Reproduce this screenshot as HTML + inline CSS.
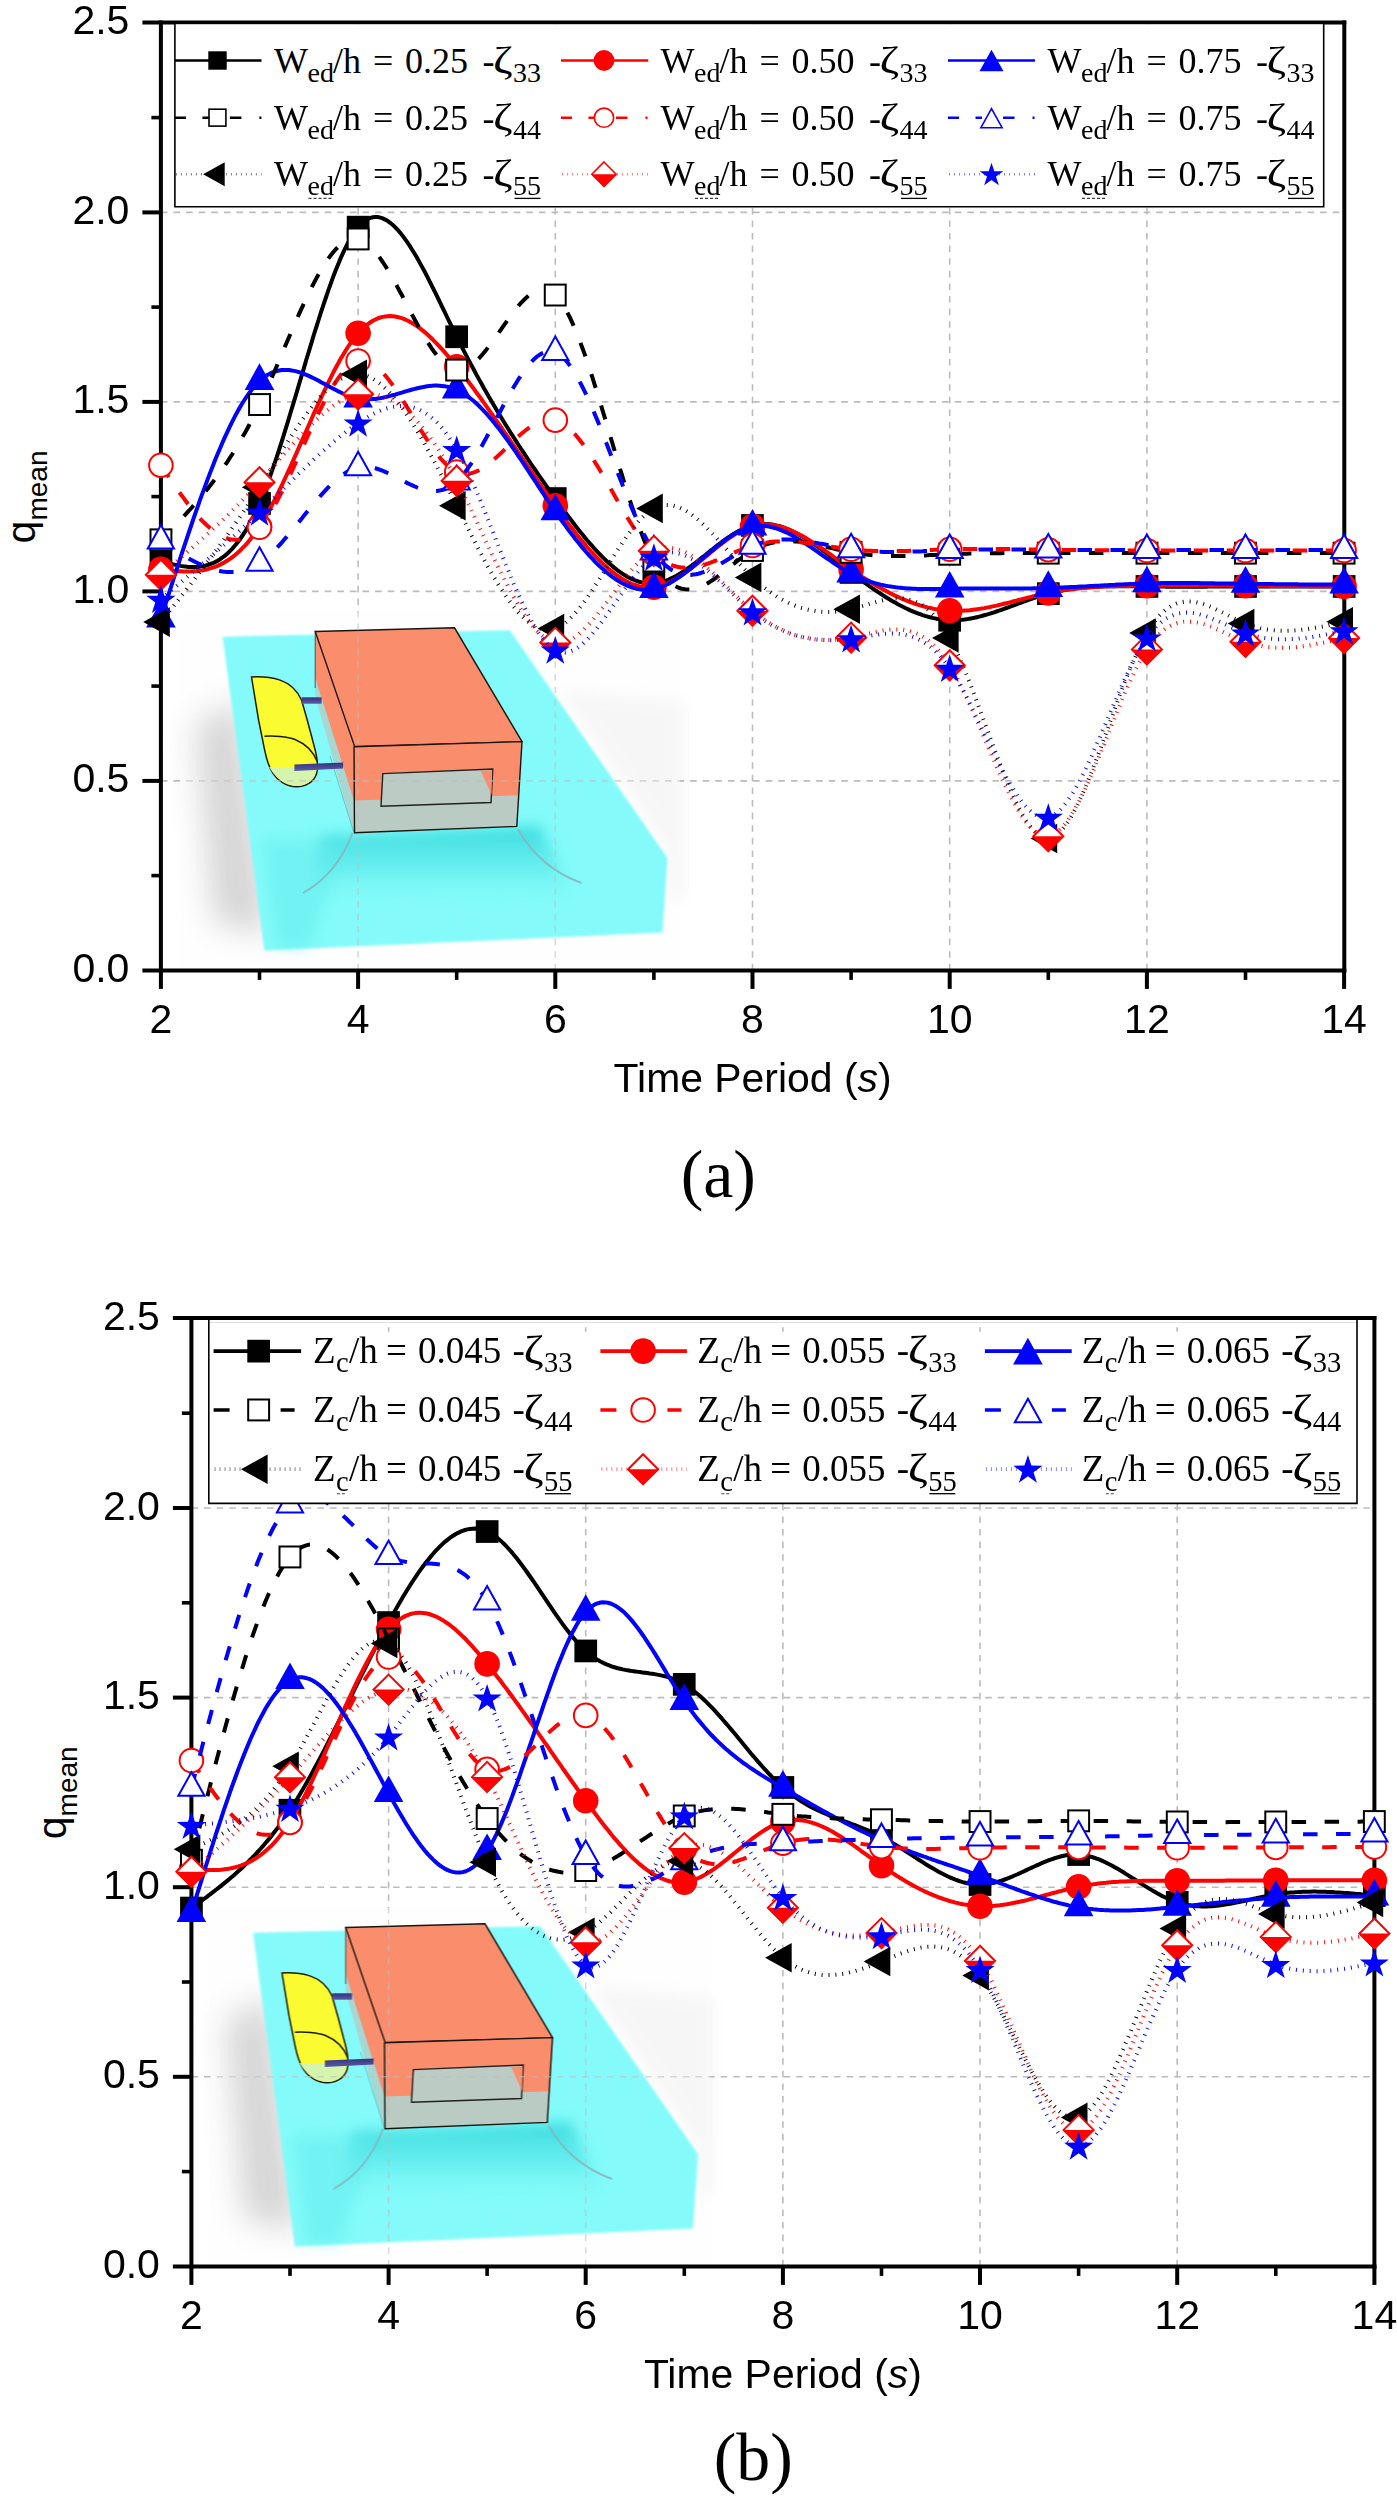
<!DOCTYPE html>
<html><head><meta charset="utf-8"><title>q_mean charts</title>
<style>html,body{margin:0;padding:0;background:#fff}svg{display:block;opacity:0.999}</style></head>
<body>
<svg width="1397" height="2500" viewBox="0 0 1397 2500">
<defs>

<filter id="blur14" x="-50%" y="-50%" width="200%" height="200%"><feGaussianBlur stdDeviation="16"/></filter>
<filter id="blur8" x="-50%" y="-50%" width="200%" height="200%"><feGaussianBlur stdDeviation="7"/></filter>
<filter id="blur2" x="-5%" y="-5%" width="110%" height="110%"><feGaussianBlur stdDeviation="1.1"/></filter>
<filter id="blur1" x="-5%" y="-5%" width="110%" height="110%"><feGaussianBlur stdDeviation="0.55"/></filter>
<linearGradient id="ush" x1="0" y1="0" x2="0" y2="1">
  <stop offset="0" stop-color="#35d9dc" stop-opacity="0.95"/><stop offset="0.45" stop-color="#4fe3e5" stop-opacity="0.6"/>
  <stop offset="1" stop-color="#86fbfb" stop-opacity="0"/></linearGradient>
<linearGradient id="rod" x1="0" y1="0" x2="0" y2="1">
  <stop offset="0" stop-color="#35357f"/><stop offset="1" stop-color="#5a5aa6"/></linearGradient>
<g id="inset">
  <rect x="180" y="612" width="500" height="357" fill="#fefefe"/>
  <path d="M196 725 L240 700 L270 935 L214 922 Z" fill="#767676" opacity="0.3" filter="url(#blur14)"/>
  <path d="M560 690 L668 850 L668 900 L682 900 L682 700 Z" fill="#9a9a9a" opacity="0.07" filter="url(#blur8)"/>
  <path d="M222.6 636.7 L509.8 630.2 L667.4 858.1 L662.4 932.6 L264.4 950.6 Z" fill="#84fbfa" filter="url(#blur2)"/>
  <path d="M322 836 L540 826 L575 900 L306 910 Z" fill="url(#ush)" filter="url(#blur8)"/>
  <path d="M262 840 L345 838 L310 948 L276 948 Z" fill="#5fe8ea" opacity="0.45" filter="url(#blur8)"/>
  <g filter="url(#blur1)">
  <!-- mooring lines -->
  <path d="M352.5 833 Q337 874 303 893" fill="none" stroke="#86b4bd" stroke-width="2" opacity="0.85"/>
  <path d="M518.1 829.5 Q540 868 581.5 883" fill="none" stroke="#86b4bd" stroke-width="2" opacity="0.85"/>
  <!-- left side face -->
  <path d="M315.2 631.5 L354.6 744.6 L353.8 832.5 L315.2 696 Z" fill="#a9d6d1"/>
  <path d="M315.2 631.5 L354.6 744.6 L353.9 800.2 L315.2 677.5 Z" fill="#f98d6d"/>
  <path d="M315.2 631.5 L315.2 688" fill="none" stroke="#384848" stroke-width="1.1" opacity="0.8"/>
  <path d="M353.8 832.5 L330 756" fill="none" stroke="#5aa0a4" stroke-width="1" opacity="0.6"/>
  <!-- top -->
  <path d="M315.2 631.5 L454.5 627.8 L522 741.6 L354.6 746.4 Z" fill="#fa8d6d" stroke="#1c1410" stroke-width="1.4"/>
  <!-- front face -->
  <path d="M354 746.9 L522 741.6 L516.8 826.4 L354.5 832.7 Z" fill="#bacbc4"/>
  <path d="M354 746.9 L522 741.6 L519 795.2 L354.2 800.4 Z" fill="#fa8d6d"/>
  <path d="M354 746.9 L522 741.6 L516.8 826.4 L354.5 832.7 Z" fill="none" stroke="#1c1410" stroke-width="1.4"/>
  <path d="M382.8 773.6 L492.8 769 L491 802.5 L381 806.3 Z" fill="#bccbc4" stroke="#222" stroke-width="1.4"/>
  <path d="M480.7 771 L492.2 770.2 L491.5 794.6 Z" fill="#fa8d6d"/>
  <!-- flap -->
  <path d="M251.5 677 C262 676.4 272 677.6 280.1 680.1 C290 683.5 297 689.8 301.6 700.2 L307.3 720.2 L313 741.7 C316 752 318.3 763 317.3 770 C316.3 779.5 309 786 297.3 786.8 C287 787.2 277.5 780.5 272.9 773.2 C268.2 766 266 757 264.4 748.8 L258.6 720.2 Z" fill="#fbfb31" stroke="#1e1e08" stroke-width="1.5"/>
  <path d="M269.3 767 C274 776 284 786 297.3 786.1 C308 785.6 315.6 779 316.7 768 Z" fill="#d6f5ad"/>
  <path d="M264.4 736.2 C273 735.6 287.3 736.4 295 739.5 C306 744 313.5 752 317.3 761.7" fill="none" stroke="#1e1e08" stroke-width="1.5"/>
  <!-- rods -->
  <path d="M301.6 697.3 H321.6 V703.7 H301.6 Z" fill="url(#rod)"/>
  <path d="M294.4 764.6 L343.1 762.4 L343.1 768.6 L294.4 771 Z" fill="url(#rod)"/>
  </g>
</g>
<clipPath id="clipa"><rect x="140.9" y="22.4" width="1223.4" height="948"/></clipPath>
<clipPath id="clipb"><rect x="171.4" y="1318" width="1223" height="948.4"/></clipPath>
</defs>
<rect width="1397" height="2500" fill="#fff"/>
<use href="#inset" transform="translate(0 0)"/>
<g fill="none" stroke="#bcbcbc" stroke-width="1.6" stroke-dasharray="6.6 6"><path d="M358.1 970.4V22.4" /><path d="M555.3 970.4V22.4" /><path d="M752.5 970.4V22.4" /><path d="M949.7 970.4V22.4" /><path d="M1146.9 970.4V22.4" /><path d="M160.9 780.9H1344.3" /><path d="M160.9 591.4H1344.3" /><path d="M160.9 401.9H1344.3" /><path d="M160.9 212.4H1344.3" /></g>
<use href="#inset" transform="translate(0 0)" opacity="0.45"/>
<g stroke="#000" stroke-width="4" fill="none" stroke-linecap="butt">
<path d="M160.9 20.4V972.4"/>
<path d="M1344.3 20.4V972.4"/>
<path d="M142.4 22.4H1346.3"/>
<path d="M142.4 970.4H1346.3"/>
<path d="M151.4 875.6H160.9" stroke-width="3.6"/>
<path d="M142.4 780.9H160.9"/>
<path d="M151.4 686.1H160.9" stroke-width="3.6"/>
<path d="M142.4 591.4H160.9"/>
<path d="M151.4 496.6H160.9" stroke-width="3.6"/>
<path d="M142.4 401.9H160.9"/>
<path d="M151.4 307.1H160.9" stroke-width="3.6"/>
<path d="M142.4 212.4H160.9"/>
<path d="M151.4 117.6H160.9" stroke-width="3.6"/>
<path d="M160.9 970.4V988.9"/>
<path d="M259.5 970.4V979.9" stroke-width="3.6"/>
<path d="M358.1 970.4V988.9"/>
<path d="M456.7 970.4V979.9" stroke-width="3.6"/>
<path d="M555.3 970.4V988.9"/>
<path d="M653.9 970.4V979.9" stroke-width="3.6"/>
<path d="M752.5 970.4V988.9"/>
<path d="M851.1 970.4V979.9" stroke-width="3.6"/>
<path d="M949.7 970.4V988.9"/>
<path d="M1048.3 970.4V979.9" stroke-width="3.6"/>
<path d="M1146.9 970.4V988.9"/>
<path d="M1245.5 970.4V979.9" stroke-width="3.6"/>
<path d="M1344.1 970.4V988.9"/>
</g>
<g font-family="'Liberation Sans', sans-serif" font-size="41" fill="#000">
<text x="129.4" y="981.9" text-anchor="end">0.0</text>
<text x="129.4" y="792.4" text-anchor="end">0.5</text>
<text x="129.4" y="602.9" text-anchor="end">1.0</text>
<text x="129.4" y="413.4" text-anchor="end">1.5</text>
<text x="129.4" y="223.9" text-anchor="end">2.0</text>
<text x="129.4" y="34.4" text-anchor="end">2.5</text>
<text x="160.9" y="1033" text-anchor="middle">2</text>
<text x="358.1" y="1033" text-anchor="middle">4</text>
<text x="555.3" y="1033" text-anchor="middle">6</text>
<text x="752.5" y="1033" text-anchor="middle">8</text>
<text x="949.7" y="1033" text-anchor="middle">10</text>
<text x="1146.9" y="1033" text-anchor="middle">12</text>
<text x="1344.1" y="1033" text-anchor="middle">14</text>
<text x="752.6" y="1091.9" text-anchor="middle" font-size="40.9">Time Period (<tspan font-style="italic">s</tspan>)</text>
<text transform="translate(35 543.4) rotate(-90)" font-size="41">q<tspan font-size="28" dy="11.5">mean</tspan></text>
</g>
<g clip-path="url(#clipa)">
<path d="M160.9 561.1L163.4 561.8L165.8 562.4L168.3 563.1L170.8 563.7L173.2 564.4L175.7 564.9L178.2 565.4L180.6 565.9L183.1 566.3L185.6 566.6L188 566.9L190.5 567L192.9 567.1L195.4 567.1L197.9 566.9L200.3 566.6L202.8 566.2L205.3 565.7L207.7 565L210.2 564.2L212.7 563.2L215.1 562.1L217.6 560.7L220.1 559.2L222.5 557.5L225 555.6L227.5 553.5L229.9 551.1L232.4 548.6L234.8 545.8L237.3 542.8L239.8 539.5L242.2 536L244.7 532.2L247.2 528.1L249.6 523.8L252.1 519.2L254.6 514.2L257 509L259.5 503.5L262 497.6L264.4 491.5L266.9 485L269.4 478.3L271.8 471.4L274.3 464.2L276.8 456.9L279.2 449.3L281.7 441.6L284.1 433.8L286.6 425.8L289.1 417.7L291.5 409.5L294 401.3L296.5 393L298.9 384.7L301.4 376.4L303.9 368.1L306.3 359.8L308.8 351.6L311.3 343.4L313.7 335.3L316.2 327.4L318.7 319.5L321.1 311.8L323.6 304.3L326.1 297L328.5 289.8L331 282.9L333.4 276.2L335.9 269.8L338.4 263.7L340.8 257.9L343.3 252.4L345.8 247.2L348.2 242.4L350.7 238L353.2 234L355.6 230.4L358.1 227.2L360.6 224.5L363 222.2L365.5 220.3L368 218.9L370.4 217.9L372.9 217.3L375.4 217L377.8 217.1L380.3 217.6L382.8 218.4L385.2 219.6L387.7 221L390.1 222.8L392.6 224.8L395.1 227.1L397.5 229.7L400 232.5L402.5 235.6L404.9 238.9L407.4 242.4L409.9 246.1L412.3 250L414.8 254L417.3 258.2L419.7 262.6L422.2 267.1L424.7 271.7L427.1 276.4L429.6 281.3L432 286.1L434.5 291.1L437 296.1L439.4 301.2L441.9 306.3L444.4 311.4L446.8 316.5L449.3 321.6L451.8 326.7L454.2 331.7L456.7 336.7L459.2 341.6L461.6 346.5L464.1 351.3L466.6 356.1L469 360.8L471.5 365.4L474 370L476.4 374.6L478.9 379.1L481.4 383.5L483.8 387.9L486.3 392.2L488.7 396.5L491.2 400.7L493.7 404.9L496.1 409.1L498.6 413.2L501.1 417.3L503.5 421.3L506 425.3L508.5 429.2L510.9 433.2L513.4 437L515.9 440.9L518.3 444.7L520.8 448.5L523.3 452.2L525.7 455.9L528.2 459.6L530.6 463.3L533.1 466.9L535.6 470.5L538 474.1L540.5 477.6L543 481.2L545.4 484.7L547.9 488.2L550.4 491.6L552.8 495.1L555.3 498.5L557.8 502L560.2 505.4L562.7 508.8L565.2 512.1L567.6 515.4L570.1 518.7L572.6 522L575 525.2L577.5 528.4L579.9 531.5L582.4 534.6L584.9 537.6L587.3 540.5L589.8 543.4L592.3 546.2L594.7 549L597.2 551.6L599.7 554.2L602.1 556.7L604.6 559.1L607.1 561.5L609.5 563.7L612 565.8L614.5 567.9L616.9 569.8L619.4 571.6L621.9 573.3L624.3 574.9L626.8 576.4L629.2 577.7L631.7 578.9L634.2 580L636.6 580.9L639.1 581.8L641.6 582.4L644 582.9L646.5 583.3L649 583.5L651.4 583.6L653.9 583.4L656.4 583.2L658.8 582.7L661.3 582.1L663.8 581.4L666.2 580.6L668.7 579.6L671.2 578.4L673.6 577.2L676.1 575.9L678.5 574.5L681 573L683.5 571.4L685.9 569.7L688.4 568L690.9 566.2L693.3 564.3L695.8 562.5L698.3 560.6L700.7 558.6L703.2 556.7L705.7 554.7L708.1 552.7L710.6 550.7L713.1 548.8L715.5 546.8L718 544.9L720.5 543.1L722.9 541.2L725.4 539.4L727.8 537.7L730.3 536.1L732.8 534.5L735.2 533L737.7 531.6L740.2 530.3L742.6 529.1L745.1 528L747.6 527L750 526.2L752.5 525.5L755 524.9L757.4 524.5L759.9 524.2L762.4 524L764.8 524L767.3 524.1L769.8 524.3L772.2 524.6L774.7 525.1L777.1 525.6L779.6 526.3L782.1 527L784.5 527.9L787 528.8L789.5 529.9L791.9 531L794.4 532.2L796.9 533.4L799.3 534.8L801.8 536.2L804.3 537.7L806.7 539.2L809.2 540.8L811.7 542.4L814.1 544.1L816.6 545.9L819.1 547.6L821.5 549.4L824 551.3L826.4 553.1L828.9 555L831.4 556.9L833.8 558.9L836.3 560.8L838.8 562.8L841.2 564.7L843.7 566.7L846.2 568.6L848.6 570.5L851.1 572.5L853.6 574.4L856 576.2L858.5 578.1L861 580L863.4 581.8L865.9 583.6L868.4 585.4L870.8 587.1L873.3 588.8L875.7 590.5L878.2 592.2L880.7 593.8L883.1 595.4L885.6 597L888.1 598.5L890.5 600L893 601.4L895.5 602.8L897.9 604.2L900.4 605.5L902.9 606.7L905.3 608L907.8 609.1L910.3 610.3L912.7 611.3L915.2 612.3L917.7 613.3L920.1 614.2L922.6 615.1L925 615.9L927.5 616.6L930 617.3L932.4 617.9L934.9 618.4L937.4 618.9L939.8 619.3L942.3 619.6L944.8 619.9L947.2 620.1L949.7 620.2L952.2 620.3L954.6 620.2L957.1 620.1L959.6 620L962 619.8L964.5 619.5L967 619.1L969.4 618.7L971.9 618.3L974.3 617.8L976.8 617.2L979.3 616.6L981.7 616L984.2 615.3L986.7 614.6L989.1 613.9L991.6 613.1L994.1 612.3L996.5 611.5L999 610.7L1001.5 609.8L1003.9 608.9L1006.4 608L1008.9 607.2L1011.3 606.2L1013.8 605.3L1016.3 604.4L1018.7 603.5L1021.2 602.6L1023.6 601.7L1026.1 600.8L1028.6 599.9L1031 599.1L1033.5 598.2L1036 597.4L1038.4 596.6L1040.9 595.8L1043.4 595.1L1045.8 594.4L1048.3 593.7L1050.8 593L1053.2 592.4L1055.7 591.9L1058.2 591.3L1060.6 590.8L1063.1 590.3L1065.6 589.9L1068 589.5L1070.5 589.1L1073 588.8L1075.4 588.4L1077.9 588.1L1080.3 587.9L1082.8 587.6L1085.3 587.4L1087.7 587.2L1090.2 587L1092.7 586.9L1095.1 586.7L1097.6 586.6L1100.1 586.5L1102.5 586.4L1105 586.3L1107.5 586.3L1109.9 586.2L1112.4 586.2L1114.9 586.2L1117.3 586.2L1119.8 586.2L1122.2 586.2L1124.7 586.2L1127.2 586.2L1129.6 586.2L1132.1 586.3L1134.6 586.3L1137 586.3L1139.5 586.4L1142 586.4L1144.4 586.4L1146.9 586.5L1149.4 586.5L1151.8 586.5L1154.3 586.6L1156.8 586.6L1159.2 586.6L1161.7 586.6L1164.2 586.6L1166.6 586.7L1169.1 586.7L1171.5 586.7L1174 586.7L1176.5 586.7L1178.9 586.7L1181.4 586.7L1183.9 586.7L1186.3 586.7L1188.8 586.7L1191.3 586.7L1193.7 586.7L1196.2 586.7L1198.7 586.7L1201.1 586.7L1203.6 586.7L1206.1 586.7L1208.5 586.6L1211 586.6L1213.5 586.6L1215.9 586.6L1218.4 586.6L1220.9 586.6L1223.3 586.6L1225.8 586.6L1228.2 586.6L1230.7 586.5L1233.2 586.5L1235.6 586.5L1238.1 586.5L1240.6 586.5L1243 586.5L1245.5 586.5L1248 586.5L1250.4 586.5L1252.9 586.4L1255.4 586.4L1257.8 586.4L1260.3 586.4L1262.8 586.4L1265.2 586.4L1267.7 586.4L1270.2 586.4L1272.6 586.4L1275.1 586.4L1277.5 586.4L1280 586.4L1282.5 586.4L1284.9 586.4L1287.4 586.4L1289.9 586.4L1292.3 586.4L1294.8 586.4L1297.3 586.4L1299.7 586.4L1302.2 586.4L1304.7 586.4L1307.1 586.4L1309.6 586.4L1312.1 586.4L1314.5 586.4L1317 586.4L1319.5 586.4L1321.9 586.4L1324.4 586.4L1326.8 586.4L1329.3 586.4L1331.8 586.4L1334.2 586.5L1336.7 586.5L1339.2 586.5L1341.6 586.5L1344.1 586.5" fill="none" stroke="#000000" stroke-width="4.0"/>
<rect x="149.6" y="549.7" width="22.7" height="22.7" fill="#000000"/>
<rect x="248.2" y="492.1" width="22.7" height="22.7" fill="#000000"/>
<rect x="346.8" y="215.8" width="22.7" height="22.7" fill="#000000"/>
<rect x="445.3" y="325.4" width="22.7" height="22.7" fill="#000000"/>
<rect x="543.9" y="487.2" width="22.7" height="22.7" fill="#000000"/>
<rect x="642.5" y="572.1" width="22.7" height="22.7" fill="#000000"/>
<rect x="741.1" y="514.1" width="22.7" height="22.7" fill="#000000"/>
<rect x="839.7" y="561.1" width="22.7" height="22.7" fill="#000000"/>
<rect x="938.3" y="608.9" width="22.7" height="22.7" fill="#000000"/>
<rect x="1037" y="582.3" width="22.7" height="22.7" fill="#000000"/>
<rect x="1135.6" y="575.1" width="22.7" height="22.7" fill="#000000"/>
<rect x="1234.2" y="575.1" width="22.7" height="22.7" fill="#000000"/>
<rect x="1332.8" y="575.1" width="22.7" height="22.7" fill="#000000"/>
<path d="M160.9 569.4L163.4 569.7L165.8 570L168.3 570.3L170.8 570.5L173.2 570.8L175.7 571L178.2 571.2L180.6 571.3L183.1 571.4L185.6 571.5L188 571.5L190.5 571.4L192.9 571.3L195.4 571.2L197.9 570.9L200.3 570.6L202.8 570.2L205.3 569.7L207.7 569.1L210.2 568.4L212.7 567.7L215.1 566.8L217.6 565.8L220.1 564.6L222.5 563.4L225 562L227.5 560.5L229.9 558.9L232.4 557.1L234.8 555.2L237.3 553.1L239.8 550.8L242.2 548.4L244.7 545.9L247.2 543.1L249.6 540.2L252.1 537.1L254.6 533.8L257 530.3L259.5 526.6L262 522.7L264.4 518.6L266.9 514.3L269.4 509.9L271.8 505.3L274.3 500.6L276.8 495.7L279.2 490.7L281.7 485.5L284.1 480.3L286.6 475L289.1 469.6L291.5 464.2L294 458.7L296.5 453.1L298.9 447.5L301.4 441.9L303.9 436.3L306.3 430.7L308.8 425.1L311.3 419.5L313.7 413.9L316.2 408.4L318.7 403L321.1 397.6L323.6 392.3L326.1 387.2L328.5 382.1L331 377.1L333.4 372.2L335.9 367.5L338.4 363L340.8 358.6L343.3 354.4L345.8 350.3L348.2 346.5L350.7 342.8L353.2 339.4L355.6 336.2L358.1 333.3L360.6 330.6L363 328.2L365.5 326L368 324L370.4 322.3L372.9 320.8L375.4 319.5L377.8 318.4L380.3 317.5L382.8 316.9L385.2 316.4L387.7 316.2L390.1 316.1L392.6 316.2L395.1 316.5L397.5 317L400 317.6L402.5 318.4L404.9 319.4L407.4 320.5L409.9 321.8L412.3 323.2L414.8 324.7L417.3 326.4L419.7 328.2L422.2 330.1L424.7 332.1L427.1 334.2L429.6 336.5L432 338.8L434.5 341.3L437 343.8L439.4 346.4L441.9 349.1L444.4 351.9L446.8 354.7L449.3 357.6L451.8 360.6L454.2 363.6L456.7 366.7L459.2 369.8L461.6 372.9L464.1 376.1L466.6 379.3L469 382.5L471.5 385.8L474 389.1L476.4 392.5L478.9 395.8L481.4 399.2L483.8 402.7L486.3 406.1L488.7 409.6L491.2 413.1L493.7 416.6L496.1 420.1L498.6 423.7L501.1 427.2L503.5 430.8L506 434.4L508.5 438L510.9 441.6L513.4 445.2L515.9 448.8L518.3 452.4L520.8 456L523.3 459.6L525.7 463.2L528.2 466.8L530.6 470.4L533.1 474L535.6 477.6L538 481.2L540.5 484.7L543 488.3L545.4 491.8L547.9 495.3L550.4 498.8L552.8 502.3L555.3 505.7L557.8 509.2L560.2 512.6L562.7 516L565.2 519.3L567.6 522.6L570.1 525.9L572.6 529.1L575 532.2L577.5 535.4L579.9 538.4L582.4 541.4L584.9 544.4L587.3 547.2L589.8 550L592.3 552.8L594.7 555.4L597.2 558L599.7 560.5L602.1 562.9L604.6 565.2L607.1 567.4L609.5 569.6L612 571.6L614.5 573.5L616.9 575.3L619.4 577L621.9 578.6L624.3 580.1L626.8 581.4L629.2 582.7L631.7 583.8L634.2 584.7L636.6 585.5L639.1 586.2L641.6 586.8L644 587.2L646.5 587.4L649 587.5L651.4 587.5L653.9 587.2L656.4 586.8L658.8 586.3L661.3 585.6L663.8 584.8L666.2 583.8L668.7 582.7L671.2 581.5L673.6 580.2L676.1 578.8L678.5 577.3L681 575.7L683.5 574L685.9 572.2L688.4 570.4L690.9 568.6L693.3 566.6L695.8 564.7L698.3 562.7L700.7 560.7L703.2 558.6L705.7 556.6L708.1 554.6L710.6 552.5L713.1 550.5L715.5 548.5L718 546.5L720.5 544.6L722.9 542.7L725.4 540.8L727.8 539L730.3 537.3L732.8 535.7L735.2 534.1L737.7 532.7L740.2 531.3L742.6 530L745.1 528.9L747.6 527.9L750 527L752.5 526.2L755 525.6L757.4 525.1L759.9 524.8L762.4 524.6L764.8 524.5L767.3 524.5L769.8 524.7L772.2 525L774.7 525.4L777.1 525.9L779.6 526.5L782.1 527.2L784.5 527.9L787 528.8L789.5 529.8L791.9 530.8L794.4 532L796.9 533.2L799.3 534.4L801.8 535.8L804.3 537.1L806.7 538.6L809.2 540.1L811.7 541.6L814.1 543.2L816.6 544.9L819.1 546.5L821.5 548.2L824 549.9L826.4 551.7L828.9 553.4L831.4 555.2L833.8 557L836.3 558.8L838.8 560.6L841.2 562.4L843.7 564.2L846.2 565.9L848.6 567.7L851.1 569.4L853.6 571.1L856 572.8L858.5 574.5L861 576.1L863.4 577.7L865.9 579.3L868.4 580.8L870.8 582.4L873.3 583.9L875.7 585.3L878.2 586.7L880.7 588.1L883.1 589.5L885.6 590.8L888.1 592.1L890.5 593.4L893 594.6L895.5 595.8L897.9 596.9L900.4 598L902.9 599.1L905.3 600.1L907.8 601.1L910.3 602L912.7 602.9L915.2 603.8L917.7 604.6L920.1 605.4L922.6 606.1L925 606.7L927.5 607.4L930 607.9L932.4 608.5L934.9 609L937.4 609.4L939.8 609.8L942.3 610.1L944.8 610.4L947.2 610.6L949.7 610.7L952.2 610.8L954.6 610.9L957.1 610.9L959.6 610.8L962 610.8L964.5 610.6L967 610.4L969.4 610.2L971.9 609.9L974.3 609.6L976.8 609.3L979.3 608.9L981.7 608.5L984.2 608.1L986.7 607.6L989.1 607.2L991.6 606.6L994.1 606.1L996.5 605.6L999 605L1001.5 604.4L1003.9 603.8L1006.4 603.2L1008.9 602.6L1011.3 602L1013.8 601.3L1016.3 600.7L1018.7 600L1021.2 599.4L1023.6 598.8L1026.1 598.1L1028.6 597.5L1031 596.9L1033.5 596.3L1036 595.7L1038.4 595.1L1040.9 594.5L1043.4 594L1045.8 593.4L1048.3 592.9L1050.8 592.4L1053.2 592L1055.7 591.5L1058.2 591.1L1060.6 590.7L1063.1 590.3L1065.6 590L1068 589.6L1070.5 589.3L1073 589L1075.4 588.7L1077.9 588.5L1080.3 588.2L1082.8 588L1085.3 587.8L1087.7 587.6L1090.2 587.4L1092.7 587.2L1095.1 587L1097.6 586.9L1100.1 586.7L1102.5 586.6L1105 586.5L1107.5 586.4L1109.9 586.3L1112.4 586.2L1114.9 586.2L1117.3 586.1L1119.8 586L1122.2 586L1124.7 585.9L1127.2 585.9L1129.6 585.9L1132.1 585.8L1134.6 585.8L1137 585.8L1139.5 585.8L1142 585.7L1144.4 585.7L1146.9 585.7L1149.4 585.7L1151.8 585.7L1154.3 585.7L1156.8 585.7L1159.2 585.7L1161.7 585.6L1164.2 585.6L1166.6 585.6L1169.1 585.6L1171.5 585.6L1174 585.6L1176.5 585.6L1178.9 585.6L1181.4 585.6L1183.9 585.6L1186.3 585.6L1188.8 585.6L1191.3 585.6L1193.7 585.6L1196.2 585.6L1198.7 585.6L1201.1 585.6L1203.6 585.6L1206.1 585.6L1208.5 585.6L1211 585.6L1213.5 585.6L1215.9 585.6L1218.4 585.6L1220.9 585.6L1223.3 585.6L1225.8 585.6L1228.2 585.6L1230.7 585.7L1233.2 585.7L1235.6 585.7L1238.1 585.7L1240.6 585.7L1243 585.7L1245.5 585.7L1248 585.7L1250.4 585.7L1252.9 585.8L1255.4 585.8L1257.8 585.8L1260.3 585.8L1262.8 585.8L1265.2 585.8L1267.7 585.8L1270.2 585.9L1272.6 585.9L1275.1 585.9L1277.5 585.9L1280 585.9L1282.5 585.9L1284.9 586L1287.4 586L1289.9 586L1292.3 586L1294.8 586L1297.3 586.1L1299.7 586.1L1302.2 586.1L1304.7 586.1L1307.1 586.1L1309.6 586.2L1312.1 586.2L1314.5 586.2L1317 586.2L1319.5 586.3L1321.9 586.3L1324.4 586.3L1326.8 586.3L1329.3 586.3L1331.8 586.4L1334.2 586.4L1336.7 586.4L1339.2 586.4L1341.6 586.5L1344.1 586.5" fill="none" stroke="#ff0000" stroke-width="4.0"/>
<circle cx="160.9" cy="569.4" r="12.8" fill="#ff0000"/>
<circle cx="259.5" cy="526.6" r="12.8" fill="#ff0000"/>
<circle cx="358.1" cy="333.3" r="12.8" fill="#ff0000"/>
<circle cx="456.7" cy="366.7" r="12.8" fill="#ff0000"/>
<circle cx="555.3" cy="505.7" r="12.8" fill="#ff0000"/>
<circle cx="653.9" cy="587.2" r="12.8" fill="#ff0000"/>
<circle cx="752.5" cy="526.2" r="12.8" fill="#ff0000"/>
<circle cx="851.1" cy="569.4" r="12.8" fill="#ff0000"/>
<circle cx="949.7" cy="610.7" r="12.8" fill="#ff0000"/>
<circle cx="1048.3" cy="592.9" r="12.8" fill="#ff0000"/>
<circle cx="1146.9" cy="585.7" r="12.8" fill="#ff0000"/>
<circle cx="1245.5" cy="585.7" r="12.8" fill="#ff0000"/>
<circle cx="1344.1" cy="586.5" r="12.8" fill="#ff0000"/>
<path d="M160.9 618.7L163.4 610.9L165.8 603.2L168.3 595.4L170.8 587.7L173.2 580L175.7 572.4L178.2 564.8L180.6 557.2L183.1 549.7L185.6 542.2L188 534.9L190.5 527.5L192.9 520.3L195.4 513.2L197.9 506.1L200.3 499.2L202.8 492.4L205.3 485.7L207.7 479.1L210.2 472.6L212.7 466.3L215.1 460.1L217.6 454.1L220.1 448.2L222.5 442.5L225 436.9L227.5 431.6L229.9 426.4L232.4 421.4L234.8 416.6L237.3 412L239.8 407.6L242.2 403.5L244.7 399.5L247.2 395.8L249.6 392.4L252.1 389.2L254.6 386.2L257 383.5L259.5 381.1L262 378.9L264.4 377L266.9 375.3L269.4 373.9L271.8 372.7L274.3 371.8L276.8 371L279.2 370.5L281.7 370.1L284.1 369.9L286.6 369.9L289.1 370.1L291.5 370.4L294 370.9L296.5 371.4L298.9 372.1L301.4 372.9L303.9 373.9L306.3 374.9L308.8 375.9L311.3 377.1L313.7 378.3L316.2 379.5L318.7 380.8L321.1 382.2L323.6 383.5L326.1 384.8L328.5 386.2L331 387.5L333.4 388.8L335.9 390.1L338.4 391.4L340.8 392.5L343.3 393.7L345.8 394.7L348.2 395.7L350.7 396.5L353.2 397.3L355.6 398L358.1 398.5L360.6 398.9L363 399.2L365.5 399.3L368 399.3L370.4 399.3L372.9 399.1L375.4 398.9L377.8 398.5L380.3 398.1L382.8 397.7L385.2 397.1L387.7 396.5L390.1 395.9L392.6 395.2L395.1 394.6L397.5 393.8L400 393.1L402.5 392.4L404.9 391.6L407.4 390.9L409.9 390.2L412.3 389.5L414.8 388.9L417.3 388.2L419.7 387.7L422.2 387.2L424.7 386.7L427.1 386.3L429.6 386L432 385.8L434.5 385.6L437 385.6L439.4 385.7L441.9 385.9L444.4 386.2L446.8 386.6L449.3 387.2L451.8 387.9L454.2 388.7L456.7 389.8L459.2 391L461.6 392.3L464.1 393.8L466.6 395.5L469 397.3L471.5 399.2L474 401.3L476.4 403.5L478.9 405.8L481.4 408.3L483.8 410.8L486.3 413.5L488.7 416.3L491.2 419.2L493.7 422.1L496.1 425.2L498.6 428.3L501.1 431.6L503.5 434.9L506 438.2L508.5 441.6L510.9 445.1L513.4 448.6L515.9 452.2L518.3 455.8L520.8 459.5L523.3 463.2L525.7 466.9L528.2 470.6L530.6 474.3L533.1 478.1L535.6 481.8L538 485.6L540.5 489.4L543 493.1L545.4 496.8L547.9 500.5L550.4 504.2L552.8 507.8L555.3 511.4L557.8 515L560.2 518.5L562.7 522L565.2 525.4L567.6 528.8L570.1 532.1L572.6 535.3L575 538.5L577.5 541.6L579.9 544.6L582.4 547.6L584.9 550.5L587.3 553.3L589.8 556.1L592.3 558.7L594.7 561.3L597.2 563.8L599.7 566.2L602.1 568.4L604.6 570.6L607.1 572.7L609.5 574.7L612 576.6L614.5 578.3L616.9 580L619.4 581.5L621.9 583L624.3 584.2L626.8 585.4L629.2 586.5L631.7 587.4L634.2 588.1L636.6 588.8L639.1 589.3L641.6 589.6L644 589.8L646.5 589.9L649 589.8L651.4 589.5L653.9 589.1L656.4 588.6L658.8 587.8L661.3 587L663.8 586L666.2 584.8L668.7 583.6L671.2 582.2L673.6 580.8L676.1 579.2L678.5 577.5L681 575.8L683.5 574L685.9 572.1L688.4 570.2L690.9 568.2L693.3 566.2L695.8 564.1L698.3 562.1L700.7 560L703.2 557.9L705.7 555.8L708.1 553.7L710.6 551.6L713.1 549.6L715.5 547.6L718 545.6L720.5 543.6L722.9 541.8L725.4 540L727.8 538.2L730.3 536.6L732.8 535L735.2 533.5L737.7 532.2L740.2 530.9L742.6 529.8L745.1 528.8L747.6 527.9L750 527.2L752.5 526.6L755 526.2L757.4 525.9L759.9 525.8L762.4 525.8L764.8 526L767.3 526.3L769.8 526.7L772.2 527.3L774.7 528L777.1 528.7L779.6 529.6L782.1 530.6L784.5 531.6L787 532.8L789.5 534L791.9 535.3L794.4 536.7L796.9 538.1L799.3 539.6L801.8 541.1L804.3 542.7L806.7 544.3L809.2 546L811.7 547.7L814.1 549.4L816.6 551.1L819.1 552.8L821.5 554.6L824 556.3L826.4 558L828.9 559.7L831.4 561.4L833.8 563.1L836.3 564.7L838.8 566.3L841.2 567.9L843.7 569.4L846.2 570.9L848.6 572.3L851.1 573.6L853.6 574.8L856 576L858.5 577.2L861 578.2L863.4 579.2L865.9 580.2L868.4 581L870.8 581.9L873.3 582.6L875.7 583.3L878.2 584L880.7 584.6L883.1 585.1L885.6 585.7L888.1 586.1L890.5 586.5L893 586.9L895.5 587.3L897.9 587.6L900.4 587.8L902.9 588.1L905.3 588.3L907.8 588.5L910.3 588.6L912.7 588.7L915.2 588.8L917.7 588.9L920.1 589L922.6 589L925 589L927.5 589L930 589L932.4 589L934.9 589L937.4 588.9L939.8 588.9L942.3 588.9L944.8 588.8L947.2 588.8L949.7 588.7L952.2 588.7L954.6 588.7L957.1 588.7L959.6 588.6L962 588.6L964.5 588.6L967 588.6L969.4 588.6L971.9 588.6L974.3 588.6L976.8 588.6L979.3 588.6L981.7 588.6L984.2 588.6L986.7 588.6L989.1 588.6L991.6 588.6L994.1 588.6L996.5 588.6L999 588.6L1001.5 588.6L1003.9 588.5L1006.4 588.5L1008.9 588.5L1011.3 588.5L1013.8 588.5L1016.3 588.5L1018.7 588.5L1021.2 588.5L1023.6 588.5L1026.1 588.4L1028.6 588.4L1031 588.4L1033.5 588.3L1036 588.3L1038.4 588.2L1040.9 588.2L1043.4 588.1L1045.8 588.1L1048.3 588L1050.8 587.9L1053.2 587.8L1055.7 587.7L1058.2 587.6L1060.6 587.6L1063.1 587.4L1065.6 587.3L1068 587.2L1070.5 587.1L1073 587L1075.4 586.9L1077.9 586.7L1080.3 586.6L1082.8 586.5L1085.3 586.4L1087.7 586.2L1090.2 586.1L1092.7 586L1095.1 585.8L1097.6 585.7L1100.1 585.6L1102.5 585.4L1105 585.3L1107.5 585.2L1109.9 585L1112.4 584.9L1114.9 584.8L1117.3 584.6L1119.8 584.5L1122.2 584.4L1124.7 584.3L1127.2 584.2L1129.6 584.1L1132.1 584L1134.6 583.9L1137 583.8L1139.5 583.7L1142 583.6L1144.4 583.5L1146.9 583.4L1149.4 583.4L1151.8 583.3L1154.3 583.3L1156.8 583.2L1159.2 583.2L1161.7 583.1L1164.2 583.1L1166.6 583.1L1169.1 583.1L1171.5 583L1174 583L1176.5 583L1178.9 583L1181.4 583L1183.9 583L1186.3 583L1188.8 583.1L1191.3 583.1L1193.7 583.1L1196.2 583.1L1198.7 583.1L1201.1 583.2L1203.6 583.2L1206.1 583.2L1208.5 583.2L1211 583.3L1213.5 583.3L1215.9 583.4L1218.4 583.4L1220.9 583.4L1223.3 583.5L1225.8 583.5L1228.2 583.5L1230.7 583.6L1233.2 583.6L1235.6 583.7L1238.1 583.7L1240.6 583.7L1243 583.8L1245.5 583.8L1248 583.9L1250.4 583.9L1252.9 583.9L1255.4 584L1257.8 584L1260.3 584L1262.8 584L1265.2 584.1L1267.7 584.1L1270.2 584.1L1272.6 584.1L1275.1 584.2L1277.5 584.2L1280 584.2L1282.5 584.2L1284.9 584.3L1287.4 584.3L1289.9 584.3L1292.3 584.3L1294.8 584.3L1297.3 584.3L1299.7 584.4L1302.2 584.4L1304.7 584.4L1307.1 584.4L1309.6 584.4L1312.1 584.4L1314.5 584.4L1317 584.5L1319.5 584.5L1321.9 584.5L1324.4 584.5L1326.8 584.5L1329.3 584.5L1331.8 584.5L1334.2 584.5L1336.7 584.5L1339.2 584.6L1341.6 584.6L1344.1 584.6" fill="none" stroke="#0000ff" stroke-width="4.0"/>
<path d="M160.9 601L175.7 627.6L146.1 627.6Z" fill="#0000ff"/>
<path d="M259.5 363.3L274.3 389.9L244.7 389.9Z" fill="#0000ff"/>
<path d="M358.1 380.8L372.9 407.4L343.3 407.4Z" fill="#0000ff"/>
<path d="M456.7 372L471.5 398.6L441.9 398.6Z" fill="#0000ff"/>
<path d="M555.3 493.7L570.1 520.3L540.5 520.3Z" fill="#0000ff"/>
<path d="M653.9 571.4L668.7 598L639.1 598Z" fill="#0000ff"/>
<path d="M752.5 508.9L767.3 535.5L737.7 535.5Z" fill="#0000ff"/>
<path d="M851.1 555.9L865.9 582.5L836.3 582.5Z" fill="#0000ff"/>
<path d="M949.7 571L964.5 597.6L934.9 597.6Z" fill="#0000ff"/>
<path d="M1048.3 570.3L1063.1 596.9L1033.5 596.9Z" fill="#0000ff"/>
<path d="M1146.9 565.7L1161.7 592.3L1132.1 592.3Z" fill="#0000ff"/>
<path d="M1245.5 566.1L1260.3 592.7L1230.7 592.7Z" fill="#0000ff"/>
<path d="M1344.1 566.8L1358.9 593.4L1329.3 593.4Z" fill="#0000ff"/>
<path d="M160.9 539.9L163.4 537.4L165.8 534.9L168.3 532.4L170.8 529.8L173.2 527.3L175.7 524.8L178.2 522.2L180.6 519.6L183.1 517L185.6 514.4L188 511.7L190.5 509L192.9 506.2L195.4 503.4L197.9 500.6L200.3 497.7L202.8 494.7L205.3 491.7L207.7 488.7L210.2 485.5L212.7 482.3L215.1 479.1L217.6 475.7L220.1 472.3L222.5 468.8L225 465.3L227.5 461.6L229.9 457.8L232.4 454L234.8 450L237.3 446L239.8 441.8L242.2 437.6L244.7 433.2L247.2 428.8L249.6 424.2L252.1 419.4L254.6 414.6L257 409.6L259.5 404.6L262 399.3L264.4 394L266.9 388.5L269.4 383L271.8 377.4L274.3 371.7L276.8 366L279.2 360.2L281.7 354.4L284.1 348.6L286.6 342.8L289.1 337L291.5 331.3L294 325.6L296.5 319.9L298.9 314.4L301.4 308.9L303.9 303.5L306.3 298.3L308.8 293.1L311.3 288.1L313.7 283.3L316.2 278.6L318.7 274.2L321.1 269.9L323.6 265.8L326.1 262L328.5 258.4L331 255L333.4 252L335.9 249.2L338.4 246.7L340.8 244.5L343.3 242.6L345.8 241.1L348.2 239.9L350.7 239.1L353.2 238.6L355.6 238.6L358.1 238.9L360.6 239.7L363 240.9L365.5 242.4L368 244.3L370.4 246.5L372.9 249.1L375.4 251.9L377.8 255L380.3 258.4L382.8 262L385.2 265.8L387.7 269.8L390.1 273.9L392.6 278.2L395.1 282.6L397.5 287.1L400 291.7L402.5 296.3L404.9 301L407.4 305.7L409.9 310.4L412.3 315.1L414.8 319.7L417.3 324.2L419.7 328.7L422.2 333L424.7 337.2L427.1 341.3L429.6 345.2L432 348.8L434.5 352.3L437 355.5L439.4 358.5L441.9 361.1L444.4 363.5L446.8 365.6L449.3 367.3L451.8 368.6L454.2 369.5L456.7 370.1L459.2 370.2L461.6 369.9L464.1 369.2L466.6 368.1L469 366.8L471.5 365.1L474 363.1L476.4 360.9L478.9 358.4L481.4 355.7L483.8 352.8L486.3 349.8L488.7 346.6L491.2 343.3L493.7 339.9L496.1 336.4L498.6 332.9L501.1 329.4L503.5 325.8L506 322.3L508.5 318.9L510.9 315.5L513.4 312.2L515.9 309.1L518.3 306L520.8 303.2L523.3 300.6L525.7 298.1L528.2 296L530.6 294.1L533.1 292.4L535.6 291.1L538 290.2L540.5 289.6L543 289.4L545.4 289.6L547.9 290.2L550.4 291.3L552.8 292.9L555.3 295L557.8 297.6L560.2 300.8L562.7 304.4L565.2 308.5L567.6 313L570.1 317.9L572.6 323.3L575 329L577.5 335L579.9 341.4L582.4 348L584.9 354.9L587.3 362.1L589.8 369.5L592.3 377L594.7 384.8L597.2 392.7L599.7 400.8L602.1 408.9L604.6 417.1L607.1 425.4L609.5 433.7L612 442L614.5 450.3L616.9 458.5L619.4 466.7L621.9 474.8L624.3 482.8L626.8 490.6L629.2 498.3L631.7 505.8L634.2 513.1L636.6 520.2L639.1 527L641.6 533.5L644 539.7L646.5 545.6L649 551.2L651.4 556.3L653.9 561.1L656.4 565.4L658.8 569.4L661.3 572.9L663.8 576L666.2 578.8L668.7 581.3L671.2 583.3L673.6 585.1L676.1 586.5L678.5 587.7L681 588.5L683.5 589.1L685.9 589.4L688.4 589.5L690.9 589.4L693.3 589L695.8 588.4L698.3 587.7L700.7 586.7L703.2 585.6L705.7 584.3L708.1 583L710.6 581.4L713.1 579.8L715.5 578.1L718 576.3L720.5 574.5L722.9 572.5L725.4 570.6L727.8 568.6L730.3 566.6L732.8 564.6L735.2 562.7L737.7 560.7L740.2 558.8L742.6 557L745.1 555.2L747.6 553.5L750 551.9L752.5 550.5L755 549.1L757.4 547.9L759.9 546.8L762.4 545.8L764.8 544.9L767.3 544.1L769.8 543.4L772.2 542.9L774.7 542.4L777.1 542L779.6 541.7L782.1 541.4L784.5 541.3L787 541.2L789.5 541.2L791.9 541.3L794.4 541.4L796.9 541.6L799.3 541.8L801.8 542.1L804.3 542.4L806.7 542.8L809.2 543.2L811.7 543.7L814.1 544.2L816.6 544.7L819.1 545.2L821.5 545.7L824 546.3L826.4 546.9L828.9 547.5L831.4 548.1L833.8 548.6L836.3 549.2L838.8 549.8L841.2 550.3L843.7 550.9L846.2 551.4L848.6 551.9L851.1 552.4L853.6 552.8L856 553.2L858.5 553.6L861 553.9L863.4 554.2L865.9 554.5L868.4 554.8L870.8 555L873.3 555.2L875.7 555.4L878.2 555.5L880.7 555.7L883.1 555.8L885.6 555.9L888.1 555.9L890.5 556L893 556L895.5 556.1L897.9 556.1L900.4 556.1L902.9 556L905.3 556L907.8 555.9L910.3 555.9L912.7 555.8L915.2 555.7L917.7 555.7L920.1 555.6L922.6 555.5L925 555.4L927.5 555.3L930 555.1L932.4 555L934.9 554.9L937.4 554.8L939.8 554.7L942.3 554.6L944.8 554.5L947.2 554.4L949.7 554.3L952.2 554.2L954.6 554.1L957.1 554L959.6 553.9L962 553.8L964.5 553.8L967 553.7L969.4 553.6L971.9 553.6L974.3 553.5L976.8 553.5L979.3 553.4L981.7 553.4L984.2 553.3L986.7 553.3L989.1 553.3L991.6 553.2L994.1 553.2L996.5 553.2L999 553.2L1001.5 553.2L1003.9 553.1L1006.4 553.1L1008.9 553.1L1011.3 553.1L1013.8 553.1L1016.3 553.1L1018.7 553.1L1021.2 553.1L1023.6 553.1L1026.1 553.1L1028.6 553.1L1031 553.1L1033.5 553.1L1036 553.1L1038.4 553.1L1040.9 553.1L1043.4 553.1L1045.8 553.1L1048.3 553.1L1050.8 553.1L1053.2 553.1L1055.7 553.1L1058.2 553.1L1060.6 553.1L1063.1 553.1L1065.6 553.1L1068 553.1L1070.5 553.1L1073 553.1L1075.4 553.1L1077.9 553.1L1080.3 553.1L1082.8 553.1L1085.3 553.1L1087.7 553.1L1090.2 553.1L1092.7 553.1L1095.1 553.1L1097.6 553.1L1100.1 553.1L1102.5 553.1L1105 553.1L1107.5 553.1L1109.9 553.1L1112.4 553.1L1114.9 553.1L1117.3 553.1L1119.8 553.1L1122.2 553.1L1124.7 553.1L1127.2 553.1L1129.6 553.1L1132.1 553.1L1134.6 553.1L1137 553.1L1139.5 553.1L1142 553.1L1144.4 553.1L1146.9 553.1L1149.4 553.1L1151.8 553.1L1154.3 553.1L1156.8 553.1L1159.2 553.1L1161.7 553.1L1164.2 553.1L1166.6 553.1L1169.1 553.1L1171.5 553.1L1174 553.1L1176.5 553.1L1178.9 553.1L1181.4 553.1L1183.9 553.1L1186.3 553.1L1188.8 553.1L1191.3 553.1L1193.7 553.1L1196.2 553.1L1198.7 553.1L1201.1 553.1L1203.6 553.1L1206.1 553.1L1208.5 553.1L1211 553.1L1213.5 553.1L1215.9 553.1L1218.4 553.1L1220.9 553.1L1223.3 553.1L1225.8 553.1L1228.2 553.1L1230.7 553.1L1233.2 553.1L1235.6 553.1L1238.1 553.1L1240.6 553.1L1243 553.1L1245.5 553.1L1248 553.1L1250.4 553.1L1252.9 553.1L1255.4 553.1L1257.8 553.1L1260.3 553.1L1262.8 553.1L1265.2 553.1L1267.7 553.1L1270.2 553.1L1272.6 553.1L1275.1 553.1L1277.5 553.1L1280 553.1L1282.5 553.1L1284.9 553.1L1287.4 553.1L1289.9 553.1L1292.3 553.1L1294.8 553.1L1297.3 553.1L1299.7 553.1L1302.2 553.1L1304.7 553.1L1307.1 553.1L1309.6 553.1L1312.1 553.1L1314.5 553.1L1317 553.1L1319.5 553.1L1321.9 553.1L1324.4 553.1L1326.8 553.1L1329.3 553.1L1331.8 553.1L1334.2 553.1L1336.7 553.1L1339.2 553.1L1341.6 553.1L1344.1 553.1" fill="none" stroke="#000000" stroke-width="4.0" stroke-dasharray="14.5 18.5"/>
<rect x="150.5" y="529.4" width="20.9" height="20.9" fill="#fff" stroke="#000000" stroke-width="2"/>
<rect x="249.1" y="394.1" width="20.9" height="20.9" fill="#fff" stroke="#000000" stroke-width="2"/>
<rect x="347.7" y="228.5" width="20.9" height="20.9" fill="#fff" stroke="#000000" stroke-width="2"/>
<rect x="446.2" y="359.6" width="20.9" height="20.9" fill="#fff" stroke="#000000" stroke-width="2"/>
<rect x="544.8" y="284.6" width="20.9" height="20.9" fill="#fff" stroke="#000000" stroke-width="2"/>
<rect x="643.4" y="550.6" width="20.9" height="20.9" fill="#fff" stroke="#000000" stroke-width="2"/>
<rect x="742" y="540" width="20.9" height="20.9" fill="#fff" stroke="#000000" stroke-width="2"/>
<rect x="840.6" y="541.9" width="20.9" height="20.9" fill="#fff" stroke="#000000" stroke-width="2"/>
<rect x="939.2" y="543.8" width="20.9" height="20.9" fill="#fff" stroke="#000000" stroke-width="2"/>
<rect x="1037.8" y="542.7" width="20.9" height="20.9" fill="#fff" stroke="#000000" stroke-width="2"/>
<rect x="1136.5" y="542.7" width="20.9" height="20.9" fill="#fff" stroke="#000000" stroke-width="2"/>
<rect x="1235" y="542.7" width="20.9" height="20.9" fill="#fff" stroke="#000000" stroke-width="2"/>
<rect x="1333.6" y="542.7" width="20.9" height="20.9" fill="#fff" stroke="#000000" stroke-width="2"/>
<path d="M160.9 465.2L163.4 468.9L165.8 472.6L168.3 476.2L170.8 479.9L173.2 483.5L175.7 487L178.2 490.6L180.6 494L183.1 497.4L185.6 500.8L188 504L190.5 507.2L192.9 510.2L195.4 513.2L197.9 516L200.3 518.8L202.8 521.4L205.3 523.8L207.7 526.1L210.2 528.3L212.7 530.3L215.1 532.2L217.6 533.8L220.1 535.3L222.5 536.6L225 537.7L227.5 538.5L229.9 539.2L232.4 539.6L234.8 539.8L237.3 539.8L239.8 539.5L242.2 539L244.7 538.2L247.2 537.1L249.6 535.7L252.1 534.1L254.6 532.2L257 529.9L259.5 527.3L262 524.5L264.4 521.3L266.9 517.8L269.4 514.1L271.8 510.1L274.3 505.9L276.8 501.5L279.2 496.9L281.7 492.2L284.1 487.2L286.6 482.2L289.1 477L291.5 471.8L294 466.4L296.5 461L298.9 455.6L301.4 450.1L303.9 444.6L306.3 439.2L308.8 433.7L311.3 428.4L313.7 423.1L316.2 417.8L318.7 412.7L321.1 407.8L323.6 402.9L326.1 398.3L328.5 393.8L331 389.5L333.4 385.4L335.9 381.6L338.4 378L340.8 374.7L343.3 371.7L345.8 369.1L348.2 366.7L350.7 364.7L353.2 363.1L355.6 361.8L358.1 361L360.6 360.5L363 360.5L365.5 360.9L368 361.6L370.4 362.7L372.9 364.1L375.4 365.8L377.8 367.9L380.3 370.1L382.8 372.7L385.2 375.5L387.7 378.5L390.1 381.6L392.6 385L395.1 388.5L397.5 392.2L400 396L402.5 399.8L404.9 403.8L407.4 407.8L409.9 411.9L412.3 416L414.8 420.1L417.3 424.1L419.7 428.2L422.2 432.2L424.7 436.1L427.1 440L429.6 443.7L432 447.3L434.5 450.7L437 454L439.4 457.1L441.9 460L444.4 462.7L446.8 465.1L449.3 467.3L451.8 469.2L454.2 470.7L456.7 472L459.2 473L461.6 473.6L464.1 473.9L466.6 473.9L469 473.6L471.5 473.1L474 472.4L476.4 471.4L478.9 470.2L481.4 468.9L483.8 467.3L486.3 465.6L488.7 463.8L491.2 461.8L493.7 459.7L496.1 457.6L498.6 455.3L501.1 453L503.5 450.6L506 448.3L508.5 445.9L510.9 443.5L513.4 441.1L515.9 438.8L518.3 436.5L520.8 434.3L523.3 432.2L525.7 430.2L528.2 428.3L530.6 426.6L533.1 425L535.6 423.5L538 422.3L540.5 421.2L543 420.4L545.4 419.8L547.9 419.5L550.4 419.4L552.8 419.6L555.3 420.1L557.8 420.9L560.2 422L562.7 423.4L565.2 425.1L567.6 427.1L570.1 429.2L572.6 431.7L575 434.3L577.5 437.2L579.9 440.2L582.4 443.4L584.9 446.8L587.3 450.3L589.8 454L592.3 457.8L594.7 461.7L597.2 465.8L599.7 469.8L602.1 474L604.6 478.2L607.1 482.5L609.5 486.8L612 491.1L614.5 495.4L616.9 499.7L619.4 504L621.9 508.2L624.3 512.4L626.8 516.5L629.2 520.5L631.7 524.5L634.2 528.3L636.6 532L639.1 535.6L641.6 539L644 542.3L646.5 545.4L649 548.3L651.4 551L653.9 553.5L656.4 555.8L658.8 557.8L661.3 559.6L663.8 561.2L666.2 562.6L668.7 563.9L671.2 564.9L673.6 565.8L676.1 566.5L678.5 567L681 567.4L683.5 567.6L685.9 567.7L688.4 567.6L690.9 567.5L693.3 567.2L695.8 566.8L698.3 566.3L700.7 565.7L703.2 565.1L705.7 564.3L708.1 563.5L710.6 562.6L713.1 561.7L715.5 560.7L718 559.7L720.5 558.7L722.9 557.6L725.4 556.5L727.8 555.4L730.3 554.3L732.8 553.2L735.2 552.1L737.7 551L740.2 550L742.6 549L745.1 548.1L747.6 547.2L750 546.3L752.5 545.5L755 544.8L757.4 544.2L759.9 543.6L762.4 543.2L764.8 542.7L767.3 542.4L769.8 542L772.2 541.8L774.7 541.6L777.1 541.5L779.6 541.4L782.1 541.3L784.5 541.3L787 541.4L789.5 541.4L791.9 541.6L794.4 541.7L796.9 541.9L799.3 542.1L801.8 542.4L804.3 542.6L806.7 542.9L809.2 543.2L811.7 543.6L814.1 543.9L816.6 544.3L819.1 544.7L821.5 545L824 545.4L826.4 545.8L828.9 546.2L831.4 546.6L833.8 547L836.3 547.3L838.8 547.7L841.2 548.1L843.7 548.4L846.2 548.7L848.6 549L851.1 549.3L853.6 549.6L856 549.8L858.5 550L861 550.2L863.4 550.4L865.9 550.6L868.4 550.7L870.8 550.8L873.3 550.9L875.7 551L878.2 551.1L880.7 551.1L883.1 551.2L885.6 551.2L888.1 551.2L890.5 551.2L893 551.2L895.5 551.1L897.9 551.1L900.4 551.1L902.9 551L905.3 550.9L907.8 550.9L910.3 550.8L912.7 550.7L915.2 550.6L917.7 550.5L920.1 550.4L922.6 550.3L925 550.2L927.5 550.1L930 550L932.4 549.9L934.9 549.8L937.4 549.8L939.8 549.7L942.3 549.6L944.8 549.5L947.2 549.4L949.7 549.3L952.2 549.3L954.6 549.2L957.1 549.1L959.6 549.1L962 549.1L964.5 549L967 549L969.4 549L971.9 548.9L974.3 548.9L976.8 548.9L979.3 548.9L981.7 548.9L984.2 548.9L986.7 548.9L989.1 548.9L991.6 548.9L994.1 548.9L996.5 549L999 549L1001.5 549L1003.9 549L1006.4 549.1L1008.9 549.1L1011.3 549.1L1013.8 549.2L1016.3 549.2L1018.7 549.2L1021.2 549.3L1023.6 549.3L1026.1 549.3L1028.6 549.4L1031 549.4L1033.5 549.5L1036 549.5L1038.4 549.6L1040.9 549.6L1043.4 549.6L1045.8 549.7L1048.3 549.7L1050.8 549.7L1053.2 549.8L1055.7 549.8L1058.2 549.9L1060.6 549.9L1063.1 549.9L1065.6 549.9L1068 550L1070.5 550L1073 550L1075.4 550.1L1077.9 550.1L1080.3 550.1L1082.8 550.1L1085.3 550.2L1087.7 550.2L1090.2 550.2L1092.7 550.2L1095.1 550.2L1097.6 550.3L1100.1 550.3L1102.5 550.3L1105 550.3L1107.5 550.3L1109.9 550.3L1112.4 550.3L1114.9 550.4L1117.3 550.4L1119.8 550.4L1122.2 550.4L1124.7 550.4L1127.2 550.4L1129.6 550.4L1132.1 550.4L1134.6 550.4L1137 550.4L1139.5 550.5L1142 550.5L1144.4 550.5L1146.9 550.5L1149.4 550.5L1151.8 550.5L1154.3 550.5L1156.8 550.5L1159.2 550.5L1161.7 550.5L1164.2 550.5L1166.6 550.5L1169.1 550.5L1171.5 550.5L1174 550.5L1176.5 550.5L1178.9 550.5L1181.4 550.5L1183.9 550.5L1186.3 550.5L1188.8 550.5L1191.3 550.5L1193.7 550.5L1196.2 550.5L1198.7 550.5L1201.1 550.5L1203.6 550.5L1206.1 550.5L1208.5 550.5L1211 550.5L1213.5 550.5L1215.9 550.5L1218.4 550.5L1220.9 550.5L1223.3 550.5L1225.8 550.5L1228.2 550.5L1230.7 550.5L1233.2 550.5L1235.6 550.5L1238.1 550.5L1240.6 550.5L1243 550.5L1245.5 550.5L1248 550.5L1250.4 550.5L1252.9 550.5L1255.4 550.5L1257.8 550.5L1260.3 550.5L1262.8 550.5L1265.2 550.5L1267.7 550.5L1270.2 550.5L1272.6 550.5L1275.1 550.5L1277.5 550.5L1280 550.5L1282.5 550.5L1284.9 550.5L1287.4 550.5L1289.9 550.5L1292.3 550.5L1294.8 550.5L1297.3 550.5L1299.7 550.5L1302.2 550.5L1304.7 550.5L1307.1 550.5L1309.6 550.5L1312.1 550.5L1314.5 550.5L1317 550.5L1319.5 550.5L1321.9 550.5L1324.4 550.5L1326.8 550.5L1329.3 550.5L1331.8 550.5L1334.2 550.5L1336.7 550.5L1339.2 550.5L1341.6 550.5L1344.1 550.5" fill="none" stroke="#ff0000" stroke-width="4.0" stroke-dasharray="14.5 18.5"/>
<circle cx="160.9" cy="465.2" r="11.8" fill="#fff" stroke="#ff0000" stroke-width="2"/>
<circle cx="259.5" cy="527.3" r="11.8" fill="#fff" stroke="#ff0000" stroke-width="2"/>
<circle cx="358.1" cy="361" r="11.8" fill="#fff" stroke="#ff0000" stroke-width="2"/>
<circle cx="456.7" cy="472" r="11.8" fill="#fff" stroke="#ff0000" stroke-width="2"/>
<circle cx="555.3" cy="420.1" r="11.8" fill="#fff" stroke="#ff0000" stroke-width="2"/>
<circle cx="653.9" cy="553.5" r="11.8" fill="#fff" stroke="#ff0000" stroke-width="2"/>
<circle cx="752.5" cy="545.5" r="11.8" fill="#fff" stroke="#ff0000" stroke-width="2"/>
<circle cx="851.1" cy="549.3" r="11.8" fill="#fff" stroke="#ff0000" stroke-width="2"/>
<circle cx="949.7" cy="549.3" r="11.8" fill="#fff" stroke="#ff0000" stroke-width="2"/>
<circle cx="1048.3" cy="549.7" r="11.8" fill="#fff" stroke="#ff0000" stroke-width="2"/>
<circle cx="1146.9" cy="550.5" r="11.8" fill="#fff" stroke="#ff0000" stroke-width="2"/>
<circle cx="1245.5" cy="550.5" r="11.8" fill="#fff" stroke="#ff0000" stroke-width="2"/>
<circle cx="1344.1" cy="550.5" r="11.8" fill="#fff" stroke="#ff0000" stroke-width="2"/>
<path d="M160.9 540.6L163.4 542.3L165.8 543.9L168.3 545.6L170.8 547.2L173.2 548.8L175.7 550.4L178.2 552L180.6 553.6L183.1 555.1L185.6 556.6L188 558L190.5 559.4L192.9 560.7L195.4 562L197.9 563.2L200.3 564.4L202.8 565.5L205.3 566.5L207.7 567.5L210.2 568.4L212.7 569.2L215.1 569.9L217.6 570.5L220.1 571L222.5 571.4L225 571.7L227.5 571.9L229.9 572L232.4 572L234.8 571.9L237.3 571.6L239.8 571.2L242.2 570.7L244.7 570L247.2 569.2L249.6 568.3L252.1 567.2L254.6 565.9L257 564.5L259.5 563L262 561.2L264.4 559.4L266.9 557.3L269.4 555.2L271.8 552.9L274.3 550.4L276.8 547.9L279.2 545.3L281.7 542.6L284.1 539.8L286.6 536.9L289.1 534L291.5 531.1L294 528.1L296.5 525L298.9 522L301.4 518.9L303.9 515.8L306.3 512.8L308.8 509.7L311.3 506.7L313.7 503.7L316.2 500.8L318.7 497.9L321.1 495.1L323.6 492.4L326.1 489.7L328.5 487.2L331 484.7L333.4 482.4L335.9 480.2L338.4 478.1L340.8 476.2L343.3 474.4L345.8 472.8L348.2 471.3L350.7 470.1L353.2 469L355.6 468.1L358.1 467.5L360.6 467L363 466.8L365.5 466.8L368 466.9L370.4 467.2L372.9 467.7L375.4 468.3L377.8 469L380.3 469.9L382.8 470.8L385.2 471.9L387.7 473L390.1 474.2L392.6 475.4L395.1 476.7L397.5 477.9L400 479.2L402.5 480.5L404.9 481.8L407.4 483.1L409.9 484.3L412.3 485.4L414.8 486.5L417.3 487.5L419.7 488.4L422.2 489.2L424.7 489.9L427.1 490.4L429.6 490.8L432 491L434.5 491.1L437 490.9L439.4 490.6L441.9 490L444.4 489.3L446.8 488.2L449.3 487L451.8 485.4L454.2 483.6L456.7 481.5L459.2 479.1L461.6 476.4L464.1 473.4L466.6 470.2L469 466.7L471.5 463.1L474 459.2L476.4 455.2L478.9 451L481.4 446.7L483.8 442.3L486.3 437.8L488.7 433.2L491.2 428.6L493.7 423.9L496.1 419.2L498.6 414.5L501.1 409.9L503.5 405.3L506 400.7L508.5 396.2L510.9 391.8L513.4 387.6L515.9 383.5L518.3 379.5L520.8 375.7L523.3 372.1L525.7 368.8L528.2 365.6L530.6 362.8L533.1 360.1L535.6 357.8L538 355.8L540.5 354.2L543 352.9L545.4 351.9L547.9 351.4L550.4 351.2L552.8 351.5L555.3 352.3L557.8 353.5L560.2 355.1L562.7 357.2L565.2 359.7L567.6 362.5L570.1 365.8L572.6 369.4L575 373.3L577.5 377.5L579.9 382L582.4 386.8L584.9 391.8L587.3 397.1L589.8 402.5L592.3 408.2L594.7 414L597.2 419.9L599.7 426L602.1 432.2L604.6 438.5L607.1 444.9L609.5 451.3L612 457.7L614.5 464.1L616.9 470.5L619.4 476.9L621.9 483.3L624.3 489.5L626.8 495.7L629.2 501.7L631.7 507.7L634.2 513.4L636.6 519L639.1 524.4L641.6 529.6L644 534.5L646.5 539.2L649 543.7L651.4 547.8L653.9 551.6L656.4 555.1L658.8 558.3L661.3 561.1L663.8 563.7L666.2 565.9L668.7 567.9L671.2 569.6L673.6 571L676.1 572.2L678.5 573.2L681 574L683.5 574.5L685.9 574.8L688.4 574.9L690.9 574.9L693.3 574.6L695.8 574.3L698.3 573.7L700.7 573L703.2 572.2L705.7 571.3L708.1 570.3L710.6 569.2L713.1 568L715.5 566.7L718 565.3L720.5 563.9L722.9 562.5L725.4 561L727.8 559.5L730.3 558L732.8 556.5L735.2 555.1L737.7 553.6L740.2 552.2L742.6 550.8L745.1 549.5L747.6 548.2L750 547L752.5 545.9L755 544.9L757.4 544L759.9 543.2L762.4 542.5L764.8 541.9L767.3 541.3L769.8 540.8L772.2 540.5L774.7 540.1L777.1 539.9L779.6 539.7L782.1 539.6L784.5 539.5L787 539.5L789.5 539.6L791.9 539.7L794.4 539.9L796.9 540.1L799.3 540.3L801.8 540.6L804.3 540.9L806.7 541.3L809.2 541.6L811.7 542L814.1 542.5L816.6 542.9L819.1 543.4L821.5 543.8L824 544.3L826.4 544.8L828.9 545.3L831.4 545.8L833.8 546.3L836.3 546.8L838.8 547.2L841.2 547.7L843.7 548.1L846.2 548.6L848.6 549L851.1 549.3L853.6 549.7L856 550L858.5 550.3L861 550.6L863.4 550.8L865.9 551L868.4 551.2L870.8 551.4L873.3 551.5L875.7 551.7L878.2 551.8L880.7 551.8L883.1 551.9L885.6 552L888.1 552L890.5 552L893 552L895.5 552L897.9 552L900.4 552L902.9 551.9L905.3 551.9L907.8 551.8L910.3 551.7L912.7 551.6L915.2 551.6L917.7 551.5L920.1 551.4L922.6 551.3L925 551.1L927.5 551L930 550.9L932.4 550.8L934.9 550.7L937.4 550.6L939.8 550.5L942.3 550.4L944.8 550.3L947.2 550.2L949.7 550.1L952.2 550L954.6 549.9L957.1 549.9L959.6 549.8L962 549.7L964.5 549.7L967 549.6L969.4 549.6L971.9 549.5L974.3 549.5L976.8 549.5L979.3 549.4L981.7 549.4L984.2 549.4L986.7 549.4L989.1 549.4L991.6 549.4L994.1 549.3L996.5 549.3L999 549.3L1001.5 549.4L1003.9 549.4L1006.4 549.4L1008.9 549.4L1011.3 549.4L1013.8 549.4L1016.3 549.4L1018.7 549.4L1021.2 549.5L1023.6 549.5L1026.1 549.5L1028.6 549.5L1031 549.5L1033.5 549.6L1036 549.6L1038.4 549.6L1040.9 549.6L1043.4 549.7L1045.8 549.7L1048.3 549.7L1050.8 549.7L1053.2 549.8L1055.7 549.8L1058.2 549.8L1060.6 549.8L1063.1 549.8L1065.6 549.8L1068 549.9L1070.5 549.9L1073 549.9L1075.4 549.9L1077.9 549.9L1080.3 549.9L1082.8 549.9L1085.3 550L1087.7 550L1090.2 550L1092.7 550L1095.1 550L1097.6 550L1100.1 550L1102.5 550L1105 550L1107.5 550L1109.9 550L1112.4 550L1114.9 550L1117.3 550.1L1119.8 550.1L1122.2 550.1L1124.7 550.1L1127.2 550.1L1129.6 550.1L1132.1 550.1L1134.6 550.1L1137 550.1L1139.5 550.1L1142 550.1L1144.4 550.1L1146.9 550.1L1149.4 550.1L1151.8 550.1L1154.3 550.1L1156.8 550.1L1159.2 550.1L1161.7 550.1L1164.2 550.1L1166.6 550.1L1169.1 550.1L1171.5 550.1L1174 550.1L1176.5 550.1L1178.9 550.1L1181.4 550.1L1183.9 550.1L1186.3 550.1L1188.8 550.1L1191.3 550.1L1193.7 550.1L1196.2 550.1L1198.7 550.1L1201.1 550.1L1203.6 550.1L1206.1 550.1L1208.5 550.1L1211 550.1L1213.5 550.1L1215.9 550.1L1218.4 550.1L1220.9 550.1L1223.3 550.1L1225.8 550.1L1228.2 550.1L1230.7 550.1L1233.2 550.1L1235.6 550.1L1238.1 550.1L1240.6 550.1L1243 550.1L1245.5 550.1L1248 550.1L1250.4 550.1L1252.9 550.1L1255.4 550.1L1257.8 550.1L1260.3 550.1L1262.8 550.1L1265.2 550.1L1267.7 550.1L1270.2 550.1L1272.6 550.1L1275.1 550.1L1277.5 550.1L1280 550.1L1282.5 550.1L1284.9 550.1L1287.4 550.1L1289.9 550.1L1292.3 550.1L1294.8 550.1L1297.3 550.1L1299.7 550.1L1302.2 550.1L1304.7 550.1L1307.1 550.1L1309.6 550.1L1312.1 550.1L1314.5 550.1L1317 550.1L1319.5 550.1L1321.9 550.1L1324.4 550.1L1326.8 550.1L1329.3 550.1L1331.8 550.1L1334.2 550.1L1336.7 550.1L1339.2 550.1L1341.6 550.1L1344.1 550.1" fill="none" stroke="#0000ff" stroke-width="4.0" stroke-dasharray="14.5 18.5"/>
<path d="M160.9 525L174 548.5L147.8 548.5Z" fill="#fff" stroke="#0000ff" stroke-width="2" stroke-linejoin="miter"/>
<path d="M259.5 547.3L272.6 570.8L246.4 570.8Z" fill="#fff" stroke="#0000ff" stroke-width="2" stroke-linejoin="miter"/>
<path d="M358.1 451.8L371.2 475.3L345 475.3Z" fill="#fff" stroke="#0000ff" stroke-width="2" stroke-linejoin="miter"/>
<path d="M456.7 465.8L469.8 489.4L443.6 489.4Z" fill="#fff" stroke="#0000ff" stroke-width="2" stroke-linejoin="miter"/>
<path d="M555.3 336.6L568.4 360.1L542.2 360.1Z" fill="#fff" stroke="#0000ff" stroke-width="2" stroke-linejoin="miter"/>
<path d="M653.9 535.9L667 559.5L640.8 559.5Z" fill="#fff" stroke="#0000ff" stroke-width="2" stroke-linejoin="miter"/>
<path d="M752.5 530.3L765.6 553.8L739.4 553.8Z" fill="#fff" stroke="#0000ff" stroke-width="2" stroke-linejoin="miter"/>
<path d="M851.1 533.7L864.2 557.2L838 557.2Z" fill="#fff" stroke="#0000ff" stroke-width="2" stroke-linejoin="miter"/>
<path d="M949.7 534.4L962.8 558L936.6 558Z" fill="#fff" stroke="#0000ff" stroke-width="2" stroke-linejoin="miter"/>
<path d="M1048.3 534L1061.4 557.6L1035.2 557.6Z" fill="#fff" stroke="#0000ff" stroke-width="2" stroke-linejoin="miter"/>
<path d="M1146.9 534.4L1160 558L1133.8 558Z" fill="#fff" stroke="#0000ff" stroke-width="2" stroke-linejoin="miter"/>
<path d="M1245.5 534.4L1258.6 558L1232.4 558Z" fill="#fff" stroke="#0000ff" stroke-width="2" stroke-linejoin="miter"/>
<path d="M1344.1 534.4L1357.2 558L1331 558Z" fill="#fff" stroke="#0000ff" stroke-width="2" stroke-linejoin="miter"/>
<path d="M160.9 622.1L163.4 619L165.8 615.9L168.3 612.7L170.8 609.6L173.2 606.5L175.7 603.4L178.2 600.2L180.6 597.1L183.1 593.9L185.6 590.8L188 587.6L190.5 584.4L192.9 581.2L195.4 578L197.9 574.8L200.3 571.6L202.8 568.3L205.3 565.1L207.7 561.8L210.2 558.5L212.7 555.2L215.1 551.8L217.6 548.5L220.1 545.1L222.5 541.7L225 538.3L227.5 534.8L229.9 531.3L232.4 527.8L234.8 524.3L237.3 520.7L239.8 517.1L242.2 513.5L244.7 509.8L247.2 506.2L249.6 502.4L252.1 498.7L254.6 494.9L257 491L259.5 487.2L262 483.3L264.4 479.3L266.9 475.4L269.4 471.4L271.8 467.4L274.3 463.4L276.8 459.4L279.2 455.4L281.7 451.4L284.1 447.5L286.6 443.6L289.1 439.7L291.5 435.9L294 432.1L296.5 428.4L298.9 424.7L301.4 421.1L303.9 417.6L306.3 414.2L308.8 410.9L311.3 407.6L313.7 404.5L316.2 401.5L318.7 398.6L321.1 395.8L323.6 393.2L326.1 390.7L328.5 388.4L331 386.2L333.4 384.1L335.9 382.3L338.4 380.6L340.8 379.1L343.3 377.8L345.8 376.7L348.2 375.7L350.7 375L353.2 374.5L355.6 374.3L358.1 374.2L360.6 374.4L363 374.9L365.5 375.5L368 376.4L370.4 377.5L372.9 378.8L375.4 380.3L377.8 382L380.3 383.9L382.8 385.9L385.2 388.2L387.7 390.6L390.1 393.2L392.6 396L395.1 398.9L397.5 401.9L400 405.1L402.5 408.5L404.9 412L407.4 415.6L409.9 419.3L412.3 423.2L414.8 427.1L417.3 431.2L419.7 435.3L422.2 439.6L424.7 443.9L427.1 448.4L429.6 452.9L432 457.4L434.5 462.1L437 466.8L439.4 471.5L441.9 476.3L444.4 481.1L446.8 486L449.3 490.9L451.8 495.8L454.2 500.8L456.7 505.7L459.2 510.7L461.6 515.7L464.1 520.6L466.6 525.6L469 530.5L471.5 535.4L474 540.2L476.4 545L478.9 549.8L481.4 554.5L483.8 559.1L486.3 563.6L488.7 568.1L491.2 572.4L493.7 576.7L496.1 580.8L498.6 584.9L501.1 588.8L503.5 592.6L506 596.2L508.5 599.7L510.9 603.1L513.4 606.3L515.9 609.3L518.3 612.2L520.8 614.8L523.3 617.3L525.7 619.6L528.2 621.6L530.6 623.5L533.1 625.1L535.6 626.5L538 627.7L540.5 628.6L543 629.3L545.4 629.7L547.9 629.8L550.4 629.7L552.8 629.3L555.3 628.5L557.8 627.5L560.2 626.3L562.7 624.7L565.2 622.9L567.6 620.8L570.1 618.6L572.6 616.1L575 613.4L577.5 610.5L579.9 607.5L582.4 604.3L584.9 600.9L587.3 597.5L589.8 593.9L592.3 590.2L594.7 586.5L597.2 582.6L599.7 578.7L602.1 574.8L604.6 570.9L607.1 566.9L609.5 563L612 559L614.5 555.1L616.9 551.2L619.4 547.4L621.9 543.7L624.3 540.1L626.8 536.5L629.2 533.1L631.7 529.8L634.2 526.6L636.6 523.7L639.1 520.8L641.6 518.2L644 515.8L646.5 513.6L649 511.6L651.4 509.9L653.9 508.4L656.4 507.2L658.8 506.3L661.3 505.6L663.8 505.1L666.2 504.9L668.7 505L671.2 505.2L673.6 505.7L676.1 506.4L678.5 507.2L681 508.3L683.5 509.5L685.9 510.8L688.4 512.4L690.9 514.1L693.3 515.9L695.8 517.8L698.3 519.9L700.7 522.1L703.2 524.4L705.7 526.7L708.1 529.2L710.6 531.7L713.1 534.3L715.5 537L718 539.7L720.5 542.4L722.9 545.2L725.4 548L727.8 550.8L730.3 553.6L732.8 556.4L735.2 559.1L737.7 561.9L740.2 564.6L742.6 567.3L745.1 569.9L747.6 572.5L750 575L752.5 577.4L755 579.7L757.4 581.9L759.9 584.1L762.4 586.1L764.8 588.1L767.3 590L769.8 591.8L772.2 593.6L774.7 595.2L777.1 596.8L779.6 598.2L782.1 599.6L784.5 600.9L787 602.2L789.5 603.4L791.9 604.4L794.4 605.4L796.9 606.4L799.3 607.2L801.8 608L804.3 608.7L806.7 609.4L809.2 609.9L811.7 610.4L814.1 610.8L816.6 611.2L819.1 611.5L821.5 611.7L824 611.8L826.4 611.9L828.9 611.9L831.4 611.9L833.8 611.8L836.3 611.6L838.8 611.3L841.2 611L843.7 610.7L846.2 610.2L848.6 609.8L851.1 609.2L853.6 608.6L856 608L858.5 607.3L861 606.5L863.4 605.8L865.9 605L868.4 604.3L870.8 603.5L873.3 602.8L875.7 602.1L878.2 601.4L880.7 600.8L883.1 600.2L885.6 599.7L888.1 599.2L890.5 598.8L893 598.5L895.5 598.4L897.9 598.3L900.4 598.3L902.9 598.5L905.3 598.8L907.8 599.3L910.3 599.9L912.7 600.6L915.2 601.6L917.7 602.7L920.1 604L922.6 605.5L925 607.2L927.5 609.2L930 611.3L932.4 613.7L934.9 616.4L937.4 619.3L939.8 622.5L942.3 625.9L944.8 629.7L947.2 633.7L949.7 638L952.2 642.7L954.6 647.6L957.1 652.8L959.6 658.2L962 663.9L964.5 669.7L967 675.8L969.4 682L971.9 688.4L974.3 694.8L976.8 701.4L979.3 708.1L981.7 714.8L984.2 721.5L986.7 728.3L989.1 735L991.6 741.7L994.1 748.4L996.5 754.9L999 761.4L1001.5 767.8L1003.9 774L1006.4 780.1L1008.9 786L1011.3 791.7L1013.8 797.2L1016.3 802.4L1018.7 807.4L1021.2 812.1L1023.6 816.4L1026.1 820.5L1028.6 824.2L1031 827.5L1033.5 830.4L1036 832.9L1038.4 835L1040.9 836.6L1043.4 837.8L1045.8 838.4L1048.3 838.5L1050.8 838.1L1053.2 837.1L1055.7 835.7L1058.2 833.8L1060.6 831.4L1063.1 828.6L1065.6 825.4L1068 821.8L1070.5 817.8L1073 813.5L1075.4 808.9L1077.9 803.9L1080.3 798.7L1082.8 793.2L1085.3 787.5L1087.7 781.6L1090.2 775.5L1092.7 769.2L1095.1 762.8L1097.6 756.2L1100.1 749.6L1102.5 742.8L1105 736L1107.5 729.2L1109.9 722.4L1112.4 715.5L1114.9 708.7L1117.3 702L1119.8 695.3L1122.2 688.7L1124.7 682.3L1127.2 676L1129.6 669.8L1132.1 663.8L1134.6 658.1L1137 652.5L1139.5 647.2L1142 642.2L1144.4 637.5L1146.9 633.1L1149.4 629L1151.8 625.3L1154.3 621.9L1156.8 618.7L1159.2 615.9L1161.7 613.4L1164.2 611.1L1166.6 609.1L1169.1 607.4L1171.5 605.9L1174 604.7L1176.5 603.6L1178.9 602.8L1181.4 602.2L1183.9 601.8L1186.3 601.6L1188.8 601.5L1191.3 601.6L1193.7 601.8L1196.2 602.2L1198.7 602.7L1201.1 603.4L1203.6 604.1L1206.1 605L1208.5 605.9L1211 606.9L1213.5 608L1215.9 609.2L1218.4 610.4L1220.9 611.6L1223.3 612.8L1225.8 614.1L1228.2 615.4L1230.7 616.7L1233.2 617.9L1235.6 619.2L1238.1 620.4L1240.6 621.5L1243 622.6L1245.5 623.6L1248 624.6L1250.4 625.4L1252.9 626.2L1255.4 627L1257.8 627.6L1260.3 628.2L1262.8 628.7L1265.2 629.2L1267.7 629.6L1270.2 629.9L1272.6 630.2L1275.1 630.4L1277.5 630.6L1280 630.7L1282.5 630.8L1284.9 630.8L1287.4 630.8L1289.9 630.7L1292.3 630.6L1294.8 630.4L1297.3 630.2L1299.7 630L1302.2 629.7L1304.7 629.4L1307.1 629.1L1309.6 628.7L1312.1 628.4L1314.5 627.9L1317 627.5L1319.5 627L1321.9 626.6L1324.4 626.1L1326.8 625.6L1329.3 625L1331.8 624.5L1334.2 624L1336.7 623.4L1339.2 622.8L1341.6 622.3L1344.1 621.7" fill="none" stroke="#000000" stroke-width="4.0" stroke-dasharray="0.95 5.95"/>
<path d="M143.2 622.1L169.8 607.3L169.8 636.9Z" fill="#000000"/>
<path d="M241.8 487.2L268.4 472.4L268.4 502Z" fill="#000000"/>
<path d="M340.4 374.2L367 359.4L367 389Z" fill="#000000"/>
<path d="M439 505.7L465.6 490.9L465.6 520.5Z" fill="#000000"/>
<path d="M537.6 628.5L564.2 613.7L564.2 643.3Z" fill="#000000"/>
<path d="M636.2 508.4L662.8 493.6L662.8 523.2Z" fill="#000000"/>
<path d="M734.8 577.4L761.4 562.6L761.4 592.2Z" fill="#000000"/>
<path d="M833.4 609.2L860 594.4L860 624Z" fill="#000000"/>
<path d="M932 638L958.6 623.2L958.6 652.8Z" fill="#000000"/>
<path d="M1030.6 838.5L1057.2 823.7L1057.2 853.3Z" fill="#000000"/>
<path d="M1129.2 633.1L1155.8 618.3L1155.8 647.9Z" fill="#000000"/>
<path d="M1227.8 623.6L1254.4 608.8L1254.4 638.4Z" fill="#000000"/>
<path d="M1326.4 621.7L1353 606.9L1353 636.5Z" fill="#000000"/>
<path d="M160.9 574.7L163.4 572.6L165.8 570.5L168.3 568.4L170.8 566.3L173.2 564.2L175.7 562.1L178.2 560L180.6 557.8L183.1 555.7L185.6 553.6L188 551.4L190.5 549.3L192.9 547.1L195.4 544.9L197.9 542.7L200.3 540.5L202.8 538.3L205.3 536.1L207.7 533.9L210.2 531.6L212.7 529.3L215.1 527.1L217.6 524.8L220.1 522.4L222.5 520.1L225 517.7L227.5 515.4L229.9 513L232.4 510.5L234.8 508.1L237.3 505.6L239.8 503.1L242.2 500.6L244.7 498.1L247.2 495.5L249.6 492.9L252.1 490.3L254.6 487.6L257 485L259.5 482.2L262 479.5L264.4 476.7L266.9 473.9L269.4 471.1L271.8 468.3L274.3 465.5L276.8 462.6L279.2 459.8L281.7 457L284.1 454.1L286.6 451.3L289.1 448.5L291.5 445.7L294 443L296.5 440.2L298.9 437.6L301.4 434.9L303.9 432.3L306.3 429.7L308.8 427.2L311.3 424.8L313.7 422.4L316.2 420L318.7 417.8L321.1 415.6L323.6 413.4L326.1 411.4L328.5 409.5L331 407.6L333.4 405.8L335.9 404.2L338.4 402.6L340.8 401.1L343.3 399.8L345.8 398.6L348.2 397.5L350.7 396.5L353.2 395.6L355.6 394.9L358.1 394.3L360.6 393.9L363 393.6L365.5 393.4L368 393.4L370.4 393.5L372.9 393.8L375.4 394.2L377.8 394.7L380.3 395.4L382.8 396.2L385.2 397.1L387.7 398.2L390.1 399.4L392.6 400.8L395.1 402.2L397.5 403.8L400 405.6L402.5 407.5L404.9 409.5L407.4 411.6L409.9 413.9L412.3 416.3L414.8 418.8L417.3 421.4L419.7 424.2L422.2 427.1L424.7 430.2L427.1 433.3L429.6 436.6L432 440L434.5 443.5L437 447.2L439.4 451L441.9 454.8L444.4 458.9L446.8 463L449.3 467.3L451.8 471.6L454.2 476.1L456.7 480.7L459.2 485.5L461.6 490.3L464.1 495.2L466.6 500.2L469 505.3L471.5 510.5L474 515.7L476.4 520.9L478.9 526.2L481.4 531.4L483.8 536.7L486.3 542L488.7 547.3L491.2 552.5L493.7 557.7L496.1 562.9L498.6 567.9L501.1 573L503.5 577.9L506 582.7L508.5 587.5L510.9 592.1L513.4 596.6L515.9 600.9L518.3 605.1L520.8 609.2L523.3 613L525.7 616.7L528.2 620.2L530.6 623.5L533.1 626.6L535.6 629.4L538 632L540.5 634.3L543 636.4L545.4 638.2L547.9 639.8L550.4 641L552.8 641.9L555.3 642.6L557.8 642.9L560.2 642.8L562.7 642.5L565.2 641.9L567.6 641L570.1 639.9L572.6 638.5L575 636.9L577.5 635.1L579.9 633.1L582.4 630.9L584.9 628.5L587.3 626L589.8 623.3L592.3 620.5L594.7 617.6L597.2 614.6L599.7 611.5L602.1 608.3L604.6 605.1L607.1 601.8L609.5 598.5L612 595.2L614.5 591.9L616.9 588.6L619.4 585.4L621.9 582.1L624.3 579L626.8 575.9L629.2 572.9L631.7 570L634.2 567.2L636.6 564.6L639.1 562.1L641.6 559.7L644 557.5L646.5 555.6L649 553.8L651.4 552.2L653.9 550.8L656.4 549.7L658.8 548.9L661.3 548.2L663.8 547.8L666.2 547.6L668.7 547.6L671.2 547.8L673.6 548.2L676.1 548.7L678.5 549.5L681 550.4L683.5 551.4L685.9 552.6L688.4 554L690.9 555.4L693.3 557L695.8 558.7L698.3 560.5L700.7 562.4L703.2 564.4L705.7 566.5L708.1 568.7L710.6 570.9L713.1 573.1L715.5 575.5L718 577.8L720.5 580.2L722.9 582.7L725.4 585.1L727.8 587.5L730.3 590L732.8 592.4L735.2 594.9L737.7 597.3L740.2 599.6L742.6 602L745.1 604.3L747.6 606.5L750 608.6L752.5 610.7L755 612.7L757.4 614.7L759.9 616.5L762.4 618.3L764.8 620L767.3 621.6L769.8 623.2L772.2 624.6L774.7 626L777.1 627.4L779.6 628.6L782.1 629.8L784.5 630.9L787 631.9L789.5 632.9L791.9 633.8L794.4 634.7L796.9 635.4L799.3 636.1L801.8 636.8L804.3 637.4L806.7 637.9L809.2 638.4L811.7 638.8L814.1 639.1L816.6 639.4L819.1 639.6L821.5 639.8L824 639.9L826.4 639.9L828.9 639.9L831.4 639.9L833.8 639.8L836.3 639.6L838.8 639.4L841.2 639.1L843.7 638.8L846.2 638.5L848.6 638.1L851.1 637.6L853.6 637.1L856 636.6L858.5 636.1L861 635.5L863.4 634.9L865.9 634.3L868.4 633.7L870.8 633.1L873.3 632.5L875.7 632L878.2 631.4L880.7 631L883.1 630.5L885.6 630.1L888.1 629.8L890.5 629.6L893 629.4L895.5 629.4L897.9 629.4L900.4 629.5L902.9 629.7L905.3 630.1L907.8 630.5L910.3 631.2L912.7 631.9L915.2 632.8L917.7 633.8L920.1 635.1L922.6 636.5L925 638L927.5 639.8L930 641.7L932.4 643.9L934.9 646.2L937.4 648.8L939.8 651.6L942.3 654.7L944.8 658L947.2 661.5L949.7 665.3L952.2 669.4L954.6 673.7L957.1 678.2L959.6 682.9L962 687.9L964.5 693L967 698.2L969.4 703.6L971.9 709.1L974.3 714.7L976.8 720.4L979.3 726.1L981.7 731.9L984.2 737.7L986.7 743.6L989.1 749.4L991.6 755.1L994.1 760.9L996.5 766.5L999 772.1L1001.5 777.5L1003.9 782.9L1006.4 788L1008.9 793.1L1011.3 797.9L1013.8 802.6L1016.3 807L1018.7 811.2L1021.2 815.1L1023.6 818.8L1026.1 822.1L1028.6 825.2L1031 827.9L1033.5 830.3L1036 832.3L1038.4 833.9L1040.9 835.2L1043.4 836L1045.8 836.3L1048.3 836.2L1050.8 835.7L1053.2 834.6L1055.7 833.2L1058.2 831.3L1060.6 829L1063.1 826.3L1065.6 823.3L1068 819.9L1070.5 816.2L1073 812.2L1075.4 808L1077.9 803.4L1080.3 798.7L1082.8 793.7L1085.3 788.4L1087.7 783.1L1090.2 777.5L1092.7 771.8L1095.1 766L1097.6 760L1100.1 754L1102.5 747.9L1105 741.8L1107.5 735.7L1109.9 729.5L1112.4 723.3L1114.9 717.2L1117.3 711.1L1119.8 705.1L1122.2 699.2L1124.7 693.4L1127.2 687.8L1129.6 682.2L1132.1 676.9L1134.6 671.7L1137 666.7L1139.5 662L1142 657.5L1144.4 653.3L1146.9 649.4L1149.4 645.8L1151.8 642.4L1154.3 639.4L1156.8 636.6L1159.2 634.1L1161.7 631.9L1164.2 629.9L1166.6 628.1L1169.1 626.6L1171.5 625.3L1174 624.2L1176.5 623.3L1178.9 622.6L1181.4 622.1L1183.9 621.7L1186.3 621.6L1188.8 621.5L1191.3 621.7L1193.7 621.9L1196.2 622.3L1198.7 622.8L1201.1 623.4L1203.6 624.1L1206.1 624.9L1208.5 625.8L1211 626.7L1213.5 627.7L1215.9 628.8L1218.4 629.8L1220.9 631L1223.3 632.1L1225.8 633.3L1228.2 634.4L1230.7 635.6L1233.2 636.7L1235.6 637.8L1238.1 638.9L1240.6 639.9L1243 640.9L1245.5 641.8L1248 642.6L1250.4 643.4L1252.9 644.1L1255.4 644.8L1257.8 645.3L1260.3 645.8L1262.8 646.3L1265.2 646.6L1267.7 647L1270.2 647.2L1272.6 647.5L1275.1 647.6L1277.5 647.7L1280 647.8L1282.5 647.8L1284.9 647.8L1287.4 647.7L1289.9 647.6L1292.3 647.4L1294.8 647.2L1297.3 647L1299.7 646.7L1302.2 646.4L1304.7 646.1L1307.1 645.7L1309.6 645.3L1312.1 644.9L1314.5 644.5L1317 644L1319.5 643.5L1321.9 643L1324.4 642.5L1326.8 642L1329.3 641.4L1331.8 640.9L1334.2 640.3L1336.7 639.8L1339.2 639.2L1341.6 638.6L1344.1 638" fill="none" stroke="#ff0000" stroke-width="4.0" stroke-dasharray="0.95 5.95"/>
<path d="M160.9 559.7L175.9 574.7L160.9 589.7L145.9 574.7Z" fill="#fff" stroke="#ff0000" stroke-width="2"/><path d="M144.9 574.7L176.9 574.7L160.9 590.7Z" fill="#ff0000"/>
<path d="M259.5 467.2L274.5 482.2L259.5 497.2L244.5 482.2Z" fill="#fff" stroke="#ff0000" stroke-width="2"/><path d="M243.5 482.2L275.5 482.2L259.5 498.2Z" fill="#ff0000"/>
<path d="M358.1 379.3L373.1 394.3L358.1 409.3L343.1 394.3Z" fill="#fff" stroke="#ff0000" stroke-width="2"/><path d="M342.1 394.3L374.1 394.3L358.1 410.3Z" fill="#ff0000"/>
<path d="M456.7 465.7L471.7 480.7L456.7 495.7L441.7 480.7Z" fill="#fff" stroke="#ff0000" stroke-width="2"/><path d="M440.7 480.7L472.7 480.7L456.7 496.7Z" fill="#ff0000"/>
<path d="M555.3 627.6L570.3 642.6L555.3 657.6L540.3 642.6Z" fill="#fff" stroke="#ff0000" stroke-width="2"/><path d="M539.3 642.6L571.3 642.6L555.3 658.6Z" fill="#ff0000"/>
<path d="M653.9 535.8L668.9 550.8L653.9 565.8L638.9 550.8Z" fill="#fff" stroke="#ff0000" stroke-width="2"/><path d="M637.9 550.8L669.9 550.8L653.9 566.8Z" fill="#ff0000"/>
<path d="M752.5 595.7L767.5 610.7L752.5 625.7L737.5 610.7Z" fill="#fff" stroke="#ff0000" stroke-width="2"/><path d="M736.5 610.7L768.5 610.7L752.5 626.7Z" fill="#ff0000"/>
<path d="M851.1 622.6L866.1 637.6L851.1 652.6L836.1 637.6Z" fill="#fff" stroke="#ff0000" stroke-width="2"/><path d="M835.1 637.6L867.1 637.6L851.1 653.6Z" fill="#ff0000"/>
<path d="M949.7 650.3L964.7 665.3L949.7 680.3L934.7 665.3Z" fill="#fff" stroke="#ff0000" stroke-width="2"/><path d="M933.7 665.3L965.7 665.3L949.7 681.3Z" fill="#ff0000"/>
<path d="M1048.3 821.2L1063.3 836.2L1048.3 851.2L1033.3 836.2Z" fill="#fff" stroke="#ff0000" stroke-width="2"/><path d="M1032.3 836.2L1064.3 836.2L1048.3 852.2Z" fill="#ff0000"/>
<path d="M1146.9 634.4L1161.9 649.4L1146.9 664.4L1131.9 649.4Z" fill="#fff" stroke="#ff0000" stroke-width="2"/><path d="M1130.9 649.4L1162.9 649.4L1146.9 665.4Z" fill="#ff0000"/>
<path d="M1245.5 626.8L1260.5 641.8L1245.5 656.8L1230.5 641.8Z" fill="#fff" stroke="#ff0000" stroke-width="2"/><path d="M1229.5 641.8L1261.5 641.8L1245.5 657.8Z" fill="#ff0000"/>
<path d="M1344.1 623L1359.1 638L1344.1 653L1329.1 638Z" fill="#fff" stroke="#ff0000" stroke-width="2"/><path d="M1328.1 638L1360.1 638L1344.1 654Z" fill="#ff0000"/>
<path d="M160.9 599.4L163.4 597.3L165.8 595.2L168.3 593.1L170.8 591L173.2 588.9L175.7 586.8L178.2 584.7L180.6 582.6L183.1 580.5L185.6 578.4L188 576.3L190.5 574.2L192.9 572.1L195.4 570L197.9 567.9L200.3 565.7L202.8 563.6L205.3 561.5L207.7 559.3L210.2 557.2L212.7 555L215.1 552.9L217.6 550.7L220.1 548.5L222.5 546.3L225 544.1L227.5 541.9L229.9 539.7L232.4 537.4L234.8 535.2L237.3 533L239.8 530.7L242.2 528.4L244.7 526.1L247.2 523.9L249.6 521.5L252.1 519.2L254.6 516.9L257 514.5L259.5 512.2L262 509.8L264.4 507.4L266.9 505L269.4 502.6L271.8 500.2L274.3 497.8L276.8 495.4L279.2 492.9L281.7 490.5L284.1 488.1L286.6 485.7L289.1 483.2L291.5 480.8L294 478.4L296.5 476L298.9 473.6L301.4 471.2L303.9 468.9L306.3 466.5L308.8 464.2L311.3 461.8L313.7 459.5L316.2 457.3L318.7 455L321.1 452.8L323.6 450.5L326.1 448.4L328.5 446.2L331 444.1L333.4 442L335.9 439.9L338.4 437.9L340.8 435.9L343.3 434L345.8 432L348.2 430.2L350.7 428.3L353.2 426.6L355.6 424.8L358.1 423.1L360.6 421.5L363 419.9L365.5 418.4L368 416.9L370.4 415.5L372.9 414.2L375.4 412.9L377.8 411.8L380.3 410.7L382.8 409.7L385.2 408.9L387.7 408.1L390.1 407.4L392.6 406.9L395.1 406.5L397.5 406.2L400 406L402.5 406L404.9 406.1L407.4 406.3L409.9 406.7L412.3 407.3L414.8 408L417.3 408.9L419.7 409.9L422.2 411.2L424.7 412.6L427.1 414.2L429.6 416L432 418L434.5 420.1L437 422.5L439.4 425.1L441.9 427.9L444.4 431L446.8 434.2L449.3 437.7L451.8 441.5L454.2 445.4L456.7 449.7L459.2 454.1L461.6 458.8L464.1 463.7L466.6 468.9L469 474.2L471.5 479.7L474 485.3L476.4 491.1L478.9 496.9L481.4 502.9L483.8 509L486.3 515.2L488.7 521.4L491.2 527.6L493.7 533.9L496.1 540.2L498.6 546.4L501.1 552.7L503.5 558.9L506 565L508.5 571.1L510.9 577.1L513.4 582.9L515.9 588.7L518.3 594.3L520.8 599.7L523.3 605L525.7 610L528.2 614.9L530.6 619.5L533.1 623.9L535.6 628.1L538 632L540.5 635.6L543 638.9L545.4 641.8L547.9 644.4L550.4 646.7L552.8 648.6L555.3 650.1L557.8 651.3L560.2 652L562.7 652.4L565.2 652.4L567.6 652.1L570.1 651.4L572.6 650.5L575 649.2L577.5 647.7L579.9 646L582.4 644L584.9 641.7L587.3 639.3L589.8 636.7L592.3 633.9L594.7 631L597.2 627.9L599.7 624.7L602.1 621.4L604.6 618L607.1 614.6L609.5 611.1L612 607.5L614.5 604L616.9 600.4L619.4 596.8L621.9 593.3L624.3 589.8L626.8 586.3L629.2 583L631.7 579.7L634.2 576.6L636.6 573.5L639.1 570.6L641.6 567.9L644 565.4L646.5 563L649 560.9L651.4 559L653.9 557.3L656.4 555.9L658.8 554.7L661.3 553.8L663.8 553.1L666.2 552.6L668.7 552.4L671.2 552.3L673.6 552.5L676.1 552.8L678.5 553.4L681 554.1L683.5 554.9L685.9 556L688.4 557.2L690.9 558.5L693.3 559.9L695.8 561.5L698.3 563.2L700.7 565L703.2 566.9L705.7 568.8L708.1 570.9L710.6 573L713.1 575.2L715.5 577.5L718 579.7L720.5 582.1L722.9 584.4L725.4 586.8L727.8 589.2L730.3 591.6L732.8 594L735.2 596.4L737.7 598.7L740.2 601L742.6 603.3L745.1 605.5L747.6 607.7L750 609.8L752.5 611.9L755 613.8L757.4 615.7L759.9 617.5L762.4 619.2L764.8 620.9L767.3 622.4L769.8 623.9L772.2 625.3L774.7 626.7L777.1 627.9L779.6 629.1L782.1 630.3L784.5 631.3L787 632.3L789.5 633.3L791.9 634.1L794.4 634.9L796.9 635.7L799.3 636.4L801.8 637L804.3 637.5L806.7 638.1L809.2 638.5L811.7 638.9L814.1 639.2L816.6 639.5L819.1 639.8L821.5 640L824 640.1L826.4 640.2L828.9 640.2L831.4 640.2L833.8 640.2L836.3 640.1L838.8 640L841.2 639.8L843.7 639.6L846.2 639.4L848.6 639.1L851.1 638.8L853.6 638.4L856 638L858.5 637.6L861 637.2L863.4 636.8L865.9 636.4L868.4 636L870.8 635.6L873.3 635.2L875.7 634.8L878.2 634.5L880.7 634.2L883.1 633.9L885.6 633.7L888.1 633.6L890.5 633.5L893 633.5L895.5 633.6L897.9 633.8L900.4 634L902.9 634.4L905.3 634.8L907.8 635.4L910.3 636L912.7 636.9L915.2 637.8L917.7 638.9L920.1 640.1L922.6 641.5L925 643L927.5 644.7L930 646.5L932.4 648.6L934.9 650.8L937.4 653.2L939.8 655.8L942.3 658.6L944.8 661.6L947.2 664.9L949.7 668.3L952.2 672L954.6 675.9L957.1 680L959.6 684.3L962 688.7L964.5 693.3L967 698L969.4 702.9L971.9 707.8L974.3 712.8L976.8 717.9L979.3 723L981.7 728.1L984.2 733.3L986.7 738.5L989.1 743.6L991.6 748.7L994.1 753.7L996.5 758.7L999 763.6L1001.5 768.4L1003.9 773L1006.4 777.6L1008.9 781.9L1011.3 786.1L1013.8 790.1L1016.3 793.9L1018.7 797.5L1021.2 800.9L1023.6 804L1026.1 806.8L1028.6 809.3L1031 811.6L1033.5 813.5L1036 815.1L1038.4 816.3L1040.9 817.1L1043.4 817.6L1045.8 817.6L1048.3 817.3L1050.8 816.5L1053.2 815.3L1055.7 813.7L1058.2 811.7L1060.6 809.3L1063.1 806.6L1065.6 803.5L1068 800.2L1070.5 796.5L1073 792.6L1075.4 788.5L1077.9 784L1080.3 779.4L1082.8 774.6L1085.3 769.6L1087.7 764.4L1090.2 759.1L1092.7 753.6L1095.1 748L1097.6 742.4L1100.1 736.7L1102.5 730.9L1105 725.1L1107.5 719.2L1109.9 713.4L1112.4 707.5L1114.9 701.8L1117.3 696L1119.8 690.4L1122.2 684.8L1124.7 679.3L1127.2 674L1129.6 668.8L1132.1 663.8L1134.6 658.9L1137 654.3L1139.5 649.8L1142 645.6L1144.4 641.7L1146.9 638L1149.4 634.6L1151.8 631.5L1154.3 628.7L1156.8 626.1L1159.2 623.8L1161.7 621.8L1164.2 619.9L1166.6 618.3L1169.1 616.9L1171.5 615.8L1174 614.8L1176.5 614L1178.9 613.4L1181.4 613L1183.9 612.7L1186.3 612.6L1188.8 612.6L1191.3 612.8L1193.7 613.1L1196.2 613.5L1198.7 614.1L1201.1 614.7L1203.6 615.4L1206.1 616.2L1208.5 617.1L1211 618L1213.5 619.1L1215.9 620.1L1218.4 621.2L1220.9 622.3L1223.3 623.4L1225.8 624.6L1228.2 625.7L1230.7 626.9L1233.2 628L1235.6 629.1L1238.1 630.2L1240.6 631.2L1243 632.2L1245.5 633.1L1248 633.9L1250.4 634.7L1252.9 635.4L1255.4 636.1L1257.8 636.6L1260.3 637.2L1262.8 637.6L1265.2 638L1267.7 638.4L1270.2 638.7L1272.6 638.9L1275.1 639.1L1277.5 639.2L1280 639.3L1282.5 639.4L1284.9 639.4L1287.4 639.3L1289.9 639.2L1292.3 639.1L1294.8 639L1297.3 638.8L1299.7 638.5L1302.2 638.3L1304.7 638L1307.1 637.7L1309.6 637.4L1312.1 637L1314.5 636.6L1317 636.2L1319.5 635.8L1321.9 635.3L1324.4 634.9L1326.8 634.4L1329.3 633.9L1331.8 633.4L1334.2 632.9L1336.7 632.4L1339.2 631.9L1341.6 631.3L1344.1 630.8" fill="none" stroke="#0000ff" stroke-width="4.0" stroke-dasharray="0.95 5.95"/>
<path d="M160.9 585.3L164.4 595.8L175.5 595.8L166.5 602.4L169.9 612.9L160.9 606.5L151.9 612.9L155.3 602.4L146.3 595.8L157.4 595.8Z" fill="#0000ff"/>
<path d="M259.5 498.1L263 508.6L274.1 508.7L265.1 515.2L268.5 525.8L259.5 519.3L250.5 525.8L253.9 515.2L244.9 508.7L256 508.6Z" fill="#0000ff"/>
<path d="M358.1 409L361.6 419.6L372.7 419.6L363.7 426.1L367.1 436.7L358.1 430.2L349.1 436.7L352.5 426.1L343.5 419.6L354.6 419.6Z" fill="#0000ff"/>
<path d="M456.7 435.6L460.2 446.1L471.3 446.1L462.3 452.7L465.7 463.2L456.7 456.8L447.7 463.2L451.1 452.7L442.1 446.1L453.2 446.1Z" fill="#0000ff"/>
<path d="M555.3 636L558.8 646.6L569.9 646.6L560.9 653.2L564.3 663.7L555.3 657.2L546.3 663.7L549.7 653.2L540.7 646.6L551.8 646.6Z" fill="#0000ff"/>
<path d="M653.9 543.2L657.4 553.7L668.5 553.8L659.5 560.3L662.9 570.9L653.9 564.4L644.9 570.9L648.3 560.3L639.3 553.8L650.4 553.7Z" fill="#0000ff"/>
<path d="M752.5 597.8L756 608.3L767.1 608.3L758.1 614.9L761.5 625.4L752.5 619L743.5 625.4L746.9 614.9L737.9 608.3L749 608.3Z" fill="#0000ff"/>
<path d="M851.1 624.7L854.6 635.2L865.7 635.2L856.7 641.8L860.1 652.4L851.1 645.9L842.1 652.4L845.5 641.8L836.5 635.2L847.6 635.2Z" fill="#0000ff"/>
<path d="M949.7 654.2L953.2 664.8L964.3 664.8L955.3 671.4L958.7 681.9L949.7 675.4L940.7 681.9L944.1 671.4L935.1 664.8L946.2 664.8Z" fill="#0000ff"/>
<path d="M1048.3 803.2L1051.8 813.7L1062.9 813.8L1053.9 820.3L1057.3 830.9L1048.3 824.4L1039.3 830.9L1042.7 820.3L1033.7 813.8L1044.8 813.7Z" fill="#0000ff"/>
<path d="M1146.9 623.9L1150.4 634.4L1161.5 634.5L1152.5 641L1155.9 651.6L1146.9 645.1L1137.9 651.6L1141.3 641L1132.3 634.5L1143.4 634.4Z" fill="#0000ff"/>
<path d="M1245.5 619L1249 629.5L1260.1 629.6L1251.1 636.1L1254.5 646.7L1245.5 640.2L1236.5 646.7L1239.9 636.1L1230.9 629.6L1242 629.5Z" fill="#0000ff"/>
<path d="M1344.1 616.7L1347.6 627.2L1358.7 627.3L1349.7 633.8L1353.1 644.4L1344.1 637.9L1335.1 644.4L1338.5 633.8L1329.5 627.3L1340.6 627.2Z" fill="#0000ff"/>
</g>
<rect x="174.9" y="24.4" width="1148.8" height="182.4" fill="#fff"/>
<path d="M174.9 22.4V206.8H1323.7V22.4" fill="none" stroke="#000" stroke-width="1.6"/>
<g font-family="'Liberation Serif', serif" fill="#000">
<path d="M174.9 60.5H261.5" stroke="#000000" stroke-width="2.6" fill="none"/>
<rect x="208.3" y="51.3" width="18.4" height="18.4" fill="#000000"/>
<text y="72.5" font-size="36"><tspan x="274">W</tspan><tspan x="307.5" font-size="28" dy="9">ed</tspan><tspan x="333" dy="-9">/h</tspan><tspan x="373">=</tspan><tspan x="405">0.25</tspan><tspan x="482.5">-</tspan><tspan x="513" font-size="28" dy="9">33</tspan></text><text transform="translate(493 72.5) scale(1.32 1.06)" font-size="36">ζ</text>
<path d="M174.9 117.7H185.9M202.4 117.7H208.9M229.9 117.7H241.4M259.4 117.7H261.4" stroke="#000000" stroke-width="2.6" fill="none"/>
<rect x="209" y="109.2" width="16.9" height="16.9" fill="#fff" stroke="#000000" stroke-width="1.6"/>
<text y="129.7" font-size="36"><tspan x="274">W</tspan><tspan x="307.5" font-size="28" dy="9">ed</tspan><tspan x="333" dy="-9">/h</tspan><tspan x="373">=</tspan><tspan x="405">0.25</tspan><tspan x="482.5">-</tspan><tspan x="513" font-size="28" dy="9">44</tspan></text><text transform="translate(493 129.7) scale(1.32 1.06)" font-size="36">ζ</text>
<path d="M175.9 174.2H261.5" stroke="#000000" stroke-width="2.6" stroke-dasharray="0.9 4.1" fill="none" opacity="0.55"/>
<path d="M203.1 174.2L224.7 162.2L224.7 186.2Z" fill="#000000"/>
<text y="186.2" font-size="36"><tspan x="274">W</tspan><tspan x="307.5" font-size="28" dy="9">ed</tspan><tspan x="333" dy="-9">/h</tspan><tspan x="373">=</tspan><tspan x="405">0.25</tspan><tspan x="482.5">-</tspan><tspan x="513" font-size="28" dy="9">55</tspan></text><text transform="translate(493 186.2) scale(1.32 1.06)" font-size="36">ζ</text><path d="M308.5 198.4H332.5" stroke="#000" stroke-width="1.1" stroke-dasharray="3 2" fill="none" opacity="0.75"/><path d="M514.5 198.4H540.5" stroke="#000" stroke-width="1.3" fill="none"/>
<path d="M561 60.5H648.3" stroke="#ff0000" stroke-width="2.6" fill="none"/>
<circle cx="604" cy="60.5" r="10.4" fill="#ff0000"/>
<text y="72.5" font-size="36"><tspan x="660.5">W</tspan><tspan x="694" font-size="28" dy="9">ed</tspan><tspan x="719.5" dy="-9">/h</tspan><tspan x="759.5">=</tspan><tspan x="791.5">0.50</tspan><tspan x="869">-</tspan><tspan x="899.5" font-size="28" dy="9">33</tspan></text><text transform="translate(879.5 72.5) scale(1.32 1.06)" font-size="36">ζ</text>
<path d="M561 117.7H572M588.5 117.7H595M616 117.7H627.5M645.5 117.7H647.5" stroke="#ff0000" stroke-width="2.6" fill="none"/>
<circle cx="604" cy="117.7" r="9.6" fill="#fff" stroke="#ff0000" stroke-width="1.6"/>
<text y="129.7" font-size="36"><tspan x="660.5">W</tspan><tspan x="694" font-size="28" dy="9">ed</tspan><tspan x="719.5" dy="-9">/h</tspan><tspan x="759.5">=</tspan><tspan x="791.5">0.50</tspan><tspan x="869">-</tspan><tspan x="899.5" font-size="28" dy="9">44</tspan></text><text transform="translate(879.5 129.7) scale(1.32 1.06)" font-size="36">ζ</text>
<path d="M562 174.2H648.3" stroke="#ff0000" stroke-width="2.6" stroke-dasharray="0.9 4.1" fill="none" opacity="0.55"/>
<path d="M604 162L616.1 174.2L604 186.3L591.9 174.2Z" fill="#fff" stroke="#ff0000" stroke-width="1.6"/><path d="M591 174.2L617 174.2L604 187.2Z" fill="#ff0000"/>
<text y="186.2" font-size="36"><tspan x="660.5">W</tspan><tspan x="694" font-size="28" dy="9">ed</tspan><tspan x="719.5" dy="-9">/h</tspan><tspan x="759.5">=</tspan><tspan x="791.5">0.50</tspan><tspan x="869">-</tspan><tspan x="899.5" font-size="28" dy="9">55</tspan></text><text transform="translate(879.5 186.2) scale(1.32 1.06)" font-size="36">ζ</text><path d="M695 198.4H719" stroke="#000" stroke-width="1.1" stroke-dasharray="3 2" fill="none" opacity="0.75"/><path d="M901 198.4H927" stroke="#000" stroke-width="1.3" fill="none"/>
<path d="M948 60.5H1035" stroke="#0000ff" stroke-width="2.6" fill="none"/>
<path d="M991.5 49.7L1003.5 71.3L979.5 71.3Z" fill="#0000ff"/>
<text y="72.5" font-size="36"><tspan x="1047.5">W</tspan><tspan x="1081" font-size="28" dy="9">ed</tspan><tspan x="1106.5" dy="-9">/h</tspan><tspan x="1146.5">=</tspan><tspan x="1178.5">0.75</tspan><tspan x="1256">-</tspan><tspan x="1286.5" font-size="28" dy="9">33</tspan></text><text transform="translate(1266.5 72.5) scale(1.32 1.06)" font-size="36">ζ</text>
<path d="M948 117.7H959M975.5 117.7H982M1003 117.7H1014.5M1032.5 117.7H1034.5" stroke="#0000ff" stroke-width="2.6" fill="none"/>
<path d="M991.5 108.6L1002.1 127.7L980.9 127.7Z" fill="#fff" stroke="#0000ff" stroke-width="1.6" stroke-linejoin="miter"/>
<text y="129.7" font-size="36"><tspan x="1047.5">W</tspan><tspan x="1081" font-size="28" dy="9">ed</tspan><tspan x="1106.5" dy="-9">/h</tspan><tspan x="1146.5">=</tspan><tspan x="1178.5">0.75</tspan><tspan x="1256">-</tspan><tspan x="1286.5" font-size="28" dy="9">44</tspan></text><text transform="translate(1266.5 129.7) scale(1.32 1.06)" font-size="36">ζ</text>
<path d="M949 174.2H1035" stroke="#0000ff" stroke-width="2.6" stroke-dasharray="0.9 4.1" fill="none" opacity="0.55"/>
<path d="M991.5 162.8L994.3 171.3L1003.3 171.3L996 176.6L998.8 185.2L991.5 180L984.2 185.2L987 176.6L979.7 171.3L988.7 171.3Z" fill="#0000ff"/>
<text y="186.2" font-size="36"><tspan x="1047.5">W</tspan><tspan x="1081" font-size="28" dy="9">ed</tspan><tspan x="1106.5" dy="-9">/h</tspan><tspan x="1146.5">=</tspan><tspan x="1178.5">0.75</tspan><tspan x="1256">-</tspan><tspan x="1286.5" font-size="28" dy="9">55</tspan></text><text transform="translate(1266.5 186.2) scale(1.32 1.06)" font-size="36">ζ</text><path d="M1082 198.4H1106" stroke="#000" stroke-width="1.1" stroke-dasharray="3 2" fill="none" opacity="0.75"/><path d="M1288 198.4H1314" stroke="#000" stroke-width="1.3" fill="none"/>
</g>
<use href="#inset" transform="translate(30.5 1296)"/>
<g fill="none" stroke="#bcbcbc" stroke-width="1.6" stroke-dasharray="6.6 6"><path d="M388.6 2266.4V1318" /><path d="M585.7 2266.4V1318" /><path d="M782.9 2266.4V1318" /><path d="M980 2266.4V1318" /><path d="M1177.2 2266.4V1318" /><path d="M191.4 2076.8H1374.4" /><path d="M191.4 1887.2H1374.4" /><path d="M191.4 1697.6H1374.4" /><path d="M191.4 1508H1374.4" /></g>
<use href="#inset" transform="translate(30.5 1296)" opacity="0.45"/>
<g stroke="#000" stroke-width="4" fill="none" stroke-linecap="butt">
<path d="M191.4 1316V2268.4"/>
<path d="M1374.4 1316V2268.4"/>
<path d="M172.9 1318H1376.4"/>
<path d="M172.9 2266.4H1376.4"/>
<path d="M181.9 2171.6H191.4" stroke-width="3.6"/>
<path d="M172.9 2076.8H191.4"/>
<path d="M181.9 1982H191.4" stroke-width="3.6"/>
<path d="M172.9 1887.2H191.4"/>
<path d="M181.9 1792.4H191.4" stroke-width="3.6"/>
<path d="M172.9 1697.6H191.4"/>
<path d="M181.9 1602.8H191.4" stroke-width="3.6"/>
<path d="M172.9 1508H191.4"/>
<path d="M181.9 1413.2H191.4" stroke-width="3.6"/>
<path d="M191.4 2266.4V2284.9"/>
<path d="M290 2266.4V2275.9" stroke-width="3.6"/>
<path d="M388.6 2266.4V2284.9"/>
<path d="M487.1 2266.4V2275.9" stroke-width="3.6"/>
<path d="M585.7 2266.4V2284.9"/>
<path d="M684.3 2266.4V2275.9" stroke-width="3.6"/>
<path d="M782.9 2266.4V2284.9"/>
<path d="M881.5 2266.4V2275.9" stroke-width="3.6"/>
<path d="M980 2266.4V2284.9"/>
<path d="M1078.6 2266.4V2275.9" stroke-width="3.6"/>
<path d="M1177.2 2266.4V2284.9"/>
<path d="M1275.8 2266.4V2275.9" stroke-width="3.6"/>
<path d="M1374.4 2266.4V2284.9"/>
</g>
<g font-family="'Liberation Sans', sans-serif" font-size="41" fill="#000">
<text x="159.9" y="2277.9" text-anchor="end">0.0</text>
<text x="159.9" y="2088.3" text-anchor="end">0.5</text>
<text x="159.9" y="1898.7" text-anchor="end">1.0</text>
<text x="159.9" y="1709.1" text-anchor="end">1.5</text>
<text x="159.9" y="1519.5" text-anchor="end">2.0</text>
<text x="159.9" y="1329.9" text-anchor="end">2.5</text>
<text x="191.4" y="2329" text-anchor="middle">2</text>
<text x="388.6" y="2329" text-anchor="middle">4</text>
<text x="585.7" y="2329" text-anchor="middle">6</text>
<text x="782.9" y="2329" text-anchor="middle">8</text>
<text x="980" y="2329" text-anchor="middle">10</text>
<text x="1177.2" y="2329" text-anchor="middle">12</text>
<text x="1374.4" y="2329" text-anchor="middle">14</text>
<text x="782.9" y="2387.9" text-anchor="middle" font-size="40.9">Time Period (<tspan font-style="italic">s</tspan>)</text>
<text transform="translate(65.5 1839.2) rotate(-90)" font-size="41">q<tspan font-size="28" dy="11.5">mean</tspan></text>
</g>
<g clip-path="url(#clipb)">
<path d="M191.4 1908.1L193.9 1906.3L196.3 1904.5L198.8 1902.7L201.3 1900.9L203.7 1899.1L206.2 1897.3L208.7 1895.4L211.1 1893.6L213.6 1891.7L216 1889.8L218.5 1887.9L221 1885.9L223.4 1883.9L225.9 1881.9L228.4 1879.9L230.8 1877.8L233.3 1875.7L235.8 1873.5L238.2 1871.3L240.7 1869L243.2 1866.7L245.6 1864.4L248.1 1862L250.5 1859.5L253 1857L255.5 1854.4L257.9 1851.7L260.4 1849L262.9 1846.2L265.3 1843.3L267.8 1840.4L270.3 1837.4L272.7 1834.3L275.2 1831.1L277.7 1827.9L280.1 1824.5L282.6 1821.1L285.1 1817.6L287.5 1813.9L290 1810.2L292.4 1806.4L294.9 1802.5L297.4 1798.5L299.8 1794.4L302.3 1790.2L304.8 1786L307.2 1781.7L309.7 1777.3L312.2 1772.8L314.6 1768.3L317.1 1763.7L319.6 1759L322 1754.3L324.5 1749.6L326.9 1744.8L329.4 1740L331.9 1735.1L334.3 1730.2L336.8 1725.3L339.3 1720.4L341.7 1715.4L344.2 1710.4L346.7 1705.4L349.1 1700.4L351.6 1695.4L354.1 1690.4L356.5 1685.4L359 1680.4L361.5 1675.4L363.9 1670.5L366.4 1665.5L368.8 1660.6L371.3 1655.7L373.8 1650.8L376.2 1646L378.7 1641.2L381.2 1636.5L383.6 1631.8L386.1 1627.1L388.6 1622.5L391 1618L393.5 1613.5L396 1609.1L398.4 1604.8L400.9 1600.5L403.3 1596.3L405.8 1592.3L408.3 1588.3L410.7 1584.3L413.2 1580.5L415.7 1576.8L418.1 1573.2L420.6 1569.7L423.1 1566.3L425.5 1563L428 1559.9L430.5 1556.9L432.9 1554L435.4 1551.2L437.9 1548.6L440.3 1546.1L442.8 1543.8L445.2 1541.6L447.7 1539.6L450.2 1537.7L452.6 1536L455.1 1534.5L457.6 1533.1L460 1531.9L462.5 1530.9L465 1530L467.4 1529.4L469.9 1529L472.4 1528.7L474.8 1528.6L477.3 1528.8L479.7 1529.1L482.2 1529.7L484.7 1530.5L487.1 1531.5L489.6 1532.7L492.1 1534.2L494.5 1535.8L497 1537.7L499.5 1539.7L501.9 1541.9L504.4 1544.3L506.9 1546.8L509.3 1549.5L511.8 1552.3L514.2 1555.2L516.7 1558.3L519.2 1561.5L521.6 1564.7L524.1 1568.1L526.6 1571.5L529 1575L531.5 1578.5L534 1582.1L536.4 1585.7L538.9 1589.4L541.4 1593.1L543.8 1596.7L546.3 1600.4L548.8 1604.1L551.2 1607.7L553.7 1611.4L556.1 1614.9L558.6 1618.4L561.1 1621.9L563.5 1625.3L566 1628.6L568.5 1631.8L570.9 1634.9L573.4 1637.9L575.9 1640.8L578.3 1643.6L580.8 1646.2L583.3 1648.7L585.7 1651L588.2 1653.1L590.6 1655.1L593.1 1656.9L595.6 1658.6L598 1660.1L600.5 1661.5L603 1662.8L605.4 1663.9L607.9 1665L610.4 1665.9L612.8 1666.8L615.3 1667.5L617.8 1668.2L620.2 1668.8L622.7 1669.4L625.2 1669.9L627.6 1670.3L630.1 1670.7L632.5 1671.1L635 1671.4L637.5 1671.8L639.9 1672.1L642.4 1672.4L644.9 1672.7L647.3 1673L649.8 1673.4L652.3 1673.7L654.7 1674.1L657.2 1674.6L659.7 1675.1L662.1 1675.6L664.6 1676.2L667 1676.9L669.5 1677.7L672 1678.5L674.4 1679.5L676.9 1680.5L679.4 1681.7L681.8 1682.9L684.3 1684.3L686.8 1685.9L689.2 1687.5L691.7 1689.3L694.2 1691.2L696.6 1693.2L699.1 1695.3L701.6 1697.5L704 1699.8L706.5 1702.1L708.9 1704.6L711.4 1707.1L713.9 1709.7L716.3 1712.4L718.8 1715.1L721.3 1717.9L723.7 1720.7L726.2 1723.6L728.7 1726.5L731.1 1729.4L733.6 1732.3L736.1 1735.3L738.5 1738.3L741 1741.3L743.4 1744.3L745.9 1747.2L748.4 1750.2L750.8 1753.2L753.3 1756.1L755.8 1759L758.2 1761.9L760.7 1764.7L763.2 1767.5L765.6 1770.2L768.1 1772.9L770.6 1775.5L773 1778.1L775.5 1780.5L778 1782.9L780.4 1785.3L782.9 1787.5L785.3 1789.6L787.8 1791.6L790.3 1793.6L792.7 1795.4L795.2 1797.2L797.7 1798.9L800.1 1800.5L802.6 1802.1L805.1 1803.6L807.5 1805L810 1806.4L812.5 1807.7L814.9 1808.9L817.4 1810.1L819.8 1811.3L822.3 1812.4L824.8 1813.5L827.2 1814.5L829.7 1815.6L832.2 1816.6L834.6 1817.5L837.1 1818.5L839.6 1819.4L842 1820.4L844.5 1821.3L847 1822.2L849.4 1823.1L851.9 1824.1L854.4 1825L856.8 1825.9L859.3 1826.9L861.7 1827.9L864.2 1828.9L866.7 1829.9L869.1 1830.9L871.6 1832L874.1 1833.1L876.5 1834.3L879 1835.5L881.5 1836.8L883.9 1838.1L886.4 1839.4L888.9 1840.8L891.3 1842.3L893.8 1843.7L896.2 1845.2L898.7 1846.8L901.2 1848.3L903.6 1849.9L906.1 1851.5L908.6 1853.1L911 1854.7L913.5 1856.3L916 1857.9L918.4 1859.5L920.9 1861L923.4 1862.6L925.8 1864.2L928.3 1865.7L930.8 1867.2L933.2 1868.6L935.7 1870.1L938.1 1871.4L940.6 1872.8L943.1 1874.1L945.5 1875.3L948 1876.5L950.5 1877.6L952.9 1878.6L955.4 1879.6L957.9 1880.5L960.3 1881.3L962.8 1882.1L965.3 1882.7L967.7 1883.3L970.2 1883.7L972.6 1884.1L975.1 1884.4L977.6 1884.5L980 1884.5L982.5 1884.5L985 1884.3L987.4 1884L989.9 1883.6L992.4 1883.1L994.8 1882.5L997.3 1881.9L999.8 1881.1L1002.2 1880.4L1004.7 1879.5L1007.1 1878.6L1009.6 1877.6L1012.1 1876.6L1014.5 1875.5L1017 1874.5L1019.5 1873.4L1021.9 1872.2L1024.4 1871.1L1026.9 1869.9L1029.3 1868.8L1031.8 1867.6L1034.3 1866.5L1036.7 1865.4L1039.2 1864.3L1041.7 1863.2L1044.1 1862.2L1046.6 1861.2L1049 1860.2L1051.5 1859.3L1054 1858.5L1056.4 1857.7L1058.9 1857L1061.4 1856.3L1063.8 1855.8L1066.3 1855.3L1068.8 1855L1071.2 1854.7L1073.7 1854.6L1076.2 1854.5L1078.6 1854.6L1081.1 1854.8L1083.5 1855.1L1086 1855.5L1088.5 1856.1L1090.9 1856.7L1093.4 1857.5L1095.9 1858.3L1098.3 1859.2L1100.8 1860.2L1103.3 1861.3L1105.7 1862.5L1108.2 1863.7L1110.7 1864.9L1113.1 1866.3L1115.6 1867.7L1118.1 1869.1L1120.5 1870.5L1123 1872L1125.4 1873.6L1127.9 1875.1L1130.4 1876.7L1132.8 1878.3L1135.3 1879.8L1137.8 1881.4L1140.2 1883L1142.7 1884.6L1145.2 1886.1L1147.6 1887.6L1150.1 1889.1L1152.6 1890.6L1155 1892L1157.5 1893.4L1159.9 1894.8L1162.4 1896.1L1164.9 1897.3L1167.3 1898.5L1169.8 1899.6L1172.3 1900.6L1174.7 1901.5L1177.2 1902.4L1179.7 1903.1L1182.1 1903.8L1184.6 1904.4L1187.1 1904.9L1189.5 1905.3L1192 1905.7L1194.5 1906L1196.9 1906.2L1199.4 1906.3L1201.8 1906.4L1204.3 1906.4L1206.8 1906.4L1209.2 1906.3L1211.7 1906.2L1214.2 1906L1216.6 1905.7L1219.1 1905.4L1221.6 1905.1L1224 1904.8L1226.5 1904.4L1229 1904L1231.4 1903.5L1233.9 1903.1L1236.3 1902.6L1238.8 1902.1L1241.3 1901.5L1243.7 1901L1246.2 1900.5L1248.7 1899.9L1251.1 1899.4L1253.6 1898.8L1256.1 1898.3L1258.5 1897.7L1261 1897.2L1263.5 1896.7L1265.9 1896.2L1268.4 1895.7L1270.9 1895.2L1273.3 1894.8L1275.8 1894.4L1278.2 1894L1280.7 1893.7L1283.2 1893.4L1285.6 1893.1L1288.1 1892.8L1290.6 1892.6L1293 1892.4L1295.5 1892.2L1298 1892.1L1300.4 1891.9L1302.9 1891.8L1305.4 1891.8L1307.8 1891.7L1310.3 1891.7L1312.7 1891.6L1315.2 1891.6L1317.7 1891.7L1320.1 1891.7L1322.6 1891.8L1325.1 1891.8L1327.5 1891.9L1330 1892L1332.5 1892.1L1334.9 1892.3L1337.4 1892.4L1339.9 1892.6L1342.3 1892.7L1344.8 1892.9L1347.3 1893.1L1349.7 1893.3L1352.2 1893.5L1354.6 1893.7L1357.1 1893.9L1359.6 1894.1L1362 1894.4L1364.5 1894.6L1367 1894.8L1369.4 1895.1L1371.9 1895.3L1374.4 1895.5" fill="none" stroke="#000000" stroke-width="4.0"/>
<rect x="180.1" y="1896.7" width="22.7" height="22.7" fill="#000000"/>
<rect x="278.6" y="1798.9" width="22.7" height="22.7" fill="#000000"/>
<rect x="377.2" y="1611.2" width="22.7" height="22.7" fill="#000000"/>
<rect x="475.8" y="1520.2" width="22.7" height="22.7" fill="#000000"/>
<rect x="574.4" y="1639.6" width="22.7" height="22.7" fill="#000000"/>
<rect x="672.9" y="1673" width="22.7" height="22.7" fill="#000000"/>
<rect x="771.5" y="1776.1" width="22.7" height="22.7" fill="#000000"/>
<rect x="870.1" y="1825.4" width="22.7" height="22.7" fill="#000000"/>
<rect x="968.7" y="1873.2" width="22.7" height="22.7" fill="#000000"/>
<rect x="1067.3" y="1843.2" width="22.7" height="22.7" fill="#000000"/>
<rect x="1165.9" y="1891" width="22.7" height="22.7" fill="#000000"/>
<rect x="1264.4" y="1883.1" width="22.7" height="22.7" fill="#000000"/>
<rect x="1363" y="1884.2" width="22.7" height="22.7" fill="#000000"/>
<path d="M191.4 1869.4L193.9 1869.5L196.3 1869.7L198.8 1869.8L201.3 1869.9L203.7 1870L206.2 1870.1L208.7 1870.1L211.1 1870.1L213.6 1870.1L216 1870L218.5 1869.9L221 1869.7L223.4 1869.4L225.9 1869.1L228.4 1868.7L230.8 1868.3L233.3 1867.8L235.8 1867.1L238.2 1866.4L240.7 1865.6L243.2 1864.7L245.6 1863.7L248.1 1862.6L250.5 1861.4L253 1860L255.5 1858.5L257.9 1856.9L260.4 1855.2L262.9 1853.3L265.3 1851.3L267.8 1849.1L270.3 1846.8L272.7 1844.3L275.2 1841.6L277.7 1838.8L280.1 1835.8L282.6 1832.6L285.1 1829.3L287.5 1825.7L290 1822L292.4 1818L294.9 1813.9L297.4 1809.6L299.8 1805.1L302.3 1800.5L304.8 1795.7L307.2 1790.8L309.7 1785.8L312.2 1780.7L314.6 1775.4L317.1 1770.1L319.6 1764.7L322 1759.3L324.5 1753.8L326.9 1748.2L329.4 1742.6L331.9 1737.1L334.3 1731.5L336.8 1725.9L339.3 1720.3L341.7 1714.7L344.2 1709.2L346.7 1703.7L349.1 1698.3L351.6 1693L354.1 1687.7L356.5 1682.6L359 1677.5L361.5 1672.6L363.9 1667.8L366.4 1663.1L368.8 1658.6L371.3 1654.3L373.8 1650.1L376.2 1646.1L378.7 1642.3L381.2 1638.7L383.6 1635.4L386.1 1632.2L388.6 1629.3L391 1626.7L393.5 1624.3L396 1622.2L398.4 1620.2L400.9 1618.6L403.3 1617.1L405.8 1615.9L408.3 1614.9L410.7 1614L413.2 1613.4L415.7 1613L418.1 1612.8L420.6 1612.8L423.1 1613L425.5 1613.3L428 1613.8L430.5 1614.5L432.9 1615.3L435.4 1616.3L437.9 1617.5L440.3 1618.8L442.8 1620.2L445.2 1621.8L447.7 1623.5L450.2 1625.3L452.6 1627.2L455.1 1629.3L457.6 1631.5L460 1633.7L462.5 1636.1L465 1638.5L467.4 1641.1L469.9 1643.7L472.4 1646.4L474.8 1649.2L477.3 1652L479.7 1654.9L482.2 1657.8L484.7 1660.8L487.1 1663.9L489.6 1666.9L492.1 1670L494.5 1673.2L497 1676.4L499.5 1679.6L501.9 1682.8L504.4 1686.1L506.9 1689.4L509.3 1692.7L511.8 1696L514.2 1699.4L516.7 1702.8L519.2 1706.2L521.6 1709.6L524.1 1713.1L526.6 1716.6L529 1720L531.5 1723.5L534 1727L536.4 1730.5L538.9 1734.1L541.4 1737.6L543.8 1741.1L546.3 1744.7L548.8 1748.2L551.2 1751.8L553.7 1755.3L556.1 1758.9L558.6 1762.4L561.1 1765.9L563.5 1769.5L566 1773L568.5 1776.5L570.9 1780L573.4 1783.5L575.9 1787L578.3 1790.4L580.8 1793.9L583.3 1797.3L585.7 1800.7L588.2 1804.1L590.6 1807.5L593.1 1810.8L595.6 1814.2L598 1817.4L600.5 1820.7L603 1823.9L605.4 1827L607.9 1830.1L610.4 1833.2L612.8 1836.2L615.3 1839.1L617.8 1842L620.2 1844.8L622.7 1847.5L625.2 1850.2L627.6 1852.8L630.1 1855.3L632.5 1857.7L635 1860L637.5 1862.2L639.9 1864.4L642.4 1866.4L644.9 1868.3L647.3 1870.2L649.8 1871.9L652.3 1873.5L654.7 1875L657.2 1876.3L659.7 1877.6L662.1 1878.7L664.6 1879.6L667 1880.5L669.5 1881.2L672 1881.7L674.4 1882.2L676.9 1882.4L679.4 1882.5L681.8 1882.5L684.3 1882.3L686.8 1881.9L689.2 1881.4L691.7 1880.7L694.2 1879.9L696.6 1878.9L699.1 1877.8L701.6 1876.6L704 1875.3L706.5 1873.9L708.9 1872.4L711.4 1870.8L713.9 1869.1L716.3 1867.4L718.8 1865.6L721.3 1863.7L723.7 1861.8L726.2 1859.9L728.7 1857.9L731.1 1855.9L733.6 1853.8L736.1 1851.8L738.5 1849.8L741 1847.7L743.4 1845.7L745.9 1843.7L748.4 1841.7L750.8 1839.8L753.3 1837.9L755.8 1836.1L758.2 1834.3L760.7 1832.6L763.2 1831L765.6 1829.4L768.1 1828L770.6 1826.6L773 1825.4L775.5 1824.2L778 1823.2L780.4 1822.3L782.9 1821.6L785.3 1821L787.8 1820.5L790.3 1820.2L792.7 1820L795.2 1820L797.7 1820L800.1 1820.2L802.6 1820.5L805.1 1820.9L807.5 1821.4L810 1822.1L812.5 1822.8L814.9 1823.6L817.4 1824.5L819.8 1825.5L822.3 1826.6L824.8 1827.7L827.2 1828.9L829.7 1830.2L832.2 1831.6L834.6 1833L837.1 1834.5L839.6 1836L842 1837.5L844.5 1839.2L847 1840.8L849.4 1842.5L851.9 1844.2L854.4 1846L856.8 1847.7L859.3 1849.5L861.7 1851.3L864.2 1853.1L866.7 1854.9L869.1 1856.7L871.6 1858.5L874.1 1860.3L876.5 1862.1L879 1863.8L881.5 1865.6L883.9 1867.3L886.4 1869L888.9 1870.7L891.3 1872.3L893.8 1873.9L896.2 1875.5L898.7 1877L901.2 1878.6L903.6 1880L906.1 1881.5L908.6 1882.9L911 1884.3L913.5 1885.7L916 1887L918.4 1888.2L920.9 1889.5L923.4 1890.7L925.8 1891.9L928.3 1893L930.8 1894.1L933.2 1895.1L935.7 1896.1L938.1 1897.1L940.6 1898L943.1 1898.9L945.5 1899.7L948 1900.5L950.5 1901.2L952.9 1901.9L955.4 1902.6L957.9 1903.1L960.3 1903.7L962.8 1904.2L965.3 1904.6L967.7 1905L970.2 1905.4L972.6 1905.6L975.1 1905.9L977.6 1906L980 1906.2L982.5 1906.2L985 1906.2L987.4 1906.2L989.9 1906.1L992.4 1905.9L994.8 1905.8L997.3 1905.5L999.8 1905.3L1002.2 1904.9L1004.7 1904.6L1007.1 1904.2L1009.6 1903.8L1012.1 1903.3L1014.5 1902.8L1017 1902.3L1019.5 1901.8L1021.9 1901.2L1024.4 1900.7L1026.9 1900.1L1029.3 1899.4L1031.8 1898.8L1034.3 1898.2L1036.7 1897.5L1039.2 1896.9L1041.7 1896.2L1044.1 1895.5L1046.6 1894.8L1049 1894.2L1051.5 1893.5L1054 1892.8L1056.4 1892.2L1058.9 1891.5L1061.4 1890.9L1063.8 1890.2L1066.3 1889.6L1068.8 1889L1071.2 1888.4L1073.7 1887.9L1076.2 1887.3L1078.6 1886.8L1081.1 1886.3L1083.5 1885.9L1086 1885.4L1088.5 1885L1090.9 1884.6L1093.4 1884.3L1095.9 1883.9L1098.3 1883.6L1100.8 1883.3L1103.3 1883L1105.7 1882.8L1108.2 1882.5L1110.7 1882.3L1113.1 1882.1L1115.6 1881.9L1118.1 1881.8L1120.5 1881.6L1123 1881.5L1125.4 1881.4L1127.9 1881.2L1130.4 1881.2L1132.8 1881.1L1135.3 1881L1137.8 1880.9L1140.2 1880.9L1142.7 1880.8L1145.2 1880.8L1147.6 1880.8L1150.1 1880.7L1152.6 1880.7L1155 1880.7L1157.5 1880.7L1159.9 1880.7L1162.4 1880.7L1164.9 1880.7L1167.3 1880.7L1169.8 1880.7L1172.3 1880.7L1174.7 1880.7L1177.2 1880.8L1179.7 1880.8L1182.1 1880.8L1184.6 1880.8L1187.1 1880.8L1189.5 1880.8L1192 1880.8L1194.5 1880.8L1196.9 1880.8L1199.4 1880.8L1201.8 1880.8L1204.3 1880.7L1206.8 1880.7L1209.2 1880.7L1211.7 1880.7L1214.2 1880.7L1216.6 1880.7L1219.1 1880.7L1221.6 1880.7L1224 1880.7L1226.5 1880.6L1229 1880.6L1231.4 1880.6L1233.9 1880.6L1236.3 1880.6L1238.8 1880.6L1241.3 1880.6L1243.7 1880.5L1246.2 1880.5L1248.7 1880.5L1251.1 1880.5L1253.6 1880.5L1256.1 1880.5L1258.5 1880.5L1261 1880.4L1263.5 1880.4L1265.9 1880.4L1268.4 1880.4L1270.9 1880.4L1273.3 1880.4L1275.8 1880.4L1278.2 1880.4L1280.7 1880.4L1283.2 1880.3L1285.6 1880.3L1288.1 1880.3L1290.6 1880.3L1293 1880.3L1295.5 1880.3L1298 1880.3L1300.4 1880.3L1302.9 1880.3L1305.4 1880.3L1307.8 1880.3L1310.3 1880.3L1312.7 1880.3L1315.2 1880.3L1317.7 1880.3L1320.1 1880.3L1322.6 1880.3L1325.1 1880.3L1327.5 1880.3L1330 1880.3L1332.5 1880.3L1334.9 1880.3L1337.4 1880.3L1339.9 1880.3L1342.3 1880.3L1344.8 1880.3L1347.3 1880.3L1349.7 1880.3L1352.2 1880.3L1354.6 1880.3L1357.1 1880.3L1359.6 1880.3L1362 1880.3L1364.5 1880.4L1367 1880.4L1369.4 1880.4L1371.9 1880.4L1374.4 1880.4" fill="none" stroke="#ff0000" stroke-width="4.0"/>
<circle cx="191.4" cy="1869.4" r="12.8" fill="#ff0000"/>
<circle cx="290" cy="1822" r="12.8" fill="#ff0000"/>
<circle cx="388.6" cy="1629.3" r="12.8" fill="#ff0000"/>
<circle cx="487.1" cy="1663.9" r="12.8" fill="#ff0000"/>
<circle cx="585.7" cy="1800.7" r="12.8" fill="#ff0000"/>
<circle cx="684.3" cy="1882.3" r="12.8" fill="#ff0000"/>
<circle cx="782.9" cy="1821.6" r="12.8" fill="#ff0000"/>
<circle cx="881.5" cy="1865.6" r="12.8" fill="#ff0000"/>
<circle cx="980" cy="1906.2" r="12.8" fill="#ff0000"/>
<circle cx="1078.6" cy="1886.8" r="12.8" fill="#ff0000"/>
<circle cx="1177.2" cy="1880.8" r="12.8" fill="#ff0000"/>
<circle cx="1275.8" cy="1880.4" r="12.8" fill="#ff0000"/>
<circle cx="1374.4" cy="1880.4" r="12.8" fill="#ff0000"/>
<path d="M191.4 1913L193.9 1904.9L196.3 1896.9L198.8 1888.9L201.3 1880.9L203.7 1872.9L206.2 1865L208.7 1857.1L211.1 1849.3L213.6 1841.5L216 1833.9L218.5 1826.3L221 1818.8L223.4 1811.4L225.9 1804.1L228.4 1796.9L230.8 1789.9L233.3 1783L235.8 1776.2L238.2 1769.6L240.7 1763.1L243.2 1756.8L245.6 1750.7L248.1 1744.8L250.5 1739L253 1733.5L255.5 1728.2L257.9 1723L260.4 1718.2L262.9 1713.5L265.3 1709.1L267.8 1704.9L270.3 1701L272.7 1697.4L275.2 1694L277.7 1691L280.1 1688.2L282.6 1685.7L285.1 1683.5L287.5 1681.7L290 1680.2L292.4 1679L294.9 1678.1L297.4 1677.5L299.8 1677.3L302.3 1677.3L304.8 1677.7L307.2 1678.3L309.7 1679.2L312.2 1680.3L314.6 1681.7L317.1 1683.3L319.6 1685.2L322 1687.3L324.5 1689.6L326.9 1692.1L329.4 1694.8L331.9 1697.7L334.3 1700.7L336.8 1704L339.3 1707.3L341.7 1710.9L344.2 1714.5L346.7 1718.3L349.1 1722.2L351.6 1726.2L354.1 1730.3L356.5 1734.5L359 1738.8L361.5 1743.2L363.9 1747.6L366.4 1752.1L368.8 1756.6L371.3 1761.1L373.8 1765.7L376.2 1770.3L378.7 1774.9L381.2 1779.5L383.6 1784.1L386.1 1788.6L388.6 1793.2L391 1797.6L393.5 1802.1L396 1806.5L398.4 1810.8L400.9 1815L403.3 1819.1L405.8 1823.2L408.3 1827.2L410.7 1831L413.2 1834.8L415.7 1838.4L418.1 1841.8L420.6 1845.2L423.1 1848.4L425.5 1851.4L428 1854.3L430.5 1856.9L432.9 1859.4L435.4 1861.7L437.9 1863.9L440.3 1865.8L442.8 1867.4L445.2 1868.9L447.7 1870.1L450.2 1871.1L452.6 1871.9L455.1 1872.3L457.6 1872.5L460 1872.5L462.5 1872.1L465 1871.5L467.4 1870.5L469.9 1869.3L472.4 1867.7L474.8 1865.8L477.3 1863.6L479.7 1861L482.2 1858.1L484.7 1854.8L487.1 1851.2L489.6 1847.2L492.1 1842.8L494.5 1838.1L497 1833.1L499.5 1827.7L501.9 1822.1L504.4 1816.3L506.9 1810.2L509.3 1803.9L511.8 1797.4L514.2 1790.7L516.7 1783.9L519.2 1777L521.6 1769.9L524.1 1762.7L526.6 1755.5L529 1748.2L531.5 1740.9L534 1733.5L536.4 1726.2L538.9 1718.9L541.4 1711.6L543.8 1704.4L546.3 1697.3L548.8 1690.3L551.2 1683.5L553.7 1676.7L556.1 1670.2L558.6 1663.8L561.1 1657.7L563.5 1651.7L566 1646L568.5 1640.6L570.9 1635.5L573.4 1630.7L575.9 1626.2L578.3 1622L580.8 1618.3L583.3 1614.9L585.7 1611.9L588.2 1609.3L590.6 1607.2L593.1 1605.5L595.6 1604.1L598 1603.2L600.5 1602.5L603 1602.3L605.4 1602.4L607.9 1602.8L610.4 1603.5L612.8 1604.5L615.3 1605.7L617.8 1607.3L620.2 1609.1L622.7 1611.1L625.2 1613.4L627.6 1615.9L630.1 1618.6L632.5 1621.4L635 1624.5L637.5 1627.7L639.9 1631L642.4 1634.5L644.9 1638.1L647.3 1641.8L649.8 1645.6L652.3 1649.5L654.7 1653.4L657.2 1657.4L659.7 1661.5L662.1 1665.5L664.6 1669.6L667 1673.7L669.5 1677.7L672 1681.8L674.4 1685.8L676.9 1689.7L679.4 1693.5L681.8 1697.3L684.3 1701L686.8 1704.6L689.2 1708.1L691.7 1711.4L694.2 1714.7L696.6 1717.9L699.1 1720.9L701.6 1723.9L704 1726.8L706.5 1729.6L708.9 1732.3L711.4 1735L713.9 1737.5L716.3 1740L718.8 1742.4L721.3 1744.7L723.7 1747L726.2 1749.2L728.7 1751.3L731.1 1753.4L733.6 1755.4L736.1 1757.4L738.5 1759.3L741 1761.2L743.4 1763L745.9 1764.7L748.4 1766.5L750.8 1768.2L753.3 1769.8L755.8 1771.4L758.2 1773L760.7 1774.6L763.2 1776.1L765.6 1777.6L768.1 1779.1L770.6 1780.6L773 1782.1L775.5 1783.5L778 1785L780.4 1786.4L782.9 1787.8L785.3 1789.3L787.8 1790.7L790.3 1792.1L792.7 1793.6L795.2 1795L797.7 1796.4L800.1 1797.8L802.6 1799.3L805.1 1800.7L807.5 1802.1L810 1803.5L812.5 1804.9L814.9 1806.3L817.4 1807.7L819.8 1809L822.3 1810.4L824.8 1811.8L827.2 1813.1L829.7 1814.5L832.2 1815.8L834.6 1817.2L837.1 1818.5L839.6 1819.8L842 1821.1L844.5 1822.4L847 1823.7L849.4 1824.9L851.9 1826.2L854.4 1827.4L856.8 1828.7L859.3 1829.9L861.7 1831.1L864.2 1832.3L866.7 1833.5L869.1 1834.6L871.6 1835.8L874.1 1836.9L876.5 1838L879 1839.1L881.5 1840.2L883.9 1841.2L886.4 1842.3L888.9 1843.3L891.3 1844.3L893.8 1845.3L896.2 1846.3L898.7 1847.3L901.2 1848.2L903.6 1849.2L906.1 1850.1L908.6 1851L911 1851.9L913.5 1852.8L916 1853.7L918.4 1854.6L920.9 1855.5L923.4 1856.4L925.8 1857.2L928.3 1858.1L930.8 1858.9L933.2 1859.8L935.7 1860.6L938.1 1861.5L940.6 1862.3L943.1 1863.1L945.5 1864L948 1864.8L950.5 1865.6L952.9 1866.4L955.4 1867.3L957.9 1868.1L960.3 1869L962.8 1869.8L965.3 1870.6L967.7 1871.5L970.2 1872.3L972.6 1873.2L975.1 1874.1L977.6 1874.9L980 1875.8L982.5 1876.7L985 1877.6L987.4 1878.5L989.9 1879.4L992.4 1880.3L994.8 1881.2L997.3 1882.2L999.8 1883.1L1002.2 1884L1004.7 1884.9L1007.1 1885.8L1009.6 1886.8L1012.1 1887.7L1014.5 1888.6L1017 1889.5L1019.5 1890.4L1021.9 1891.3L1024.4 1892.1L1026.9 1893L1029.3 1893.9L1031.8 1894.7L1034.3 1895.5L1036.7 1896.4L1039.2 1897.2L1041.7 1898L1044.1 1898.7L1046.6 1899.5L1049 1900.2L1051.5 1901L1054 1901.7L1056.4 1902.3L1058.9 1903L1061.4 1903.6L1063.8 1904.2L1066.3 1904.8L1068.8 1905.4L1071.2 1905.9L1073.7 1906.4L1076.2 1906.9L1078.6 1907.3L1081.1 1907.7L1083.5 1908.1L1086 1908.4L1088.5 1908.8L1090.9 1909L1093.4 1909.3L1095.9 1909.5L1098.3 1909.8L1100.8 1909.9L1103.3 1910.1L1105.7 1910.2L1108.2 1910.3L1110.7 1910.4L1113.1 1910.5L1115.6 1910.5L1118.1 1910.6L1120.5 1910.6L1123 1910.6L1125.4 1910.5L1127.9 1910.5L1130.4 1910.4L1132.8 1910.3L1135.3 1910.2L1137.8 1910.1L1140.2 1910L1142.7 1909.9L1145.2 1909.7L1147.6 1909.5L1150.1 1909.4L1152.6 1909.2L1155 1909L1157.5 1908.8L1159.9 1908.6L1162.4 1908.3L1164.9 1908.1L1167.3 1907.9L1169.8 1907.7L1172.3 1907.4L1174.7 1907.2L1177.2 1906.9L1179.7 1906.7L1182.1 1906.4L1184.6 1906.2L1187.1 1905.9L1189.5 1905.6L1192 1905.4L1194.5 1905.1L1196.9 1904.9L1199.4 1904.6L1201.8 1904.3L1204.3 1904.1L1206.8 1903.8L1209.2 1903.6L1211.7 1903.3L1214.2 1903.1L1216.6 1902.8L1219.1 1902.5L1221.6 1902.3L1224 1902L1226.5 1901.8L1229 1901.6L1231.4 1901.3L1233.9 1901.1L1236.3 1900.8L1238.8 1900.6L1241.3 1900.4L1243.7 1900.2L1246.2 1900L1248.7 1899.7L1251.1 1899.5L1253.6 1899.3L1256.1 1899.1L1258.5 1899L1261 1898.8L1263.5 1898.6L1265.9 1898.4L1268.4 1898.3L1270.9 1898.1L1273.3 1898L1275.8 1897.8L1278.2 1897.7L1280.7 1897.6L1283.2 1897.4L1285.6 1897.3L1288.1 1897.2L1290.6 1897.1L1293 1897.1L1295.5 1897L1298 1896.9L1300.4 1896.8L1302.9 1896.8L1305.4 1896.7L1307.8 1896.7L1310.3 1896.6L1312.7 1896.6L1315.2 1896.5L1317.7 1896.5L1320.1 1896.5L1322.6 1896.5L1325.1 1896.4L1327.5 1896.4L1330 1896.4L1332.5 1896.4L1334.9 1896.4L1337.4 1896.4L1339.9 1896.4L1342.3 1896.4L1344.8 1896.4L1347.3 1896.4L1349.7 1896.5L1352.2 1896.5L1354.6 1896.5L1357.1 1896.5L1359.6 1896.5L1362 1896.6L1364.5 1896.6L1367 1896.6L1369.4 1896.6L1371.9 1896.7L1374.4 1896.7" fill="none" stroke="#0000ff" stroke-width="4.0"/>
<path d="M191.4 1895.3L206.2 1921.9L176.6 1921.9Z" fill="#0000ff"/>
<path d="M290 1662.4L304.8 1689L275.2 1689Z" fill="#0000ff"/>
<path d="M388.6 1775.4L403.4 1802L373.8 1802Z" fill="#0000ff"/>
<path d="M487.1 1833.4L501.9 1860L472.3 1860Z" fill="#0000ff"/>
<path d="M585.7 1594.2L600.5 1620.8L570.9 1620.8Z" fill="#0000ff"/>
<path d="M684.3 1683.3L699.1 1709.9L669.5 1709.9Z" fill="#0000ff"/>
<path d="M782.9 1770.1L797.7 1796.7L768.1 1796.7Z" fill="#0000ff"/>
<path d="M881.5 1822.4L896.3 1849L866.7 1849Z" fill="#0000ff"/>
<path d="M980 1858.1L994.8 1884.7L965.2 1884.7Z" fill="#0000ff"/>
<path d="M1078.6 1889.6L1093.4 1916.2L1063.8 1916.2Z" fill="#0000ff"/>
<path d="M1177.2 1889.2L1192 1915.8L1162.4 1915.8Z" fill="#0000ff"/>
<path d="M1275.8 1880.1L1290.6 1906.7L1261 1906.7Z" fill="#0000ff"/>
<path d="M1374.4 1878.9L1389.2 1905.5L1359.6 1905.5Z" fill="#0000ff"/>
<path d="M191.4 1860.3L193.9 1850.3L196.3 1840.4L198.8 1830.5L201.3 1820.6L203.7 1810.7L206.2 1800.9L208.7 1791.2L211.1 1781.5L213.6 1771.9L216 1762.3L218.5 1752.9L221 1743.5L223.4 1734.3L225.9 1725.1L228.4 1716.1L230.8 1707.2L233.3 1698.5L235.8 1689.9L238.2 1681.5L240.7 1673.2L243.2 1665.1L245.6 1657.2L248.1 1649.5L250.5 1642L253 1634.7L255.5 1627.7L257.9 1620.8L260.4 1614.2L262.9 1607.9L265.3 1601.8L267.8 1596L270.3 1590.4L272.7 1585.1L275.2 1580.2L277.7 1575.5L280.1 1571.1L282.6 1567.1L285.1 1563.3L287.5 1560L290 1556.9L292.4 1554.2L294.9 1551.9L297.4 1549.9L299.8 1548.2L302.3 1546.8L304.8 1545.8L307.2 1545.1L309.7 1544.6L312.2 1544.5L314.6 1544.6L317.1 1545L319.6 1545.7L322 1546.6L324.5 1547.8L326.9 1549.2L329.4 1550.8L331.9 1552.7L334.3 1554.8L336.8 1557.1L339.3 1559.6L341.7 1562.2L344.2 1565.1L346.7 1568.2L349.1 1571.4L351.6 1574.7L354.1 1578.2L356.5 1581.9L359 1585.7L361.5 1589.6L363.9 1593.7L366.4 1597.8L368.8 1602.1L371.3 1606.4L373.8 1610.9L376.2 1615.4L378.7 1620L381.2 1624.6L383.6 1629.3L386.1 1634L388.6 1638.8L391 1643.6L393.5 1648.5L396 1653.3L398.4 1658.2L400.9 1663.1L403.3 1668L405.8 1672.9L408.3 1677.8L410.7 1682.8L413.2 1687.7L415.7 1692.6L418.1 1697.5L420.6 1702.4L423.1 1707.3L425.5 1712.2L428 1717L430.5 1721.9L432.9 1726.7L435.4 1731.4L437.9 1736.2L440.3 1740.9L442.8 1745.5L445.2 1750.1L447.7 1754.7L450.2 1759.2L452.6 1763.7L455.1 1768.1L457.6 1772.4L460 1776.7L462.5 1780.9L465 1785L467.4 1789.1L469.9 1793.1L472.4 1797L474.8 1800.8L477.3 1804.6L479.7 1808.2L482.2 1811.8L484.7 1815.2L487.1 1818.6L489.6 1821.8L492.1 1825L494.5 1828L497 1831L499.5 1833.8L501.9 1836.5L504.4 1839.2L506.9 1841.7L509.3 1844.1L511.8 1846.5L514.2 1848.7L516.7 1850.8L519.2 1852.8L521.6 1854.8L524.1 1856.6L526.6 1858.3L529 1859.9L531.5 1861.5L534 1862.9L536.4 1864.2L538.9 1865.5L541.4 1866.6L543.8 1867.6L546.3 1868.6L548.8 1869.4L551.2 1870.1L553.7 1870.8L556.1 1871.3L558.6 1871.8L561.1 1872.2L563.5 1872.4L566 1872.6L568.5 1872.7L570.9 1872.6L573.4 1872.5L575.9 1872.3L578.3 1872L580.8 1871.6L583.3 1871.1L585.7 1870.5L588.2 1869.8L590.6 1869.1L593.1 1868.2L595.6 1867.3L598 1866.3L600.5 1865.2L603 1864L605.4 1862.8L607.9 1861.6L610.4 1860.2L612.8 1858.9L615.3 1857.4L617.8 1856L620.2 1854.5L622.7 1852.9L625.2 1851.4L627.6 1849.8L630.1 1848.2L632.5 1846.5L635 1844.9L637.5 1843.2L639.9 1841.6L642.4 1839.9L644.9 1838.3L647.3 1836.6L649.8 1835L652.3 1833.4L654.7 1831.8L657.2 1830.2L659.7 1828.7L662.1 1827.2L664.6 1825.7L667 1824.3L669.5 1822.9L672 1821.6L674.4 1820.3L676.9 1819.1L679.4 1818L681.8 1816.9L684.3 1815.9L686.8 1815L689.2 1814.1L691.7 1813.3L694.2 1812.6L696.6 1812L699.1 1811.4L701.6 1810.9L704 1810.4L706.5 1810L708.9 1809.7L711.4 1809.4L713.9 1809.1L716.3 1808.9L718.8 1808.8L721.3 1808.7L723.7 1808.7L726.2 1808.6L728.7 1808.7L731.1 1808.7L733.6 1808.8L736.1 1808.9L738.5 1809.1L741 1809.3L743.4 1809.5L745.9 1809.7L748.4 1810L750.8 1810.2L753.3 1810.5L755.8 1810.8L758.2 1811.1L760.7 1811.5L763.2 1811.8L765.6 1812.1L768.1 1812.5L770.6 1812.8L773 1813.1L775.5 1813.5L778 1813.8L780.4 1814.1L782.9 1814.4L785.3 1814.7L787.8 1815L790.3 1815.2L792.7 1815.5L795.2 1815.7L797.7 1816L800.1 1816.2L802.6 1816.4L805.1 1816.6L807.5 1816.8L810 1817L812.5 1817.1L814.9 1817.3L817.4 1817.5L819.8 1817.6L822.3 1817.8L824.8 1817.9L827.2 1818L829.7 1818.1L832.2 1818.2L834.6 1818.4L837.1 1818.5L839.6 1818.6L842 1818.6L844.5 1818.7L847 1818.8L849.4 1818.9L851.9 1819L854.4 1819L856.8 1819.1L859.3 1819.2L861.7 1819.2L864.2 1819.3L866.7 1819.4L869.1 1819.4L871.6 1819.5L874.1 1819.5L876.5 1819.6L879 1819.6L881.5 1819.7L883.9 1819.8L886.4 1819.8L888.9 1819.9L891.3 1819.9L893.8 1820L896.2 1820.1L898.7 1820.1L901.2 1820.2L903.6 1820.3L906.1 1820.3L908.6 1820.4L911 1820.4L913.5 1820.5L916 1820.6L918.4 1820.6L920.9 1820.7L923.4 1820.7L925.8 1820.8L928.3 1820.9L930.8 1820.9L933.2 1821L935.7 1821L938.1 1821.1L940.6 1821.1L943.1 1821.2L945.5 1821.2L948 1821.3L950.5 1821.3L952.9 1821.3L955.4 1821.4L957.9 1821.4L960.3 1821.4L962.8 1821.5L965.3 1821.5L967.7 1821.5L970.2 1821.5L972.6 1821.6L975.1 1821.6L977.6 1821.6L980 1821.6L982.5 1821.6L985 1821.6L987.4 1821.6L989.9 1821.6L992.4 1821.6L994.8 1821.6L997.3 1821.6L999.8 1821.6L1002.2 1821.5L1004.7 1821.5L1007.1 1821.5L1009.6 1821.5L1012.1 1821.5L1014.5 1821.4L1017 1821.4L1019.5 1821.4L1021.9 1821.3L1024.4 1821.3L1026.9 1821.3L1029.3 1821.3L1031.8 1821.2L1034.3 1821.2L1036.7 1821.2L1039.2 1821.1L1041.7 1821.1L1044.1 1821.1L1046.6 1821.1L1049 1821L1051.5 1821L1054 1821L1056.4 1821L1058.9 1820.9L1061.4 1820.9L1063.8 1820.9L1066.3 1820.9L1068.8 1820.9L1071.2 1820.9L1073.7 1820.8L1076.2 1820.8L1078.6 1820.8L1081.1 1820.8L1083.5 1820.8L1086 1820.9L1088.5 1820.9L1090.9 1820.9L1093.4 1820.9L1095.9 1820.9L1098.3 1820.9L1100.8 1820.9L1103.3 1821L1105.7 1821L1108.2 1821L1110.7 1821L1113.1 1821.1L1115.6 1821.1L1118.1 1821.1L1120.5 1821.2L1123 1821.2L1125.4 1821.2L1127.9 1821.3L1130.4 1821.3L1132.8 1821.4L1135.3 1821.4L1137.8 1821.4L1140.2 1821.5L1142.7 1821.5L1145.2 1821.5L1147.6 1821.6L1150.1 1821.6L1152.6 1821.7L1155 1821.7L1157.5 1821.7L1159.9 1821.8L1162.4 1821.8L1164.9 1821.8L1167.3 1821.9L1169.8 1821.9L1172.3 1821.9L1174.7 1822L1177.2 1822L1179.7 1822L1182.1 1822L1184.6 1822L1187.1 1822.1L1189.5 1822.1L1192 1822.1L1194.5 1822.1L1196.9 1822.1L1199.4 1822.1L1201.8 1822.1L1204.3 1822.1L1206.8 1822.1L1209.2 1822.2L1211.7 1822.2L1214.2 1822.2L1216.6 1822.2L1219.1 1822.2L1221.6 1822.2L1224 1822.2L1226.5 1822.2L1229 1822.1L1231.4 1822.1L1233.9 1822.1L1236.3 1822.1L1238.8 1822.1L1241.3 1822.1L1243.7 1822.1L1246.2 1822.1L1248.7 1822.1L1251.1 1822.1L1253.6 1822.1L1256.1 1822.1L1258.5 1822.1L1261 1822L1263.5 1822L1265.9 1822L1268.4 1822L1270.9 1822L1273.3 1822L1275.8 1822L1278.2 1822L1280.7 1822L1283.2 1821.9L1285.6 1821.9L1288.1 1821.9L1290.6 1821.9L1293 1821.9L1295.5 1821.9L1298 1821.9L1300.4 1821.9L1302.9 1821.9L1305.4 1821.9L1307.8 1821.8L1310.3 1821.8L1312.7 1821.8L1315.2 1821.8L1317.7 1821.8L1320.1 1821.8L1322.6 1821.8L1325.1 1821.8L1327.5 1821.8L1330 1821.8L1332.5 1821.7L1334.9 1821.7L1337.4 1821.7L1339.9 1821.7L1342.3 1821.7L1344.8 1821.7L1347.3 1821.7L1349.7 1821.7L1352.2 1821.7L1354.6 1821.7L1357.1 1821.7L1359.6 1821.7L1362 1821.6L1364.5 1821.6L1367 1821.6L1369.4 1821.6L1371.9 1821.6L1374.4 1821.6" fill="none" stroke="#000000" stroke-width="4.0" stroke-dasharray="14.5 18.5"/>
<rect x="181" y="1849.8" width="20.9" height="20.9" fill="#fff" stroke="#000000" stroke-width="2"/>
<rect x="279.5" y="1546.5" width="20.9" height="20.9" fill="#fff" stroke="#000000" stroke-width="2"/>
<rect x="378.1" y="1628.4" width="20.9" height="20.9" fill="none" stroke="#000000" stroke-width="2"/>
<rect x="476.7" y="1808.1" width="20.9" height="20.9" fill="#fff" stroke="#000000" stroke-width="2"/>
<rect x="575.3" y="1860.1" width="20.9" height="20.9" fill="#fff" stroke="#000000" stroke-width="2"/>
<rect x="673.8" y="1805.5" width="20.9" height="20.9" fill="#fff" stroke="#000000" stroke-width="2"/>
<rect x="772.4" y="1803.9" width="20.9" height="20.9" fill="#fff" stroke="#000000" stroke-width="2"/>
<rect x="871" y="1809.3" width="20.9" height="20.9" fill="#fff" stroke="#000000" stroke-width="2"/>
<rect x="969.6" y="1811.1" width="20.9" height="20.9" fill="#fff" stroke="#000000" stroke-width="2"/>
<rect x="1068.2" y="1810.4" width="20.9" height="20.9" fill="#fff" stroke="#000000" stroke-width="2"/>
<rect x="1166.8" y="1811.5" width="20.9" height="20.9" fill="#fff" stroke="#000000" stroke-width="2"/>
<rect x="1265.3" y="1811.5" width="20.9" height="20.9" fill="#fff" stroke="#000000" stroke-width="2"/>
<rect x="1363.9" y="1811.1" width="20.9" height="20.9" fill="#fff" stroke="#000000" stroke-width="2"/>
<path d="M191.4 1760.5L193.9 1764.2L196.3 1767.9L198.8 1771.5L201.3 1775.2L203.7 1778.8L206.2 1782.3L208.7 1785.8L211.1 1789.3L213.6 1792.6L216 1796L218.5 1799.2L221 1802.3L223.4 1805.4L225.9 1808.3L228.4 1811.2L230.8 1813.9L233.3 1816.5L235.8 1818.9L238.2 1821.2L240.7 1823.4L243.2 1825.4L245.6 1827.2L248.1 1828.9L250.5 1830.3L253 1831.6L255.5 1832.7L257.9 1833.6L260.4 1834.2L262.9 1834.6L265.3 1834.8L267.8 1834.8L270.3 1834.5L272.7 1834L275.2 1833.2L277.7 1832.1L280.1 1830.7L282.6 1829.1L285.1 1827.2L287.5 1824.9L290 1822.4L292.4 1819.5L294.9 1816.3L297.4 1812.9L299.8 1809.2L302.3 1805.2L304.8 1801L307.2 1796.6L309.7 1792L312.2 1787.3L314.6 1782.4L317.1 1777.3L319.6 1772.2L322 1766.9L324.5 1761.6L326.9 1756.2L329.4 1750.8L331.9 1745.4L334.3 1739.9L336.8 1734.5L339.3 1729.1L341.7 1723.7L344.2 1718.5L346.7 1713.3L349.1 1708.2L351.6 1703.3L354.1 1698.5L356.5 1693.8L359 1689.4L361.5 1685.1L363.9 1681.1L366.4 1677.3L368.8 1673.8L371.3 1670.5L373.8 1667.5L376.2 1664.9L378.7 1662.6L381.2 1660.6L383.6 1659L386.1 1657.8L388.6 1657L391 1656.6L393.5 1656.7L396 1657.1L398.4 1657.9L400.9 1659L403.3 1660.5L405.8 1662.2L408.3 1664.3L410.7 1666.6L413.2 1669.2L415.7 1672L418.1 1675.1L420.6 1678.3L423.1 1681.7L425.5 1685.3L428 1689L430.5 1692.8L432.9 1696.7L435.4 1700.7L437.9 1704.8L440.3 1708.9L442.8 1713L445.2 1717.1L447.7 1721.2L450.2 1725.3L452.6 1729.3L455.1 1733.3L457.6 1737.2L460 1740.9L462.5 1744.5L465 1748L467.4 1751.3L469.9 1754.4L472.4 1757.3L474.8 1760L477.3 1762.4L479.7 1764.6L482.2 1766.4L484.7 1768L487.1 1769.3L489.6 1770.2L492.1 1770.8L494.5 1771.1L497 1771.1L499.5 1770.8L501.9 1770.2L504.4 1769.4L506.9 1768.4L509.3 1767.2L511.8 1765.8L514.2 1764.2L516.7 1762.5L519.2 1760.6L521.6 1758.5L524.1 1756.4L526.6 1754.2L529 1751.9L531.5 1749.5L534 1747.1L536.4 1744.7L538.9 1742.2L541.4 1739.8L543.8 1737.3L546.3 1735L548.8 1732.6L551.2 1730.4L553.7 1728.2L556.1 1726.1L558.6 1724.2L561.1 1722.4L563.5 1720.7L566 1719.2L568.5 1717.9L570.9 1716.8L573.4 1715.9L575.9 1715.3L578.3 1714.9L580.8 1714.8L583.3 1715L585.7 1715.4L588.2 1716.2L590.6 1717.3L593.1 1718.7L595.6 1720.3L598 1722.2L600.5 1724.4L603 1726.8L605.4 1729.4L607.9 1732.3L610.4 1735.3L612.8 1738.5L615.3 1741.9L617.8 1745.4L620.2 1749.1L622.7 1752.9L625.2 1756.8L627.6 1760.8L630.1 1765L632.5 1769.1L635 1773.4L637.5 1777.6L639.9 1781.9L642.4 1786.3L644.9 1790.6L647.3 1794.9L649.8 1799.2L652.3 1803.5L654.7 1807.7L657.2 1811.8L659.7 1815.9L662.1 1819.9L664.6 1823.8L667 1827.5L669.5 1831.1L672 1834.6L674.4 1837.9L676.9 1841L679.4 1844L681.8 1846.7L684.3 1849.3L686.8 1851.6L689.2 1853.7L691.7 1855.5L694.2 1857.2L696.6 1858.7L699.1 1860L701.6 1861.1L704 1862L706.5 1862.7L708.9 1863.3L711.4 1863.7L713.9 1864L716.3 1864.2L718.8 1864.2L721.3 1864.1L723.7 1863.9L726.2 1863.5L728.7 1863.1L731.1 1862.6L733.6 1862L736.1 1861.3L738.5 1860.5L741 1859.7L743.4 1858.8L745.9 1857.9L748.4 1856.9L750.8 1855.9L753.3 1854.9L755.8 1853.8L758.2 1852.8L760.7 1851.7L763.2 1850.7L765.6 1849.6L768.1 1848.6L770.6 1847.6L773 1846.6L775.5 1845.7L778 1844.8L780.4 1844L782.9 1843.2L785.3 1842.5L787.8 1841.9L790.3 1841.3L792.7 1840.9L795.2 1840.4L797.7 1840.1L800.1 1839.7L802.6 1839.5L805.1 1839.3L807.5 1839.1L810 1839L812.5 1839L814.9 1839L817.4 1839L819.8 1839.1L822.3 1839.2L824.8 1839.3L827.2 1839.5L829.7 1839.7L832.2 1839.9L834.6 1840.1L837.1 1840.4L839.6 1840.7L842 1841L844.5 1841.3L847 1841.7L849.4 1842L851.9 1842.4L854.4 1842.8L856.8 1843.1L859.3 1843.5L861.7 1843.9L864.2 1844.3L866.7 1844.6L869.1 1845L871.6 1845.4L874.1 1845.7L876.5 1846L879 1846.3L881.5 1846.6L883.9 1846.9L886.4 1847.1L888.9 1847.4L891.3 1847.6L893.8 1847.8L896.2 1848L898.7 1848.1L901.2 1848.3L903.6 1848.4L906.1 1848.5L908.6 1848.6L911 1848.7L913.5 1848.7L916 1848.8L918.4 1848.8L920.9 1848.9L923.4 1848.9L925.8 1848.9L928.3 1848.9L930.8 1848.9L933.2 1848.9L935.7 1848.9L938.1 1848.8L940.6 1848.8L943.1 1848.7L945.5 1848.7L948 1848.6L950.5 1848.6L952.9 1848.5L955.4 1848.5L957.9 1848.4L960.3 1848.3L962.8 1848.2L965.3 1848.2L967.7 1848.1L970.2 1848L972.6 1848L975.1 1847.9L977.6 1847.8L980 1847.8L982.5 1847.7L985 1847.7L987.4 1847.6L989.9 1847.6L992.4 1847.5L994.8 1847.5L997.3 1847.4L999.8 1847.4L1002.2 1847.4L1004.7 1847.3L1007.1 1847.3L1009.6 1847.3L1012.1 1847.3L1014.5 1847.3L1017 1847.2L1019.5 1847.2L1021.9 1847.2L1024.4 1847.2L1026.9 1847.2L1029.3 1847.2L1031.8 1847.2L1034.3 1847.2L1036.7 1847.2L1039.2 1847.2L1041.7 1847.2L1044.1 1847.2L1046.6 1847.2L1049 1847.2L1051.5 1847.2L1054 1847.2L1056.4 1847.3L1058.9 1847.3L1061.4 1847.3L1063.8 1847.3L1066.3 1847.3L1068.8 1847.3L1071.2 1847.3L1073.7 1847.4L1076.2 1847.4L1078.6 1847.4L1081.1 1847.4L1083.5 1847.4L1086 1847.4L1088.5 1847.4L1090.9 1847.5L1093.4 1847.5L1095.9 1847.5L1098.3 1847.5L1100.8 1847.5L1103.3 1847.5L1105.7 1847.5L1108.2 1847.6L1110.7 1847.6L1113.1 1847.6L1115.6 1847.6L1118.1 1847.6L1120.5 1847.6L1123 1847.6L1125.4 1847.6L1127.9 1847.7L1130.4 1847.7L1132.8 1847.7L1135.3 1847.7L1137.8 1847.7L1140.2 1847.7L1142.7 1847.7L1145.2 1847.7L1147.6 1847.7L1150.1 1847.7L1152.6 1847.7L1155 1847.7L1157.5 1847.7L1159.9 1847.8L1162.4 1847.8L1164.9 1847.8L1167.3 1847.8L1169.8 1847.8L1172.3 1847.8L1174.7 1847.8L1177.2 1847.8L1179.7 1847.8L1182.1 1847.8L1184.6 1847.8L1187.1 1847.8L1189.5 1847.8L1192 1847.7L1194.5 1847.7L1196.9 1847.7L1199.4 1847.7L1201.8 1847.7L1204.3 1847.7L1206.8 1847.7L1209.2 1847.7L1211.7 1847.7L1214.2 1847.7L1216.6 1847.7L1219.1 1847.7L1221.6 1847.7L1224 1847.6L1226.5 1847.6L1229 1847.6L1231.4 1847.6L1233.9 1847.6L1236.3 1847.6L1238.8 1847.6L1241.3 1847.6L1243.7 1847.5L1246.2 1847.5L1248.7 1847.5L1251.1 1847.5L1253.6 1847.5L1256.1 1847.5L1258.5 1847.5L1261 1847.5L1263.5 1847.4L1265.9 1847.4L1268.4 1847.4L1270.9 1847.4L1273.3 1847.4L1275.8 1847.4L1278.2 1847.4L1280.7 1847.4L1283.2 1847.3L1285.6 1847.3L1288.1 1847.3L1290.6 1847.3L1293 1847.3L1295.5 1847.3L1298 1847.3L1300.4 1847.3L1302.9 1847.3L1305.4 1847.3L1307.8 1847.2L1310.3 1847.2L1312.7 1847.2L1315.2 1847.2L1317.7 1847.2L1320.1 1847.2L1322.6 1847.2L1325.1 1847.2L1327.5 1847.2L1330 1847.2L1332.5 1847.1L1334.9 1847.1L1337.4 1847.1L1339.9 1847.1L1342.3 1847.1L1344.8 1847.1L1347.3 1847.1L1349.7 1847.1L1352.2 1847.1L1354.6 1847.1L1357.1 1847.1L1359.6 1847.1L1362 1847L1364.5 1847L1367 1847L1369.4 1847L1371.9 1847L1374.4 1847" fill="none" stroke="#ff0000" stroke-width="4.0" stroke-dasharray="14.5 18.5"/>
<circle cx="191.4" cy="1760.5" r="11.8" fill="#fff" stroke="#ff0000" stroke-width="2"/>
<circle cx="290" cy="1822.4" r="11.8" fill="#fff" stroke="#ff0000" stroke-width="2"/>
<circle cx="388.6" cy="1657" r="11.8" fill="#fff" stroke="#ff0000" stroke-width="2"/>
<circle cx="487.1" cy="1769.3" r="11.8" fill="#fff" stroke="#ff0000" stroke-width="2"/>
<circle cx="585.7" cy="1715.4" r="11.8" fill="#fff" stroke="#ff0000" stroke-width="2"/>
<circle cx="684.3" cy="1849.3" r="11.8" fill="#fff" stroke="#ff0000" stroke-width="2"/>
<circle cx="782.9" cy="1843.2" r="11.8" fill="#fff" stroke="#ff0000" stroke-width="2"/>
<circle cx="881.5" cy="1846.6" r="11.8" fill="#fff" stroke="#ff0000" stroke-width="2"/>
<circle cx="980" cy="1847.8" r="11.8" fill="#fff" stroke="#ff0000" stroke-width="2"/>
<circle cx="1078.6" cy="1847.4" r="11.8" fill="#fff" stroke="#ff0000" stroke-width="2"/>
<circle cx="1177.2" cy="1847.8" r="11.8" fill="#fff" stroke="#ff0000" stroke-width="2"/>
<circle cx="1275.8" cy="1847.4" r="11.8" fill="#fff" stroke="#ff0000" stroke-width="2"/>
<circle cx="1374.4" cy="1847" r="11.8" fill="#fff" stroke="#ff0000" stroke-width="2"/>
<path d="M191.4 1787.8L193.9 1778.4L196.3 1768.9L198.8 1759.5L201.3 1750.1L203.7 1740.7L206.2 1731.4L208.7 1722.1L211.1 1712.9L213.6 1703.7L216 1694.7L218.5 1685.7L221 1676.8L223.4 1668.1L225.9 1659.4L228.4 1650.9L230.8 1642.5L233.3 1634.2L235.8 1626.1L238.2 1618.2L240.7 1610.4L243.2 1602.8L245.6 1595.5L248.1 1588.2L250.5 1581.3L253 1574.5L255.5 1567.9L257.9 1561.6L260.4 1555.5L262.9 1549.7L265.3 1544.1L267.8 1538.8L270.3 1533.8L272.7 1529L275.2 1524.6L277.7 1520.4L280.1 1516.6L282.6 1513.1L285.1 1509.9L287.5 1507.1L290 1504.6L292.4 1502.5L294.9 1500.7L297.4 1499.2L299.8 1498.1L302.3 1497.2L304.8 1496.7L307.2 1496.4L309.7 1496.4L312.2 1496.7L314.6 1497.1L317.1 1497.9L319.6 1498.8L322 1499.9L324.5 1501.2L326.9 1502.7L329.4 1504.3L331.9 1506.1L334.3 1508L336.8 1510L339.3 1512.2L341.7 1514.4L344.2 1516.7L346.7 1519L349.1 1521.5L351.6 1523.9L354.1 1526.4L356.5 1528.9L359 1531.4L361.5 1533.8L363.9 1536.3L366.4 1538.7L368.8 1541L371.3 1543.3L373.8 1545.5L376.2 1547.6L378.7 1549.6L381.2 1551.4L383.6 1553.2L386.1 1554.7L388.6 1556.2L391 1557.4L393.5 1558.5L396 1559.4L398.4 1560.2L400.9 1560.9L403.3 1561.4L405.8 1561.9L408.3 1562.3L410.7 1562.6L413.2 1562.8L415.7 1563L418.1 1563.1L420.6 1563.2L423.1 1563.3L425.5 1563.4L428 1563.5L430.5 1563.6L432.9 1563.8L435.4 1564L437.9 1564.3L440.3 1564.6L442.8 1565.1L445.2 1565.6L447.7 1566.2L450.2 1567L452.6 1567.9L455.1 1568.9L457.6 1570.1L460 1571.5L462.5 1573.1L465 1574.8L467.4 1576.8L469.9 1579L472.4 1581.4L474.8 1584.1L477.3 1587.1L479.7 1590.3L482.2 1593.8L484.7 1597.6L487.1 1601.7L489.6 1606.1L492.1 1610.8L494.5 1615.8L497 1621.1L499.5 1626.7L501.9 1632.4L504.4 1638.4L506.9 1644.7L509.3 1651.1L511.8 1657.7L514.2 1664.4L516.7 1671.3L519.2 1678.3L521.6 1685.4L524.1 1692.6L526.6 1699.9L529 1707.3L531.5 1714.7L534 1722.1L536.4 1729.6L538.9 1737L541.4 1744.4L543.8 1751.8L546.3 1759.2L548.8 1766.4L551.2 1773.6L553.7 1780.7L556.1 1787.6L558.6 1794.5L561.1 1801.2L563.5 1807.7L566 1814L568.5 1820.1L570.9 1826L573.4 1831.7L575.9 1837.2L578.3 1842.3L580.8 1847.2L583.3 1851.8L585.7 1856.1L588.2 1860.1L590.6 1863.7L593.1 1867L595.6 1870.1L598 1872.8L600.5 1875.3L603 1877.5L605.4 1879.4L607.9 1881.1L610.4 1882.5L612.8 1883.7L615.3 1884.7L617.8 1885.4L620.2 1886L622.7 1886.4L625.2 1886.6L627.6 1886.6L630.1 1886.4L632.5 1886.1L635 1885.7L637.5 1885.1L639.9 1884.4L642.4 1883.6L644.9 1882.7L647.3 1881.6L649.8 1880.5L652.3 1879.3L654.7 1878.1L657.2 1876.8L659.7 1875.4L662.1 1874L664.6 1872.6L667 1871.2L669.5 1869.7L672 1868.3L674.4 1866.8L676.9 1865.4L679.4 1864.1L681.8 1862.7L684.3 1861.4L686.8 1860.2L689.2 1859L691.7 1857.9L694.2 1856.8L696.6 1855.8L699.1 1854.8L701.6 1853.9L704 1853.1L706.5 1852.3L708.9 1851.5L711.4 1850.8L713.9 1850.1L716.3 1849.5L718.8 1848.9L721.3 1848.3L723.7 1847.8L726.2 1847.3L728.7 1846.9L731.1 1846.4L733.6 1846L736.1 1845.7L738.5 1845.4L741 1845.1L743.4 1844.8L745.9 1844.5L748.4 1844.3L750.8 1844.1L753.3 1843.9L755.8 1843.7L758.2 1843.5L760.7 1843.4L763.2 1843.3L765.6 1843.1L768.1 1843L770.6 1842.9L773 1842.8L775.5 1842.7L778 1842.6L780.4 1842.5L782.9 1842.5L785.3 1842.4L787.8 1842.3L790.3 1842.2L792.7 1842.1L795.2 1842L797.7 1841.9L800.1 1841.8L802.6 1841.7L805.1 1841.6L807.5 1841.6L810 1841.5L812.5 1841.4L814.9 1841.3L817.4 1841.2L819.8 1841.1L822.3 1841L824.8 1840.9L827.2 1840.8L829.7 1840.7L832.2 1840.6L834.6 1840.6L837.1 1840.5L839.6 1840.4L842 1840.3L844.5 1840.2L847 1840.1L849.4 1840L851.9 1839.9L854.4 1839.9L856.8 1839.8L859.3 1839.7L861.7 1839.6L864.2 1839.5L866.7 1839.5L869.1 1839.4L871.6 1839.3L874.1 1839.2L876.5 1839.2L879 1839.1L881.5 1839L883.9 1839L886.4 1838.9L888.9 1838.9L891.3 1838.8L893.8 1838.7L896.2 1838.7L898.7 1838.6L901.2 1838.6L903.6 1838.5L906.1 1838.5L908.6 1838.4L911 1838.4L913.5 1838.3L916 1838.3L918.4 1838.2L920.9 1838.2L923.4 1838.2L925.8 1838.1L928.3 1838.1L930.8 1838L933.2 1838L935.7 1838L938.1 1837.9L940.6 1837.9L943.1 1837.9L945.5 1837.9L948 1837.8L950.5 1837.8L952.9 1837.8L955.4 1837.7L957.9 1837.7L960.3 1837.7L962.8 1837.7L965.3 1837.6L967.7 1837.6L970.2 1837.6L972.6 1837.6L975.1 1837.6L977.6 1837.5L980 1837.5L982.5 1837.5L985 1837.5L987.4 1837.5L989.9 1837.5L992.4 1837.4L994.8 1837.4L997.3 1837.4L999.8 1837.4L1002.2 1837.4L1004.7 1837.4L1007.1 1837.3L1009.6 1837.3L1012.1 1837.3L1014.5 1837.3L1017 1837.3L1019.5 1837.3L1021.9 1837.3L1024.4 1837.2L1026.9 1837.2L1029.3 1837.2L1031.8 1837.2L1034.3 1837.2L1036.7 1837.2L1039.2 1837.1L1041.7 1837.1L1044.1 1837.1L1046.6 1837.1L1049 1837.1L1051.5 1837L1054 1837L1056.4 1837L1058.9 1837L1061.4 1837L1063.8 1836.9L1066.3 1836.9L1068.8 1836.9L1071.2 1836.9L1073.7 1836.8L1076.2 1836.8L1078.6 1836.8L1081.1 1836.7L1083.5 1836.7L1086 1836.7L1088.5 1836.6L1090.9 1836.6L1093.4 1836.6L1095.9 1836.5L1098.3 1836.5L1100.8 1836.5L1103.3 1836.4L1105.7 1836.4L1108.2 1836.3L1110.7 1836.3L1113.1 1836.3L1115.6 1836.2L1118.1 1836.2L1120.5 1836.1L1123 1836.1L1125.4 1836.1L1127.9 1836L1130.4 1836L1132.8 1835.9L1135.3 1835.9L1137.8 1835.8L1140.2 1835.8L1142.7 1835.8L1145.2 1835.7L1147.6 1835.7L1150.1 1835.6L1152.6 1835.6L1155 1835.6L1157.5 1835.5L1159.9 1835.5L1162.4 1835.5L1164.9 1835.4L1167.3 1835.4L1169.8 1835.3L1172.3 1835.3L1174.7 1835.3L1177.2 1835.2L1179.7 1835.2L1182.1 1835.2L1184.6 1835.2L1187.1 1835.1L1189.5 1835.1L1192 1835.1L1194.5 1835.1L1196.9 1835L1199.4 1835L1201.8 1835L1204.3 1835L1206.8 1834.9L1209.2 1834.9L1211.7 1834.9L1214.2 1834.9L1216.6 1834.9L1219.1 1834.8L1221.6 1834.8L1224 1834.8L1226.5 1834.8L1229 1834.8L1231.4 1834.8L1233.9 1834.7L1236.3 1834.7L1238.8 1834.7L1241.3 1834.7L1243.7 1834.7L1246.2 1834.7L1248.7 1834.7L1251.1 1834.6L1253.6 1834.6L1256.1 1834.6L1258.5 1834.6L1261 1834.6L1263.5 1834.6L1265.9 1834.6L1268.4 1834.5L1270.9 1834.5L1273.3 1834.5L1275.8 1834.5L1278.2 1834.5L1280.7 1834.5L1283.2 1834.4L1285.6 1834.4L1288.1 1834.4L1290.6 1834.4L1293 1834.4L1295.5 1834.4L1298 1834.3L1300.4 1834.3L1302.9 1834.3L1305.4 1834.3L1307.8 1834.3L1310.3 1834.3L1312.7 1834.2L1315.2 1834.2L1317.7 1834.2L1320.1 1834.2L1322.6 1834.2L1325.1 1834.1L1327.5 1834.1L1330 1834.1L1332.5 1834.1L1334.9 1834.1L1337.4 1834L1339.9 1834L1342.3 1834L1344.8 1834L1347.3 1834L1349.7 1833.9L1352.2 1833.9L1354.6 1833.9L1357.1 1833.9L1359.6 1833.9L1362 1833.8L1364.5 1833.8L1367 1833.8L1369.4 1833.8L1371.9 1833.8L1374.4 1833.7" fill="none" stroke="#0000ff" stroke-width="4.0" stroke-dasharray="14.5 18.5"/>
<path d="M191.4 1772.2L204.5 1795.7L178.3 1795.7Z" fill="#fff" stroke="#0000ff" stroke-width="2" stroke-linejoin="miter"/>
<path d="M290 1488.9L303.1 1512.5L276.9 1512.5Z" fill="#fff" stroke="#0000ff" stroke-width="2" stroke-linejoin="miter"/>
<path d="M388.6 1540.5L401.7 1564L375.5 1564Z" fill="#fff" stroke="#0000ff" stroke-width="2" stroke-linejoin="miter"/>
<path d="M487.1 1586L500.2 1609.5L474 1609.5Z" fill="#fff" stroke="#0000ff" stroke-width="2" stroke-linejoin="miter"/>
<path d="M585.7 1840.4L598.8 1864L572.6 1864Z" fill="#fff" stroke="#0000ff" stroke-width="2" stroke-linejoin="miter"/>
<path d="M684.3 1845.8L697.4 1869.3L671.2 1869.3Z" fill="#fff" stroke="#0000ff" stroke-width="2" stroke-linejoin="miter"/>
<path d="M782.9 1826.8L796 1850.3L769.8 1850.3Z" fill="#fff" stroke="#0000ff" stroke-width="2" stroke-linejoin="miter"/>
<path d="M881.5 1823.4L894.6 1846.9L868.4 1846.9Z" fill="#fff" stroke="#0000ff" stroke-width="2" stroke-linejoin="miter"/>
<path d="M980 1821.9L993.1 1845.4L966.9 1845.4Z" fill="#fff" stroke="#0000ff" stroke-width="2" stroke-linejoin="miter"/>
<path d="M1078.6 1821.1L1091.7 1844.6L1065.5 1844.6Z" fill="#fff" stroke="#0000ff" stroke-width="2" stroke-linejoin="miter"/>
<path d="M1177.2 1819.6L1190.3 1843.1L1164.1 1843.1Z" fill="#fff" stroke="#0000ff" stroke-width="2" stroke-linejoin="miter"/>
<path d="M1275.8 1818.8L1288.9 1842.4L1262.7 1842.4Z" fill="#fff" stroke="#0000ff" stroke-width="2" stroke-linejoin="miter"/>
<path d="M1374.4 1818.1L1387.5 1841.6L1361.3 1841.6Z" fill="#fff" stroke="#0000ff" stroke-width="2" stroke-linejoin="miter"/>
<path d="M191.4 1849.3L193.9 1848.1L196.3 1847L198.8 1845.8L201.3 1844.6L203.7 1843.5L206.2 1842.3L208.7 1841L211.1 1839.8L213.6 1838.5L216 1837.2L218.5 1835.9L221 1834.5L223.4 1833.1L225.9 1831.6L228.4 1830.1L230.8 1828.5L233.3 1826.9L235.8 1825.2L238.2 1823.5L240.7 1821.7L243.2 1819.8L245.6 1817.8L248.1 1815.8L250.5 1813.7L253 1811.5L255.5 1809.2L257.9 1806.8L260.4 1804.4L262.9 1801.8L265.3 1799.2L267.8 1796.4L270.3 1793.5L272.7 1790.5L275.2 1787.4L277.7 1784.2L280.1 1780.9L282.6 1777.4L285.1 1773.8L287.5 1770.1L290 1766.2L292.4 1762.2L294.9 1758.1L297.4 1753.9L299.8 1749.6L302.3 1745.1L304.8 1740.6L307.2 1736.1L309.7 1731.5L312.2 1726.9L314.6 1722.3L317.1 1717.6L319.6 1713L322 1708.4L324.5 1703.8L326.9 1699.3L329.4 1694.9L331.9 1690.5L334.3 1686.2L336.8 1682.1L339.3 1678L341.7 1674.1L344.2 1670.4L346.7 1666.8L349.1 1663.3L351.6 1660.1L354.1 1657L356.5 1654.2L359 1651.6L361.5 1649.3L363.9 1647.2L366.4 1645.4L368.8 1643.8L371.3 1642.6L373.8 1641.7L376.2 1641.1L378.7 1640.8L381.2 1640.9L383.6 1641.3L386.1 1642.2L388.6 1643.4L391 1645L393.5 1647L396 1649.4L398.4 1652.2L400.9 1655.3L403.3 1658.7L405.8 1662.4L408.3 1666.5L410.7 1670.8L413.2 1675.4L415.7 1680.2L418.1 1685.3L420.6 1690.6L423.1 1696.2L425.5 1701.9L428 1707.8L430.5 1713.8L432.9 1720L435.4 1726.3L437.9 1732.8L440.3 1739.3L442.8 1745.9L445.2 1752.6L447.7 1759.4L450.2 1766.2L452.6 1773L455.1 1779.8L457.6 1786.6L460 1793.4L462.5 1800.1L465 1806.8L467.4 1813.5L469.9 1820L472.4 1826.4L474.8 1832.8L477.3 1839L479.7 1845L482.2 1850.9L484.7 1856.6L487.1 1862.2L489.6 1867.5L492.1 1872.6L494.5 1877.5L497 1882.2L499.5 1886.8L501.9 1891.1L504.4 1895.2L506.9 1899.1L509.3 1902.9L511.8 1906.4L514.2 1909.7L516.7 1912.9L519.2 1915.9L521.6 1918.7L524.1 1921.3L526.6 1923.7L529 1926L531.5 1928.1L534 1930L536.4 1931.7L538.9 1933.2L541.4 1934.6L543.8 1935.8L546.3 1936.9L548.8 1937.8L551.2 1938.5L553.7 1939L556.1 1939.4L558.6 1939.7L561.1 1939.7L563.5 1939.7L566 1939.4L568.5 1939.1L570.9 1938.5L573.4 1937.9L575.9 1937L578.3 1936.1L580.8 1935L583.3 1933.7L585.7 1932.3L588.2 1930.8L590.6 1929.1L593.1 1927.4L595.6 1925.5L598 1923.5L600.5 1921.4L603 1919.3L605.4 1917L607.9 1914.7L610.4 1912.4L612.8 1910L615.3 1907.5L617.8 1905.1L620.2 1902.6L622.7 1900.1L625.2 1897.6L627.6 1895.1L630.1 1892.6L632.5 1890.2L635 1887.7L637.5 1885.4L639.9 1883.1L642.4 1880.8L644.9 1878.6L647.3 1876.5L649.8 1874.5L652.3 1872.6L654.7 1870.8L657.2 1869.2L659.7 1867.6L662.1 1866.2L664.6 1864.9L667 1863.8L669.5 1862.8L672 1862L674.4 1861.4L676.9 1861L679.4 1860.8L681.8 1860.8L684.3 1861L686.8 1861.5L689.2 1862.1L691.7 1863L694.2 1864.1L696.6 1865.3L699.1 1866.8L701.6 1868.4L704 1870.1L706.5 1872.1L708.9 1874.1L711.4 1876.3L713.9 1878.7L716.3 1881.1L718.8 1883.7L721.3 1886.3L723.7 1889L726.2 1891.9L728.7 1894.8L731.1 1897.7L733.6 1900.7L736.1 1903.8L738.5 1906.9L741 1910L743.4 1913.1L745.9 1916.2L748.4 1919.4L750.8 1922.5L753.3 1925.6L755.8 1928.6L758.2 1931.7L760.7 1934.6L763.2 1937.6L765.6 1940.4L768.1 1943.2L770.6 1945.9L773 1948.5L775.5 1951L778 1953.3L780.4 1955.6L782.9 1957.7L785.3 1959.7L787.8 1961.6L790.3 1963.3L792.7 1964.9L795.2 1966.3L797.7 1967.7L800.1 1968.9L802.6 1970L805.1 1971L807.5 1971.8L810 1972.6L812.5 1973.2L814.9 1973.8L817.4 1974.2L819.8 1974.6L822.3 1974.9L824.8 1975L827.2 1975.1L829.7 1975.1L832.2 1975L834.6 1974.9L837.1 1974.7L839.6 1974.4L842 1974L844.5 1973.6L847 1973.1L849.4 1972.5L851.9 1971.9L854.4 1971.3L856.8 1970.5L859.3 1969.8L861.7 1969L864.2 1968.2L866.7 1967.3L869.1 1966.4L871.6 1965.5L874.1 1964.5L876.5 1963.5L879 1962.5L881.5 1961.5L883.9 1960.5L886.4 1959.5L888.9 1958.4L891.3 1957.4L893.8 1956.4L896.2 1955.4L898.7 1954.4L901.2 1953.4L903.6 1952.5L906.1 1951.6L908.6 1950.8L911 1950L913.5 1949.3L916 1948.7L918.4 1948.1L920.9 1947.6L923.4 1947.2L925.8 1946.9L928.3 1946.7L930.8 1946.6L933.2 1946.5L935.7 1946.7L938.1 1946.9L940.6 1947.3L943.1 1947.7L945.5 1948.4L948 1949.2L950.5 1950.1L952.9 1951.2L955.4 1952.5L957.9 1953.9L960.3 1955.5L962.8 1957.3L965.3 1959.3L967.7 1961.5L970.2 1963.9L972.6 1966.5L975.1 1969.3L977.6 1972.3L980 1975.6L982.5 1979L985 1982.7L987.4 1986.6L989.9 1990.7L992.4 1995L994.8 1999.4L997.3 2003.9L999.8 2008.6L1002.2 2013.3L1004.7 2018.2L1007.1 2023L1009.6 2028L1012.1 2033L1014.5 2038L1017 2042.9L1019.5 2047.9L1021.9 2052.8L1024.4 2057.7L1026.9 2062.5L1029.3 2067.2L1031.8 2071.8L1034.3 2076.3L1036.7 2080.7L1039.2 2084.9L1041.7 2088.9L1044.1 2092.8L1046.6 2096.4L1049 2099.8L1051.5 2103L1054 2105.9L1056.4 2108.6L1058.9 2110.9L1061.4 2113L1063.8 2114.7L1066.3 2116.1L1068.8 2117.1L1071.2 2117.8L1073.7 2118.1L1076.2 2117.9L1078.6 2117.4L1081.1 2116.4L1083.5 2115L1086 2113.1L1088.5 2110.9L1090.9 2108.3L1093.4 2105.4L1095.9 2102.1L1098.3 2098.6L1100.8 2094.7L1103.3 2090.6L1105.7 2086.2L1108.2 2081.5L1110.7 2076.6L1113.1 2071.6L1115.6 2066.3L1118.1 2060.9L1120.5 2055.3L1123 2049.6L1125.4 2043.8L1127.9 2037.9L1130.4 2032L1132.8 2025.9L1135.3 2019.9L1137.8 2013.8L1140.2 2007.7L1142.7 2001.6L1145.2 1995.6L1147.6 1989.6L1150.1 1983.6L1152.6 1977.8L1155 1972.1L1157.5 1966.5L1159.9 1961.1L1162.4 1955.8L1164.9 1950.7L1167.3 1945.8L1169.8 1941.1L1172.3 1936.6L1174.7 1932.5L1177.2 1928.5L1179.7 1924.9L1182.1 1921.5L1184.6 1918.5L1187.1 1915.7L1189.5 1913.1L1192 1910.8L1194.5 1908.7L1196.9 1906.9L1199.4 1905.2L1201.8 1903.8L1204.3 1902.6L1206.8 1901.6L1209.2 1900.7L1211.7 1900.1L1214.2 1899.6L1216.6 1899.2L1219.1 1899L1221.6 1899L1224 1899L1226.5 1899.2L1229 1899.5L1231.4 1899.9L1233.9 1900.4L1236.3 1901L1238.8 1901.6L1241.3 1902.3L1243.7 1903.1L1246.2 1903.9L1248.7 1904.8L1251.1 1905.7L1253.6 1906.6L1256.1 1907.5L1258.5 1908.4L1261 1909.3L1263.5 1910.2L1265.9 1911.1L1268.4 1911.9L1270.9 1912.7L1273.3 1913.4L1275.8 1914.1L1278.2 1914.7L1280.7 1915.3L1283.2 1915.7L1285.6 1916.2L1288.1 1916.5L1290.6 1916.8L1293 1917L1295.5 1917.2L1298 1917.3L1300.4 1917.3L1302.9 1917.3L1305.4 1917.3L1307.8 1917.2L1310.3 1917.1L1312.7 1916.9L1315.2 1916.6L1317.7 1916.3L1320.1 1916L1322.6 1915.7L1325.1 1915.3L1327.5 1914.9L1330 1914.4L1332.5 1913.9L1334.9 1913.4L1337.4 1912.8L1339.9 1912.2L1342.3 1911.6L1344.8 1911L1347.3 1910.4L1349.7 1909.7L1352.2 1909L1354.6 1908.3L1357.1 1907.6L1359.6 1906.9L1362 1906.1L1364.5 1905.4L1367 1904.6L1369.4 1903.9L1371.9 1903.1L1374.4 1902.4" fill="none" stroke="#000000" stroke-width="4.0" stroke-dasharray="0.95 5.95"/>
<path d="M173.7 1849.3L200.3 1834.5L200.3 1864.1Z" fill="#000000"/>
<path d="M272.2 1766.2L298.8 1751.4L298.8 1781Z" fill="#000000"/>
<path d="M370.8 1643.4L397.4 1628.6L397.4 1658.2Z" fill="#000000"/>
<path d="M469.4 1862.2L496 1847.4L496 1877Z" fill="#000000"/>
<path d="M568 1932.3L594.6 1917.5L594.6 1947.1Z" fill="#000000"/>
<path d="M666.6 1861L693.2 1846.2L693.2 1875.8Z" fill="#000000"/>
<path d="M765.1 1957.7L791.7 1942.9L791.7 1972.5Z" fill="#000000"/>
<path d="M863.7 1961.5L890.3 1946.7L890.3 1976.3Z" fill="#000000"/>
<path d="M962.3 1975.6L988.9 1960.8L988.9 1990.4Z" fill="#000000"/>
<path d="M1060.9 2117.4L1087.5 2102.6L1087.5 2132.2Z" fill="#000000"/>
<path d="M1159.5 1928.5L1186.1 1913.7L1186.1 1943.3Z" fill="#000000"/>
<path d="M1258 1914.1L1284.6 1899.3L1284.6 1928.9Z" fill="#000000"/>
<path d="M1356.6 1902.4L1383.2 1887.6L1383.2 1917.2Z" fill="#000000"/>
<path d="M191.4 1871.7L193.9 1869.5L196.3 1867.3L198.8 1865.1L201.3 1863L203.7 1860.8L206.2 1858.6L208.7 1856.4L211.1 1854.2L213.6 1852L216 1849.8L218.5 1847.6L221 1845.4L223.4 1843.2L225.9 1841L228.4 1838.7L230.8 1836.5L233.3 1834.2L235.8 1831.9L238.2 1829.6L240.7 1827.3L243.2 1825L245.6 1822.7L248.1 1820.3L250.5 1817.9L253 1815.6L255.5 1813.2L257.9 1810.7L260.4 1808.3L262.9 1805.8L265.3 1803.4L267.8 1800.8L270.3 1798.3L272.7 1795.8L275.2 1793.2L277.7 1790.6L280.1 1788L282.6 1785.3L285.1 1782.7L287.5 1780L290 1777.2L292.4 1774.5L294.9 1771.7L297.4 1768.9L299.8 1766.1L302.3 1763.2L304.8 1760.4L307.2 1757.6L309.7 1754.7L312.2 1751.9L314.6 1749.1L317.1 1746.3L319.6 1743.5L322 1740.7L324.5 1737.9L326.9 1735.2L329.4 1732.5L331.9 1729.9L334.3 1727.3L336.8 1724.8L339.3 1722.3L341.7 1719.8L344.2 1717.4L346.7 1715.1L349.1 1712.9L351.6 1710.7L354.1 1708.6L356.5 1706.6L359 1704.6L361.5 1702.8L363.9 1701L366.4 1699.4L368.8 1697.8L371.3 1696.4L373.8 1695.1L376.2 1693.8L378.7 1692.7L381.2 1691.8L383.6 1690.9L386.1 1690.2L388.6 1689.6L391 1689.2L393.5 1688.9L396 1688.7L398.4 1688.7L400.9 1688.8L403.3 1689.1L405.8 1689.5L408.3 1690L410.7 1690.7L413.2 1691.5L415.7 1692.5L418.1 1693.5L420.6 1694.7L423.1 1696.1L425.5 1697.6L428 1699.2L430.5 1700.9L432.9 1702.8L435.4 1704.8L437.9 1707L440.3 1709.3L442.8 1711.7L445.2 1714.2L447.7 1716.9L450.2 1719.7L452.6 1722.6L455.1 1725.7L457.6 1728.8L460 1732.1L462.5 1735.6L465 1739.1L467.4 1742.8L469.9 1746.7L472.4 1750.6L474.8 1754.7L477.3 1758.9L479.7 1763.2L482.2 1767.6L484.7 1772.2L487.1 1776.9L489.6 1781.7L492.1 1786.6L494.5 1791.6L497 1796.7L499.5 1801.9L501.9 1807.1L504.4 1812.4L506.9 1817.7L509.3 1823.1L511.8 1828.5L514.2 1833.9L516.7 1839.3L519.2 1844.7L521.6 1850L524.1 1855.3L526.6 1860.6L529 1865.8L531.5 1870.9L534 1876L536.4 1880.9L538.9 1885.7L541.4 1890.5L543.8 1895.1L546.3 1899.5L548.8 1903.8L551.2 1907.9L553.7 1911.9L556.1 1915.7L558.6 1919.2L561.1 1922.6L563.5 1925.8L566 1928.7L568.5 1931.3L570.9 1933.7L573.4 1935.9L575.9 1937.7L578.3 1939.3L580.8 1940.6L583.3 1941.5L585.7 1942.2L588.2 1942.5L590.6 1942.5L593.1 1942.1L595.6 1941.5L598 1940.6L600.5 1939.5L603 1938.1L605.4 1936.4L607.9 1934.6L610.4 1932.5L612.8 1930.3L615.3 1927.8L617.8 1925.2L620.2 1922.5L622.7 1919.6L625.2 1916.7L627.6 1913.6L630.1 1910.4L632.5 1907.2L635 1903.9L637.5 1900.5L639.9 1897.1L642.4 1893.8L644.9 1890.4L647.3 1887L649.8 1883.7L652.3 1880.4L654.7 1877.1L657.2 1873.9L659.7 1870.9L662.1 1867.9L664.6 1865L667 1862.3L669.5 1859.7L672 1857.3L674.4 1855.1L676.9 1853L679.4 1851.2L681.8 1849.5L684.3 1848.1L686.8 1847L689.2 1846.1L691.7 1845.4L694.2 1845L696.6 1844.7L699.1 1844.7L701.6 1844.9L704 1845.2L706.5 1845.8L708.9 1846.5L711.4 1847.4L713.9 1848.4L716.3 1849.6L718.8 1850.9L721.3 1852.4L723.7 1854L726.2 1855.7L728.7 1857.5L731.1 1859.4L733.6 1861.4L736.1 1863.5L738.5 1865.6L741 1867.8L743.4 1870.1L745.9 1872.5L748.4 1874.8L750.8 1877.2L753.3 1879.7L755.8 1882.1L758.2 1884.6L760.7 1887L763.2 1889.5L765.6 1891.9L768.1 1894.3L770.6 1896.6L773 1899L775.5 1901.2L778 1903.5L780.4 1905.6L782.9 1907.7L785.3 1909.7L787.8 1911.6L790.3 1913.4L792.7 1915.1L795.2 1916.8L797.7 1918.4L800.1 1919.9L802.6 1921.3L805.1 1922.7L807.5 1924L810 1925.2L812.5 1926.3L814.9 1927.4L817.4 1928.4L819.8 1929.3L822.3 1930.2L824.8 1931L827.2 1931.7L829.7 1932.4L832.2 1933L834.6 1933.5L837.1 1934L839.6 1934.4L842 1934.7L844.5 1935L847 1935.3L849.4 1935.5L851.9 1935.6L854.4 1935.6L856.8 1935.7L859.3 1935.6L861.7 1935.5L864.2 1935.4L866.7 1935.2L869.1 1935L871.6 1934.7L874.1 1934.3L876.5 1934L879 1933.5L881.5 1933.1L883.9 1932.6L886.4 1932L888.9 1931.5L891.3 1930.9L893.8 1930.3L896.2 1929.7L898.7 1929.1L901.2 1928.5L903.6 1927.9L906.1 1927.4L908.6 1926.9L911 1926.4L913.5 1926L916 1925.6L918.4 1925.3L920.9 1925.1L923.4 1924.9L925.8 1924.9L928.3 1924.9L930.8 1925L933.2 1925.3L935.7 1925.6L938.1 1926.1L940.6 1926.7L943.1 1927.5L945.5 1928.4L948 1929.4L950.5 1930.7L952.9 1932.1L955.4 1933.6L957.9 1935.4L960.3 1937.3L962.8 1939.5L965.3 1941.8L967.7 1944.4L970.2 1947.2L972.6 1950.2L975.1 1953.5L977.6 1957L980 1960.8L982.5 1964.8L985 1969L987.4 1973.5L989.9 1978.2L992.4 1983.1L994.8 1988.2L997.3 1993.4L999.8 1998.7L1002.2 2004.2L1004.7 2009.7L1007.1 2015.3L1009.6 2021L1012.1 2026.7L1014.5 2032.5L1017 2038.2L1019.5 2044L1021.9 2049.7L1024.4 2055.3L1026.9 2060.9L1029.3 2066.4L1031.8 2071.8L1034.3 2077.1L1036.7 2082.2L1039.2 2087.2L1041.7 2092L1044.1 2096.6L1046.6 2100.9L1049 2105.1L1051.5 2109L1054 2112.6L1056.4 2115.9L1058.9 2119L1061.4 2121.7L1063.8 2124L1066.3 2126L1068.8 2127.6L1071.2 2128.8L1073.7 2129.6L1076.2 2130L1078.6 2129.9L1081.1 2129.3L1083.5 2128.3L1086 2126.9L1088.5 2125L1090.9 2122.8L1093.4 2120.1L1095.9 2117.1L1098.3 2113.8L1100.8 2110.2L1103.3 2106.2L1105.7 2102L1108.2 2097.5L1110.7 2092.8L1113.1 2087.9L1115.6 2082.7L1118.1 2077.4L1120.5 2071.9L1123 2066.3L1125.4 2060.5L1127.9 2054.7L1130.4 2048.7L1132.8 2042.7L1135.3 2036.7L1137.8 2030.6L1140.2 2024.5L1142.7 2018.4L1145.2 2012.3L1147.6 2006.3L1150.1 2000.4L1152.6 1994.6L1155 1988.8L1157.5 1983.2L1159.9 1977.7L1162.4 1972.4L1164.9 1967.3L1167.3 1962.4L1169.8 1957.7L1172.3 1953.3L1174.7 1949.1L1177.2 1945.2L1179.7 1941.6L1182.1 1938.3L1184.6 1935.3L1187.1 1932.5L1189.5 1930L1192 1927.8L1194.5 1925.8L1196.9 1924L1199.4 1922.5L1201.8 1921.2L1204.3 1920.1L1206.8 1919.2L1209.2 1918.5L1211.7 1917.9L1214.2 1917.6L1216.6 1917.4L1219.1 1917.3L1221.6 1917.4L1224 1917.7L1226.5 1918L1229 1918.5L1231.4 1919L1233.9 1919.7L1236.3 1920.5L1238.8 1921.3L1241.3 1922.2L1243.7 1923.2L1246.2 1924.2L1248.7 1925.2L1251.1 1926.3L1253.6 1927.4L1256.1 1928.6L1258.5 1929.7L1261 1930.8L1263.5 1931.9L1265.9 1933L1268.4 1934L1270.9 1935L1273.3 1936L1275.8 1936.9L1278.2 1937.7L1280.7 1938.4L1283.2 1939.1L1285.6 1939.8L1288.1 1940.3L1290.6 1940.8L1293 1941.2L1295.5 1941.6L1298 1941.9L1300.4 1942.2L1302.9 1942.4L1305.4 1942.6L1307.8 1942.7L1310.3 1942.8L1312.7 1942.8L1315.2 1942.7L1317.7 1942.7L1320.1 1942.6L1322.6 1942.4L1325.1 1942.2L1327.5 1942L1330 1941.8L1332.5 1941.5L1334.9 1941.2L1337.4 1940.8L1339.9 1940.4L1342.3 1940L1344.8 1939.6L1347.3 1939.2L1349.7 1938.7L1352.2 1938.3L1354.6 1937.8L1357.1 1937.3L1359.6 1936.7L1362 1936.2L1364.5 1935.7L1367 1935.1L1369.4 1934.6L1371.9 1934L1374.4 1933.5" fill="none" stroke="#ff0000" stroke-width="4.0" stroke-dasharray="0.95 5.95"/>
<path d="M191.4 1856.7L206.4 1871.7L191.4 1886.7L176.4 1871.7Z" fill="#fff" stroke="#ff0000" stroke-width="2"/><path d="M175.4 1871.7L207.4 1871.7L191.4 1887.7Z" fill="#ff0000"/>
<path d="M290 1762.2L305 1777.2L290 1792.2L275 1777.2Z" fill="#fff" stroke="#ff0000" stroke-width="2"/><path d="M274 1777.2L306 1777.2L290 1793.2Z" fill="#ff0000"/>
<path d="M388.6 1674.6L403.6 1689.6L388.6 1704.6L373.6 1689.6Z" fill="#fff" stroke="#ff0000" stroke-width="2"/><path d="M372.6 1689.6L404.6 1689.6L388.6 1705.6Z" fill="#ff0000"/>
<path d="M487.1 1761.9L502.1 1776.9L487.1 1791.9L472.1 1776.9Z" fill="#fff" stroke="#ff0000" stroke-width="2"/><path d="M471.1 1776.9L503.1 1776.9L487.1 1792.9Z" fill="#ff0000"/>
<path d="M585.7 1927.2L600.7 1942.2L585.7 1957.2L570.7 1942.2Z" fill="#fff" stroke="#ff0000" stroke-width="2"/><path d="M569.7 1942.2L601.7 1942.2L585.7 1958.2Z" fill="#ff0000"/>
<path d="M684.3 1833.1L699.3 1848.1L684.3 1863.1L669.3 1848.1Z" fill="#fff" stroke="#ff0000" stroke-width="2"/><path d="M668.3 1848.1L700.3 1848.1L684.3 1864.1Z" fill="#ff0000"/>
<path d="M782.9 1892.7L797.9 1907.7L782.9 1922.7L767.9 1907.7Z" fill="#fff" stroke="#ff0000" stroke-width="2"/><path d="M766.9 1907.7L798.9 1907.7L782.9 1923.7Z" fill="#ff0000"/>
<path d="M881.5 1918.1L896.5 1933.1L881.5 1948.1L866.5 1933.1Z" fill="#fff" stroke="#ff0000" stroke-width="2"/><path d="M865.5 1933.1L897.5 1933.1L881.5 1949.1Z" fill="#ff0000"/>
<path d="M980 1945.8L995 1960.8L980 1975.8L965 1960.8Z" fill="#fff" stroke="#ff0000" stroke-width="2"/><path d="M964 1960.8L996 1960.8L980 1976.8Z" fill="#ff0000"/>
<path d="M1078.6 2114.9L1093.6 2129.9L1078.6 2144.9L1063.6 2129.9Z" fill="#fff" stroke="#ff0000" stroke-width="2"/><path d="M1062.6 2129.9L1094.6 2129.9L1078.6 2145.9Z" fill="#ff0000"/>
<path d="M1177.2 1930.2L1192.2 1945.2L1177.2 1960.2L1162.2 1945.2Z" fill="#fff" stroke="#ff0000" stroke-width="2"/><path d="M1161.2 1945.2L1193.2 1945.2L1177.2 1961.2Z" fill="#ff0000"/>
<path d="M1275.8 1921.9L1290.8 1936.9L1275.8 1951.9L1260.8 1936.9Z" fill="#fff" stroke="#ff0000" stroke-width="2"/><path d="M1259.8 1936.9L1291.8 1936.9L1275.8 1952.9Z" fill="#ff0000"/>
<path d="M1374.4 1918.5L1389.4 1933.5L1374.4 1948.5L1359.4 1933.5Z" fill="#fff" stroke="#ff0000" stroke-width="2"/><path d="M1358.4 1933.5L1390.4 1933.5L1374.4 1949.5Z" fill="#ff0000"/>
<path d="M191.4 1825.4L193.9 1825.2L196.3 1825L198.8 1824.7L201.3 1824.5L203.7 1824.3L206.2 1824.1L208.7 1823.8L211.1 1823.6L213.6 1823.4L216 1823.1L218.5 1822.9L221 1822.6L223.4 1822.3L225.9 1822L228.4 1821.7L230.8 1821.4L233.3 1821.1L235.8 1820.8L238.2 1820.4L240.7 1820L243.2 1819.7L245.6 1819.3L248.1 1818.8L250.5 1818.4L253 1818L255.5 1817.5L257.9 1817L260.4 1816.5L262.9 1815.9L265.3 1815.4L267.8 1814.8L270.3 1814.2L272.7 1813.5L275.2 1812.9L277.7 1812.2L280.1 1811.5L282.6 1810.7L285.1 1810L287.5 1809.2L290 1808.3L292.4 1807.5L294.9 1806.6L297.4 1805.6L299.8 1804.7L302.3 1803.7L304.8 1802.6L307.2 1801.5L309.7 1800.4L312.2 1799.2L314.6 1798L317.1 1796.8L319.6 1795.5L322 1794.2L324.5 1792.8L326.9 1791.4L329.4 1789.9L331.9 1788.4L334.3 1786.8L336.8 1785.2L339.3 1783.5L341.7 1781.7L344.2 1779.9L346.7 1778.1L349.1 1776.2L351.6 1774.2L354.1 1772.2L356.5 1770.1L359 1768L361.5 1765.8L363.9 1763.5L366.4 1761.2L368.8 1758.8L371.3 1756.3L373.8 1753.8L376.2 1751.2L378.7 1748.5L381.2 1745.7L383.6 1742.9L386.1 1740L388.6 1737L391 1734L393.5 1730.9L396 1727.7L398.4 1724.5L400.9 1721.3L403.3 1718.1L405.8 1714.9L408.3 1711.7L410.7 1708.5L413.2 1705.4L415.7 1702.3L418.1 1699.3L420.6 1696.4L423.1 1693.6L425.5 1690.8L428 1688.3L430.5 1685.8L432.9 1683.5L435.4 1681.4L437.9 1679.4L440.3 1677.7L442.8 1676.1L445.2 1674.7L447.7 1673.6L450.2 1672.8L452.6 1672.1L455.1 1671.8L457.6 1671.7L460 1672L462.5 1672.5L465 1673.4L467.4 1674.6L469.9 1676.1L472.4 1678.1L474.8 1680.4L477.3 1683.1L479.7 1686.1L482.2 1689.7L484.7 1693.6L487.1 1698L489.6 1702.8L492.1 1708.1L494.5 1713.7L497 1719.8L499.5 1726.2L501.9 1732.9L504.4 1739.9L506.9 1747.2L509.3 1754.7L511.8 1762.5L514.2 1770.4L516.7 1778.6L519.2 1786.8L521.6 1795.2L524.1 1803.6L526.6 1812.1L529 1820.6L531.5 1829.2L534 1837.7L536.4 1846.2L538.9 1854.6L541.4 1862.9L543.8 1871.1L546.3 1879.1L548.8 1886.9L551.2 1894.6L553.7 1902L556.1 1909.1L558.6 1916L561.1 1922.5L563.5 1928.7L566 1934.6L568.5 1940L570.9 1945L573.4 1949.6L575.9 1953.7L578.3 1957.3L580.8 1960.4L583.3 1963L585.7 1964.9L588.2 1966.3L590.6 1967.1L593.1 1967.3L595.6 1967L598 1966.2L600.5 1964.9L603 1963.2L605.4 1961.1L607.9 1958.5L610.4 1955.5L612.8 1952.3L615.3 1948.6L617.8 1944.7L620.2 1940.5L622.7 1936L625.2 1931.4L627.6 1926.5L630.1 1921.4L632.5 1916.2L635 1910.8L637.5 1905.4L639.9 1899.9L642.4 1894.3L644.9 1888.7L647.3 1883.1L649.8 1877.5L652.3 1872L654.7 1866.5L657.2 1861.2L659.7 1855.9L662.1 1850.8L664.6 1845.9L667 1841.2L669.5 1836.7L672 1832.5L674.4 1828.5L676.9 1824.9L679.4 1821.5L681.8 1818.5L684.3 1815.9L686.8 1813.7L689.2 1811.9L691.7 1810.4L694.2 1809.3L696.6 1808.5L699.1 1808.1L701.6 1808L704 1808.2L706.5 1808.7L708.9 1809.5L711.4 1810.5L713.9 1811.8L716.3 1813.4L718.8 1815.2L721.3 1817.1L723.7 1819.3L726.2 1821.7L728.7 1824.2L731.1 1827L733.6 1829.8L736.1 1832.8L738.5 1835.9L741 1839.1L743.4 1842.4L745.9 1845.8L748.4 1849.3L750.8 1852.8L753.3 1856.4L755.8 1859.9L758.2 1863.5L760.7 1867.2L763.2 1870.7L765.6 1874.3L768.1 1877.8L770.6 1881.3L773 1884.7L775.5 1888L778 1891.3L780.4 1894.4L782.9 1897.4L785.3 1900.3L787.8 1903.1L790.3 1905.7L792.7 1908.2L795.2 1910.6L797.7 1912.9L800.1 1915L802.6 1917.1L805.1 1919L807.5 1920.8L810 1922.5L812.5 1924.1L814.9 1925.6L817.4 1927L819.8 1928.3L822.3 1929.5L824.8 1930.6L827.2 1931.6L829.7 1932.5L832.2 1933.4L834.6 1934.1L837.1 1934.8L839.6 1935.4L842 1935.9L844.5 1936.4L847 1936.8L849.4 1937.1L851.9 1937.3L854.4 1937.5L856.8 1937.6L859.3 1937.6L861.7 1937.6L864.2 1937.6L866.7 1937.4L869.1 1937.3L871.6 1937L874.1 1936.8L876.5 1936.5L879 1936.1L881.5 1935.7L883.9 1935.3L886.4 1934.9L888.9 1934.4L891.3 1933.9L893.8 1933.4L896.2 1932.9L898.7 1932.4L901.2 1931.9L903.6 1931.5L906.1 1931.1L908.6 1930.7L911 1930.4L913.5 1930.1L916 1929.9L918.4 1929.7L920.9 1929.6L923.4 1929.6L925.8 1929.7L928.3 1929.9L930.8 1930.2L933.2 1930.6L935.7 1931.1L938.1 1931.8L940.6 1932.6L943.1 1933.5L945.5 1934.6L948 1935.8L950.5 1937.2L952.9 1938.8L955.4 1940.5L957.9 1942.5L960.3 1944.6L962.8 1946.9L965.3 1949.4L967.7 1952.2L970.2 1955.2L972.6 1958.4L975.1 1961.8L977.6 1965.5L980 1969.5L982.5 1973.7L985 1978.1L987.4 1982.8L989.9 1987.7L992.4 1992.8L994.8 1998L997.3 2003.4L999.8 2008.9L1002.2 2014.5L1004.7 2020.3L1007.1 2026.1L1009.6 2031.9L1012.1 2037.8L1014.5 2043.8L1017 2049.7L1019.5 2055.6L1021.9 2061.5L1024.4 2067.4L1026.9 2073.1L1029.3 2078.8L1031.8 2084.4L1034.3 2089.9L1036.7 2095.2L1039.2 2100.3L1041.7 2105.3L1044.1 2110.1L1046.6 2114.7L1049 2119L1051.5 2123.1L1054 2126.9L1056.4 2130.4L1058.9 2133.6L1061.4 2136.5L1063.8 2139.1L1066.3 2141.3L1068.8 2143.1L1071.2 2144.5L1073.7 2145.5L1076.2 2146.1L1078.6 2146.2L1081.1 2145.8L1083.5 2145L1086 2143.8L1088.5 2142.2L1090.9 2140.1L1093.4 2137.7L1095.9 2134.9L1098.3 2131.8L1100.8 2128.4L1103.3 2124.7L1105.7 2120.7L1108.2 2116.4L1110.7 2111.9L1113.1 2107.2L1115.6 2102.3L1118.1 2097.1L1120.5 2091.9L1123 2086.5L1125.4 2080.9L1127.9 2075.3L1130.4 2069.5L1132.8 2063.7L1135.3 2057.9L1137.8 2052L1140.2 2046.1L1142.7 2040.2L1145.2 2034.4L1147.6 2028.5L1150.1 2022.8L1152.6 2017.1L1155 2011.6L1157.5 2006.2L1159.9 2000.9L1162.4 1995.7L1164.9 1990.8L1167.3 1986.1L1169.8 1981.5L1172.3 1977.3L1174.7 1973.2L1177.2 1969.5L1179.7 1966L1182.1 1962.9L1184.6 1960L1187.1 1957.3L1189.5 1955L1192 1952.9L1194.5 1951L1196.9 1949.4L1199.4 1947.9L1201.8 1946.7L1204.3 1945.8L1206.8 1944.9L1209.2 1944.3L1211.7 1943.9L1214.2 1943.6L1216.6 1943.5L1219.1 1943.6L1221.6 1943.7L1224 1944L1226.5 1944.5L1229 1945L1231.4 1945.7L1233.9 1946.4L1236.3 1947.2L1238.8 1948.1L1241.3 1949.1L1243.7 1950.1L1246.2 1951.2L1248.7 1952.3L1251.1 1953.5L1253.6 1954.6L1256.1 1955.8L1258.5 1957L1261 1958.2L1263.5 1959.3L1265.9 1960.5L1268.4 1961.6L1270.9 1962.6L1273.3 1963.6L1275.8 1964.6L1278.2 1965.4L1280.7 1966.2L1283.2 1967L1285.6 1967.6L1288.1 1968.2L1290.6 1968.8L1293 1969.3L1295.5 1969.7L1298 1970.1L1300.4 1970.4L1302.9 1970.6L1305.4 1970.9L1307.8 1971L1310.3 1971.1L1312.7 1971.2L1315.2 1971.2L1317.7 1971.2L1320.1 1971.1L1322.6 1971L1325.1 1970.9L1327.5 1970.7L1330 1970.5L1332.5 1970.3L1334.9 1970L1337.4 1969.7L1339.9 1969.4L1342.3 1969L1344.8 1968.7L1347.3 1968.3L1349.7 1967.9L1352.2 1967.4L1354.6 1967L1357.1 1966.5L1359.6 1966L1362 1965.6L1364.5 1965.1L1367 1964.6L1369.4 1964.1L1371.9 1963.6L1374.4 1963" fill="none" stroke="#0000ff" stroke-width="4.0" stroke-dasharray="0.95 5.95"/>
<path d="M191.4 1811.3L194.9 1821.8L206 1821.9L197 1828.4L200.4 1839L191.4 1832.5L182.4 1839L185.8 1828.4L176.8 1821.9L187.9 1821.8Z" fill="#0000ff"/>
<path d="M290 1794.2L293.4 1804.8L304.5 1804.8L295.6 1811.3L299 1821.9L290 1815.4L281 1821.9L284.4 1811.3L275.4 1804.8L286.5 1804.8Z" fill="#0000ff"/>
<path d="M388.6 1722.9L392 1733.5L403.1 1733.5L394.2 1740.1L397.6 1750.6L388.6 1744.1L379.6 1750.6L382.9 1740.1L374 1733.5L385.1 1733.5Z" fill="#0000ff"/>
<path d="M487.1 1683.9L490.6 1694.4L501.7 1694.5L492.8 1701L496.1 1711.6L487.1 1705.1L478.1 1711.6L481.5 1701L472.6 1694.5L483.7 1694.4Z" fill="#0000ff"/>
<path d="M585.7 1950.8L589.2 1961.4L600.3 1961.4L591.3 1968L594.7 1978.5L585.7 1972L576.7 1978.5L580.1 1968L571.2 1961.4L582.3 1961.4Z" fill="#0000ff"/>
<path d="M684.3 1801.8L687.8 1812.3L698.9 1812.4L689.9 1818.9L693.3 1829.5L684.3 1823L675.3 1829.5L678.7 1818.9L669.7 1812.4L680.8 1812.3Z" fill="#0000ff"/>
<path d="M782.9 1883.3L786.3 1893.9L797.4 1893.9L788.5 1900.5L791.9 1911L782.9 1904.5L773.9 1911L777.3 1900.5L768.3 1893.9L779.4 1893.9Z" fill="#0000ff"/>
<path d="M881.5 1921.6L884.9 1932.2L896 1932.2L887.1 1938.8L890.5 1949.3L881.5 1942.8L872.5 1949.3L875.8 1938.8L866.9 1932.2L878 1932.2Z" fill="#0000ff"/>
<path d="M980 1955.4L983.5 1965.9L994.6 1966L985.7 1972.5L989 1983.1L980 1976.6L971 1983.1L974.4 1972.5L965.5 1966L976.6 1965.9Z" fill="#0000ff"/>
<path d="M1078.6 2132.1L1082.1 2142.6L1093.2 2142.7L1084.2 2149.2L1087.6 2159.8L1078.6 2153.3L1069.6 2159.8L1073 2149.2L1064.1 2142.7L1075.2 2142.6Z" fill="#0000ff"/>
<path d="M1177.2 1955.4L1180.7 1965.9L1191.8 1966L1182.8 1972.5L1186.2 1983.1L1177.2 1976.6L1168.2 1983.1L1171.6 1972.5L1162.6 1966L1173.7 1965.9Z" fill="#0000ff"/>
<path d="M1275.8 1950.5L1279.2 1961L1290.3 1961L1281.4 1967.6L1284.8 1978.1L1275.8 1971.7L1266.8 1978.1L1270.2 1967.6L1261.2 1961L1272.3 1961Z" fill="#0000ff"/>
<path d="M1374.4 1948.9L1377.8 1959.5L1388.9 1959.5L1380 1966.1L1383.4 1976.6L1374.4 1970.1L1365.4 1976.6L1368.7 1966.1L1359.8 1959.5L1370.9 1959.5Z" fill="#0000ff"/>
</g>
<rect x="208.8" y="1320.1" width="1148.2" height="183.3000000000001" fill="#fff"/>
<path d="M208.8 1319.5V1503.4H1357.0V1319.5" fill="none" stroke="#000" stroke-width="1.6"/>
<path d="M208.8 1322.5H1357.0" fill="none" stroke="#000" stroke-width="1" opacity="0.12"/>
<path d="M388.6 1327.2V1331.8M585.7 1327.2V1331.8M782.9 1327.2V1331.8M980 1327.2V1331.8M1177.2 1327.2V1331.8" fill="none" stroke="#bcbcbc" stroke-width="1.6"/>
<g font-family="'Liberation Serif', serif" fill="#000">
<path d="M213.6 1351.1H301.1" stroke="#000000" stroke-width="3.7" fill="none"/>
<rect x="247.3" y="1339.8" width="22.7" height="22.7" fill="#000000"/>
<text y="1363.1" font-size="37"><tspan x="312.9">Z</tspan><tspan x="335.9" font-size="28.5" dy="9.3">c</tspan><tspan x="348.9" dy="-9.3">/h</tspan><tspan x="385.9">=</tspan><tspan x="417.9">0.045</tspan><tspan x="512.4">-</tspan><tspan x="543.9" font-size="28.5" dy="9.3">33</tspan></text><text transform="translate(523.4 1363.1) scale(1.32 1.06)" font-size="37">ζ</text>
<path d="M213.6 1410H229.6M280.6 1410H294.6" stroke="#000000" stroke-width="3.7" fill="none"/>
<rect x="248.2" y="1399.5" width="20.9" height="20.9" fill="#fff" stroke="#000000" stroke-width="2"/>
<text y="1422" font-size="37"><tspan x="312.9">Z</tspan><tspan x="335.9" font-size="28.5" dy="9.3">c</tspan><tspan x="348.9" dy="-9.3">/h</tspan><tspan x="385.9">=</tspan><tspan x="417.9">0.045</tspan><tspan x="512.4">-</tspan><tspan x="543.9" font-size="28.5" dy="9.3">44</tspan></text><text transform="translate(523.4 1422) scale(1.32 1.06)" font-size="37">ζ</text>
<path d="M214.6 1469.2H301.1" stroke="#000000" stroke-width="3.7" stroke-dasharray="0.9 4.1" fill="none" opacity="0.55"/>
<path d="M241 1469.2L267.6 1454.4L267.6 1484Z" fill="#000000"/>
<text y="1481.2" font-size="37"><tspan x="312.9">Z</tspan><tspan x="335.9" font-size="28.5" dy="9.3">c</tspan><tspan x="348.9" dy="-9.3">/h</tspan><tspan x="385.9">=</tspan><tspan x="417.9">0.045</tspan><tspan x="512.4">-</tspan><tspan x="543.9" font-size="28.5" dy="9.3">55</tspan></text><text transform="translate(523.4 1481.2) scale(1.32 1.06)" font-size="37">ζ</text><path d="M336.9 1493.7H346.9" stroke="#000" stroke-width="1.1" stroke-dasharray="3 2" fill="none" opacity="0.75"/><path d="M544.9 1493.7H570.9" stroke="#000" stroke-width="1.3" fill="none"/>
<path d="M600.4 1351.1H686.9" stroke="#ff0000" stroke-width="3.7" fill="none"/>
<circle cx="643.1" cy="1351.1" r="12.8" fill="#ff0000"/>
<text y="1363.1" font-size="37"><tspan x="697.3">Z</tspan><tspan x="720.3" font-size="28.5" dy="9.3">c</tspan><tspan x="733.3" dy="-9.3">/h</tspan><tspan x="770.3">=</tspan><tspan x="802.3">0.055</tspan><tspan x="896.8">-</tspan><tspan x="928.3" font-size="28.5" dy="9.3">33</tspan></text><text transform="translate(907.8 1363.1) scale(1.32 1.06)" font-size="37">ζ</text>
<path d="M600.4 1410H616.4M667.4 1410H681.4" stroke="#ff0000" stroke-width="3.7" fill="none"/>
<circle cx="643.1" cy="1410" r="11.8" fill="#fff" stroke="#ff0000" stroke-width="2"/>
<text y="1422" font-size="37"><tspan x="697.3">Z</tspan><tspan x="720.3" font-size="28.5" dy="9.3">c</tspan><tspan x="733.3" dy="-9.3">/h</tspan><tspan x="770.3">=</tspan><tspan x="802.3">0.055</tspan><tspan x="896.8">-</tspan><tspan x="928.3" font-size="28.5" dy="9.3">44</tspan></text><text transform="translate(907.8 1422) scale(1.32 1.06)" font-size="37">ζ</text>
<path d="M601.4 1469.2H686.9" stroke="#ff0000" stroke-width="3.7" stroke-dasharray="0.9 4.1" fill="none" opacity="0.55"/>
<path d="M643.1 1454.2L658.1 1469.2L643.1 1484.2L628.1 1469.2Z" fill="#fff" stroke="#ff0000" stroke-width="2"/><path d="M627.1 1469.2L659.1 1469.2L643.1 1485.2Z" fill="#ff0000"/>
<text y="1481.2" font-size="37"><tspan x="697.3">Z</tspan><tspan x="720.3" font-size="28.5" dy="9.3">c</tspan><tspan x="733.3" dy="-9.3">/h</tspan><tspan x="770.3">=</tspan><tspan x="802.3">0.055</tspan><tspan x="896.8">-</tspan><tspan x="928.3" font-size="28.5" dy="9.3">55</tspan></text><text transform="translate(907.8 1481.2) scale(1.32 1.06)" font-size="37">ζ</text><path d="M721.3 1493.7H731.3" stroke="#000" stroke-width="1.1" stroke-dasharray="3 2" fill="none" opacity="0.75"/><path d="M929.3 1493.7H955.3" stroke="#000" stroke-width="1.3" fill="none"/>
<path d="M984.9 1351.1H1071.7" stroke="#0000ff" stroke-width="3.7" fill="none"/>
<path d="M1027.9 1337.8L1042.7 1364.4L1013.1 1364.4Z" fill="#0000ff"/>
<text y="1363.1" font-size="37"><tspan x="1081.8">Z</tspan><tspan x="1104.8" font-size="28.5" dy="9.3">c</tspan><tspan x="1117.8" dy="-9.3">/h</tspan><tspan x="1154.8">=</tspan><tspan x="1186.8">0.065</tspan><tspan x="1281.3">-</tspan><tspan x="1312.8" font-size="28.5" dy="9.3">33</tspan></text><text transform="translate(1292.3 1363.1) scale(1.32 1.06)" font-size="37">ζ</text>
<path d="M984.9 1410H1000.9M1051.9 1410H1065.9" stroke="#0000ff" stroke-width="3.7" fill="none"/>
<path d="M1027.9 1398.8L1041 1422.3L1014.8 1422.3Z" fill="#fff" stroke="#0000ff" stroke-width="2" stroke-linejoin="miter"/>
<text y="1422" font-size="37"><tspan x="1081.8">Z</tspan><tspan x="1104.8" font-size="28.5" dy="9.3">c</tspan><tspan x="1117.8" dy="-9.3">/h</tspan><tspan x="1154.8">=</tspan><tspan x="1186.8">0.065</tspan><tspan x="1281.3">-</tspan><tspan x="1312.8" font-size="28.5" dy="9.3">44</tspan></text><text transform="translate(1292.3 1422) scale(1.32 1.06)" font-size="37">ζ</text>
<path d="M985.9 1469.2H1071.7" stroke="#0000ff" stroke-width="3.7" stroke-dasharray="0.9 4.1" fill="none" opacity="0.55"/>
<path d="M1027.9 1455.1L1031.4 1465.6L1042.5 1465.7L1033.5 1472.2L1036.9 1482.8L1027.9 1476.3L1018.9 1482.8L1022.3 1472.2L1013.3 1465.7L1024.4 1465.6Z" fill="#0000ff"/>
<text y="1481.2" font-size="37"><tspan x="1081.8">Z</tspan><tspan x="1104.8" font-size="28.5" dy="9.3">c</tspan><tspan x="1117.8" dy="-9.3">/h</tspan><tspan x="1154.8">=</tspan><tspan x="1186.8">0.065</tspan><tspan x="1281.3">-</tspan><tspan x="1312.8" font-size="28.5" dy="9.3">55</tspan></text><text transform="translate(1292.3 1481.2) scale(1.32 1.06)" font-size="37">ζ</text><path d="M1105.8 1493.7H1115.8" stroke="#000" stroke-width="1.1" stroke-dasharray="3 2" fill="none" opacity="0.75"/><path d="M1313.8 1493.7H1339.8" stroke="#000" stroke-width="1.3" fill="none"/>
</g>
<g font-family="'Liberation Serif', serif" font-size="67.8" fill="#000" text-anchor="middle">
<text x="718.3" y="1197.2">(a)</text>
<text x="753.3" y="2480">(b)</text>
</g>
</svg>
</body></html>
